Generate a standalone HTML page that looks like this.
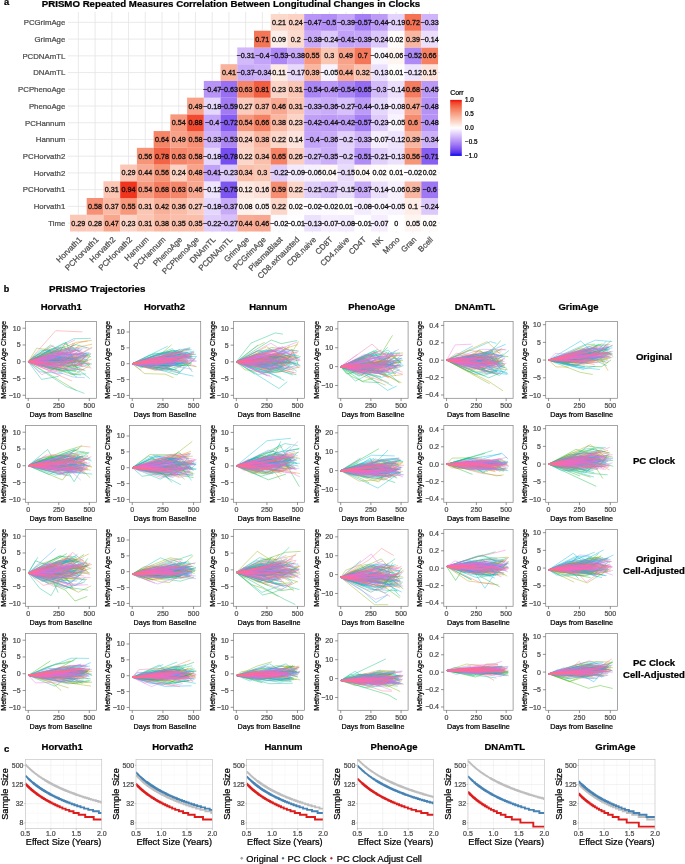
<!DOCTYPE html>
<html><head><meta charset="utf-8"><style>
html,body{margin:0;padding:0;background:#fff;}
svg text{font-family:"Liberation Sans",sans-serif;}
</style></head><body>
<svg width="685" height="864" viewBox="0 0 685 864" style="display:block;filter:blur(0.35px)">
<rect width="685" height="864" fill="#fff"/>
<g stroke="#e4e4e4" stroke-width="0.8">
<line x1="78.36" y1="12.00" x2="78.36" y2="232.45"/>
<line x1="95.09" y1="12.00" x2="95.09" y2="232.45"/>
<line x1="111.82" y1="12.00" x2="111.82" y2="232.45"/>
<line x1="128.55" y1="12.00" x2="128.55" y2="232.45"/>
<line x1="145.27" y1="12.00" x2="145.27" y2="232.45"/>
<line x1="162.00" y1="12.00" x2="162.00" y2="232.45"/>
<line x1="178.73" y1="12.00" x2="178.73" y2="232.45"/>
<line x1="195.45" y1="12.00" x2="195.45" y2="232.45"/>
<line x1="212.18" y1="12.00" x2="212.18" y2="232.45"/>
<line x1="228.91" y1="12.00" x2="228.91" y2="232.45"/>
<line x1="245.64" y1="12.00" x2="245.64" y2="232.45"/>
<line x1="262.36" y1="12.00" x2="262.36" y2="232.45"/>
<line x1="279.09" y1="12.00" x2="279.09" y2="232.45"/>
<line x1="295.82" y1="12.00" x2="295.82" y2="232.45"/>
<line x1="312.55" y1="12.00" x2="312.55" y2="232.45"/>
<line x1="329.27" y1="12.00" x2="329.27" y2="232.45"/>
<line x1="346.00" y1="12.00" x2="346.00" y2="232.45"/>
<line x1="362.73" y1="12.00" x2="362.73" y2="232.45"/>
<line x1="379.45" y1="12.00" x2="379.45" y2="232.45"/>
<line x1="396.18" y1="12.00" x2="396.18" y2="232.45"/>
<line x1="412.91" y1="12.00" x2="412.91" y2="232.45"/>
<line x1="429.64" y1="12.00" x2="429.64" y2="232.45"/>
<line x1="68.00" y1="22.36" x2="440.00" y2="22.36"/>
<line x1="68.00" y1="39.09" x2="440.00" y2="39.09"/>
<line x1="68.00" y1="55.82" x2="440.00" y2="55.82"/>
<line x1="68.00" y1="72.55" x2="440.00" y2="72.55"/>
<line x1="68.00" y1="89.27" x2="440.00" y2="89.27"/>
<line x1="68.00" y1="106.00" x2="440.00" y2="106.00"/>
<line x1="68.00" y1="122.73" x2="440.00" y2="122.73"/>
<line x1="68.00" y1="139.45" x2="440.00" y2="139.45"/>
<line x1="68.00" y1="156.18" x2="440.00" y2="156.18"/>
<line x1="68.00" y1="172.91" x2="440.00" y2="172.91"/>
<line x1="68.00" y1="189.64" x2="440.00" y2="189.64"/>
<line x1="68.00" y1="206.36" x2="440.00" y2="206.36"/>
<line x1="68.00" y1="223.09" x2="440.00" y2="223.09"/>
</g>
<g>
<rect x="70.00" y="214.73" width="16.78" height="16.78" fill="#fbc8b8"/>
<rect x="86.73" y="214.73" width="16.78" height="16.78" fill="#fbcaba"/>
<rect x="103.45" y="214.73" width="16.78" height="16.78" fill="#f8a68d"/>
<rect x="120.18" y="214.73" width="16.78" height="16.78" fill="#fcd4c7"/>
<rect x="136.91" y="214.73" width="16.78" height="16.78" fill="#fbc6b4"/>
<rect x="153.64" y="214.73" width="16.78" height="16.78" fill="#fab8a2"/>
<rect x="170.36" y="214.73" width="16.78" height="16.78" fill="#fabeaa"/>
<rect x="187.09" y="214.73" width="16.78" height="16.78" fill="#fabeaa"/>
<rect x="203.82" y="214.73" width="16.78" height="16.78" fill="#dfccfb"/>
<rect x="220.55" y="214.73" width="16.78" height="16.78" fill="#d8c1fa"/>
<rect x="237.27" y="214.73" width="16.78" height="16.78" fill="#f9ac95"/>
<rect x="254.00" y="214.73" width="16.78" height="16.78" fill="#f8a890"/>
<rect x="270.73" y="214.73" width="16.78" height="16.78" fill="#fcfaff"/>
<rect x="287.45" y="214.73" width="16.78" height="16.78" fill="#fefdff"/>
<rect x="304.18" y="214.73" width="16.78" height="16.78" fill="#ece1fd"/>
<rect x="320.91" y="214.73" width="16.78" height="16.78" fill="#f6eefe"/>
<rect x="337.64" y="214.73" width="16.78" height="16.78" fill="#f4ecfe"/>
<rect x="354.36" y="214.73" width="16.78" height="16.78" fill="#fefdff"/>
<rect x="371.09" y="214.73" width="16.78" height="16.78" fill="#f6eefe"/>
<rect x="387.82" y="214.73" width="16.78" height="16.78" fill="#ffffff"/>
<rect x="404.55" y="214.73" width="16.78" height="16.78" fill="#fef5f3"/>
<rect x="421.27" y="214.73" width="16.78" height="16.78" fill="#fffbfa"/>
<rect x="86.73" y="198.00" width="16.78" height="16.78" fill="#f79074"/>
<rect x="103.45" y="198.00" width="16.78" height="16.78" fill="#fabaa5"/>
<rect x="120.18" y="198.00" width="16.78" height="16.78" fill="#f7977b"/>
<rect x="136.91" y="198.00" width="16.78" height="16.78" fill="#fbc6b4"/>
<rect x="153.64" y="198.00" width="16.78" height="16.78" fill="#f9b09a"/>
<rect x="170.36" y="198.00" width="16.78" height="16.78" fill="#fabca7"/>
<rect x="187.09" y="198.00" width="16.78" height="16.78" fill="#fbccbd"/>
<rect x="203.82" y="198.00" width="16.78" height="16.78" fill="#e5d6fc"/>
<rect x="220.55" y="198.00" width="16.78" height="16.78" fill="#c8abf8"/>
<rect x="237.27" y="198.00" width="16.78" height="16.78" fill="#fef0eb"/>
<rect x="254.00" y="198.00" width="16.78" height="16.78" fill="#fef5f3"/>
<rect x="270.73" y="198.00" width="16.78" height="16.78" fill="#fcd6c9"/>
<rect x="287.45" y="198.00" width="16.78" height="16.78" fill="#fffbfa"/>
<rect x="304.18" y="198.00" width="16.78" height="16.78" fill="#fcfaff"/>
<rect x="320.91" y="198.00" width="16.78" height="16.78" fill="#fcfaff"/>
<rect x="337.64" y="198.00" width="16.78" height="16.78" fill="#fffdfc"/>
<rect x="354.36" y="198.00" width="16.78" height="16.78" fill="#f4ecfe"/>
<rect x="371.09" y="198.00" width="16.78" height="16.78" fill="#faf6fe"/>
<rect x="387.82" y="198.00" width="16.78" height="16.78" fill="#f8f3fe"/>
<rect x="404.55" y="198.00" width="16.78" height="16.78" fill="#feece6"/>
<rect x="421.27" y="198.00" width="16.78" height="16.78" fill="#ddc8fb"/>
<rect x="103.45" y="181.27" width="16.78" height="16.78" fill="#fbc6b4"/>
<rect x="120.18" y="181.27" width="16.78" height="16.78" fill="#f0341e"/>
<rect x="136.91" y="181.27" width="16.78" height="16.78" fill="#f7997e"/>
<rect x="153.64" y="181.27" width="16.78" height="16.78" fill="#f57c5e"/>
<rect x="170.36" y="181.27" width="16.78" height="16.78" fill="#f68669"/>
<rect x="187.09" y="181.27" width="16.78" height="16.78" fill="#f8a890"/>
<rect x="203.82" y="181.27" width="16.78" height="16.78" fill="#eee4fd"/>
<rect x="220.55" y="181.27" width="16.78" height="16.78" fill="#7d55f1"/>
<rect x="237.27" y="181.27" width="16.78" height="16.78" fill="#fde9e1"/>
<rect x="254.00" y="181.27" width="16.78" height="16.78" fill="#fde1d8"/>
<rect x="270.73" y="181.27" width="16.78" height="16.78" fill="#f78e72"/>
<rect x="287.45" y="181.27" width="16.78" height="16.78" fill="#fcd6c9"/>
<rect x="304.18" y="181.27" width="16.78" height="16.78" fill="#e1cffb"/>
<rect x="320.91" y="181.27" width="16.78" height="16.78" fill="#d8c1fa"/>
<rect x="337.64" y="181.27" width="16.78" height="16.78" fill="#eaddfc"/>
<rect x="354.36" y="181.27" width="16.78" height="16.78" fill="#c8abf8"/>
<rect x="371.09" y="181.27" width="16.78" height="16.78" fill="#ebdffc"/>
<rect x="387.82" y="181.27" width="16.78" height="16.78" fill="#f7f1fe"/>
<rect x="404.55" y="181.27" width="16.78" height="16.78" fill="#f9b6a0"/>
<rect x="421.27" y="181.27" width="16.78" height="16.78" fill="#9f77f4"/>
<rect x="120.18" y="164.55" width="16.78" height="16.78" fill="#fbc8b8"/>
<rect x="136.91" y="164.55" width="16.78" height="16.78" fill="#f9ac95"/>
<rect x="153.64" y="164.55" width="16.78" height="16.78" fill="#f79579"/>
<rect x="170.36" y="164.55" width="16.78" height="16.78" fill="#fcd2c4"/>
<rect x="187.09" y="164.55" width="16.78" height="16.78" fill="#f8a48b"/>
<rect x="203.82" y="164.55" width="16.78" height="16.78" fill="#c2a2f8"/>
<rect x="220.55" y="164.55" width="16.78" height="16.78" fill="#decafb"/>
<rect x="237.27" y="164.55" width="16.78" height="16.78" fill="#fac0ac"/>
<rect x="254.00" y="164.55" width="16.78" height="16.78" fill="#fbc7b5"/>
<rect x="270.73" y="164.55" width="16.78" height="16.78" fill="#dfccfb"/>
<rect x="287.45" y="164.55" width="16.78" height="16.78" fill="#f3ebfd"/>
<rect x="304.18" y="164.55" width="16.78" height="16.78" fill="#f7f1fe"/>
<rect x="320.91" y="164.55" width="16.78" height="16.78" fill="#fef7f5"/>
<rect x="337.64" y="164.55" width="16.78" height="16.78" fill="#eaddfc"/>
<rect x="354.36" y="164.55" width="16.78" height="16.78" fill="#fef7f5"/>
<rect x="371.09" y="164.55" width="16.78" height="16.78" fill="#fffbfa"/>
<rect x="387.82" y="164.55" width="16.78" height="16.78" fill="#fffdfc"/>
<rect x="404.55" y="164.55" width="16.78" height="16.78" fill="#fcfaff"/>
<rect x="421.27" y="164.55" width="16.78" height="16.78" fill="#fffbfa"/>
<rect x="136.91" y="147.82" width="16.78" height="16.78" fill="#f79579"/>
<rect x="153.64" y="147.82" width="16.78" height="16.78" fill="#f36447"/>
<rect x="170.36" y="147.82" width="16.78" height="16.78" fill="#f68669"/>
<rect x="187.09" y="147.82" width="16.78" height="16.78" fill="#f79074"/>
<rect x="203.82" y="147.82" width="16.78" height="16.78" fill="#e5d6fc"/>
<rect x="220.55" y="147.82" width="16.78" height="16.78" fill="#754df0"/>
<rect x="237.27" y="147.82" width="16.78" height="16.78" fill="#fcd6c9"/>
<rect x="254.00" y="147.82" width="16.78" height="16.78" fill="#fac0ac"/>
<rect x="270.73" y="147.82" width="16.78" height="16.78" fill="#f68165"/>
<rect x="287.45" y="147.82" width="16.78" height="16.78" fill="#fbcebf"/>
<rect x="304.18" y="147.82" width="16.78" height="16.78" fill="#d8c1fa"/>
<rect x="320.91" y="147.82" width="16.78" height="16.78" fill="#cbaff9"/>
<rect x="337.64" y="147.82" width="16.78" height="16.78" fill="#e2d1fb"/>
<rect x="354.36" y="147.82" width="16.78" height="16.78" fill="#b08cf6"/>
<rect x="371.09" y="147.82" width="16.78" height="16.78" fill="#e1cffb"/>
<rect x="387.82" y="147.82" width="16.78" height="16.78" fill="#ece1fd"/>
<rect x="404.55" y="147.82" width="16.78" height="16.78" fill="#f79579"/>
<rect x="421.27" y="147.82" width="16.78" height="16.78" fill="#875ef2"/>
<rect x="153.64" y="131.09" width="16.78" height="16.78" fill="#f68467"/>
<rect x="170.36" y="131.09" width="16.78" height="16.78" fill="#f8a389"/>
<rect x="187.09" y="131.09" width="16.78" height="16.78" fill="#f79074"/>
<rect x="203.82" y="131.09" width="16.78" height="16.78" fill="#cfb4f9"/>
<rect x="220.55" y="131.09" width="16.78" height="16.78" fill="#ac87f5"/>
<rect x="237.27" y="131.09" width="16.78" height="16.78" fill="#fcd2c4"/>
<rect x="254.00" y="131.09" width="16.78" height="16.78" fill="#fab8a2"/>
<rect x="270.73" y="131.09" width="16.78" height="16.78" fill="#fcd6c9"/>
<rect x="287.45" y="131.09" width="16.78" height="16.78" fill="#fde5dd"/>
<rect x="304.18" y="131.09" width="16.78" height="16.78" fill="#c3a4f8"/>
<rect x="320.91" y="131.09" width="16.78" height="16.78" fill="#caadf9"/>
<rect x="337.64" y="131.09" width="16.78" height="16.78" fill="#e2d1fb"/>
<rect x="354.36" y="131.09" width="16.78" height="16.78" fill="#cfb4f9"/>
<rect x="371.09" y="131.09" width="16.78" height="16.78" fill="#f6eefe"/>
<rect x="387.82" y="131.09" width="16.78" height="16.78" fill="#eee4fd"/>
<rect x="404.55" y="131.09" width="16.78" height="16.78" fill="#f9b6a0"/>
<rect x="421.27" y="131.09" width="16.78" height="16.78" fill="#cdb2f9"/>
<rect x="170.36" y="114.36" width="16.78" height="16.78" fill="#f7997e"/>
<rect x="187.09" y="114.36" width="16.78" height="16.78" fill="#f2492f"/>
<rect x="203.82" y="114.36" width="16.78" height="16.78" fill="#c3a4f8"/>
<rect x="220.55" y="114.36" width="16.78" height="16.78" fill="#855cf2"/>
<rect x="237.27" y="114.36" width="16.78" height="16.78" fill="#f7997e"/>
<rect x="254.00" y="114.36" width="16.78" height="16.78" fill="#f58062"/>
<rect x="270.73" y="114.36" width="16.78" height="16.78" fill="#fab8a2"/>
<rect x="287.45" y="114.36" width="16.78" height="16.78" fill="#fcd4c7"/>
<rect x="304.18" y="114.36" width="16.78" height="16.78" fill="#c09ff7"/>
<rect x="320.91" y="114.36" width="16.78" height="16.78" fill="#bc9bf7"/>
<rect x="337.64" y="114.36" width="16.78" height="16.78" fill="#c09ff7"/>
<rect x="354.36" y="114.36" width="16.78" height="16.78" fill="#a47ef5"/>
<rect x="371.09" y="114.36" width="16.78" height="16.78" fill="#decafb"/>
<rect x="387.82" y="114.36" width="16.78" height="16.78" fill="#f8f3fe"/>
<rect x="404.55" y="114.36" width="16.78" height="16.78" fill="#f68c6f"/>
<rect x="421.27" y="114.36" width="16.78" height="16.78" fill="#b592f6"/>
<rect x="187.09" y="97.64" width="16.78" height="16.78" fill="#f8a389"/>
<rect x="203.82" y="97.64" width="16.78" height="16.78" fill="#e5d6fc"/>
<rect x="220.55" y="97.64" width="16.78" height="16.78" fill="#a17af4"/>
<rect x="237.27" y="97.64" width="16.78" height="16.78" fill="#fbccbd"/>
<rect x="254.00" y="97.64" width="16.78" height="16.78" fill="#fabaa5"/>
<rect x="270.73" y="97.64" width="16.78" height="16.78" fill="#f8a890"/>
<rect x="287.45" y="97.64" width="16.78" height="16.78" fill="#fbc6b4"/>
<rect x="304.18" y="97.64" width="16.78" height="16.78" fill="#cfb4f9"/>
<rect x="320.91" y="97.64" width="16.78" height="16.78" fill="#caadf9"/>
<rect x="337.64" y="97.64" width="16.78" height="16.78" fill="#d8c1fa"/>
<rect x="354.36" y="97.64" width="16.78" height="16.78" fill="#bc9bf7"/>
<rect x="371.09" y="97.64" width="16.78" height="16.78" fill="#e5d6fc"/>
<rect x="387.82" y="97.64" width="16.78" height="16.78" fill="#f4ecfe"/>
<rect x="404.55" y="97.64" width="16.78" height="16.78" fill="#f8a68d"/>
<rect x="421.27" y="97.64" width="16.78" height="16.78" fill="#b592f6"/>
<rect x="203.82" y="80.91" width="16.78" height="16.78" fill="#b794f6"/>
<rect x="220.55" y="80.91" width="16.78" height="16.78" fill="#9970f3"/>
<rect x="237.27" y="80.91" width="16.78" height="16.78" fill="#f68669"/>
<rect x="254.00" y="80.91" width="16.78" height="16.78" fill="#f35d40"/>
<rect x="270.73" y="80.91" width="16.78" height="16.78" fill="#fcd4c7"/>
<rect x="287.45" y="80.91" width="16.78" height="16.78" fill="#fbc6b4"/>
<rect x="304.18" y="80.91" width="16.78" height="16.78" fill="#aa85f5"/>
<rect x="320.91" y="80.91" width="16.78" height="16.78" fill="#b996f7"/>
<rect x="337.64" y="80.91" width="16.78" height="16.78" fill="#aa85f5"/>
<rect x="354.36" y="80.91" width="16.78" height="16.78" fill="#946cf3"/>
<rect x="371.09" y="80.91" width="16.78" height="16.78" fill="#d3bbfa"/>
<rect x="387.82" y="80.91" width="16.78" height="16.78" fill="#ebdffc"/>
<rect x="404.55" y="80.91" width="16.78" height="16.78" fill="#f57c5e"/>
<rect x="421.27" y="80.91" width="16.78" height="16.78" fill="#bb99f7"/>
<rect x="220.55" y="64.18" width="16.78" height="16.78" fill="#f9b29c"/>
<rect x="237.27" y="64.18" width="16.78" height="16.78" fill="#c8abf8"/>
<rect x="254.00" y="64.18" width="16.78" height="16.78" fill="#cdb2f9"/>
<rect x="270.73" y="64.18" width="16.78" height="16.78" fill="#fdebe3"/>
<rect x="287.45" y="64.18" width="16.78" height="16.78" fill="#e7d8fc"/>
<rect x="304.18" y="64.18" width="16.78" height="16.78" fill="#f9b6a0"/>
<rect x="320.91" y="64.18" width="16.78" height="16.78" fill="#f8f3fe"/>
<rect x="337.64" y="64.18" width="16.78" height="16.78" fill="#f9ac95"/>
<rect x="354.36" y="64.18" width="16.78" height="16.78" fill="#fac4b1"/>
<rect x="371.09" y="64.18" width="16.78" height="16.78" fill="#ece1fd"/>
<rect x="387.82" y="64.18" width="16.78" height="16.78" fill="#fffdfc"/>
<rect x="404.55" y="64.18" width="16.78" height="16.78" fill="#eee4fd"/>
<rect x="421.27" y="64.18" width="16.78" height="16.78" fill="#fde3da"/>
<rect x="237.27" y="47.45" width="16.78" height="16.78" fill="#d2b9f9"/>
<rect x="254.00" y="47.45" width="16.78" height="16.78" fill="#c3a4f8"/>
<rect x="270.73" y="47.45" width="16.78" height="16.78" fill="#ac87f5"/>
<rect x="287.45" y="47.45" width="16.78" height="16.78" fill="#c7a9f8"/>
<rect x="304.18" y="47.45" width="16.78" height="16.78" fill="#f7977b"/>
<rect x="320.91" y="47.45" width="16.78" height="16.78" fill="#fbc7b5"/>
<rect x="337.64" y="47.45" width="16.78" height="16.78" fill="#f8a389"/>
<rect x="354.36" y="47.45" width="16.78" height="16.78" fill="#f57759"/>
<rect x="371.09" y="47.45" width="16.78" height="16.78" fill="#faf6fe"/>
<rect x="387.82" y="47.45" width="16.78" height="16.78" fill="#fef4f0"/>
<rect x="404.55" y="47.45" width="16.78" height="16.78" fill="#ae8af6"/>
<rect x="421.27" y="47.45" width="16.78" height="16.78" fill="#f58062"/>
<rect x="254.00" y="30.73" width="16.78" height="16.78" fill="#f57557"/>
<rect x="270.73" y="30.73" width="16.78" height="16.78" fill="#feeee9"/>
<rect x="287.45" y="30.73" width="16.78" height="16.78" fill="#fcdacd"/>
<rect x="304.18" y="30.73" width="16.78" height="16.78" fill="#c7a9f8"/>
<rect x="320.91" y="30.73" width="16.78" height="16.78" fill="#ddc8fb"/>
<rect x="337.64" y="30.73" width="16.78" height="16.78" fill="#c2a2f8"/>
<rect x="354.36" y="30.73" width="16.78" height="16.78" fill="#c5a6f8"/>
<rect x="371.09" y="30.73" width="16.78" height="16.78" fill="#ddc8fb"/>
<rect x="387.82" y="30.73" width="16.78" height="16.78" fill="#fffbfa"/>
<rect x="404.55" y="30.73" width="16.78" height="16.78" fill="#f9b6a0"/>
<rect x="421.27" y="30.73" width="16.78" height="16.78" fill="#ebdffc"/>
<rect x="270.73" y="14.00" width="16.78" height="16.78" fill="#fcd8cb"/>
<rect x="287.45" y="14.00" width="16.78" height="16.78" fill="#fcd2c4"/>
<rect x="304.18" y="14.00" width="16.78" height="16.78" fill="#b794f6"/>
<rect x="320.91" y="14.00" width="16.78" height="16.78" fill="#b28ef6"/>
<rect x="337.64" y="14.00" width="16.78" height="16.78" fill="#c5a6f8"/>
<rect x="354.36" y="14.00" width="16.78" height="16.78" fill="#a47ef5"/>
<rect x="371.09" y="14.00" width="16.78" height="16.78" fill="#bc9bf7"/>
<rect x="387.82" y="14.00" width="16.78" height="16.78" fill="#e4d3fc"/>
<rect x="404.55" y="14.00" width="16.78" height="16.78" fill="#f57354"/>
<rect x="421.27" y="14.00" width="16.78" height="16.78" fill="#cfb4f9"/>
</g>
<g font-family="Liberation Sans, sans-serif" font-size="7.2" fill="#111" stroke="#111" stroke-width="0.3" text-anchor="middle">
<text x="78.36" y="225.59">0.29</text>
<text x="95.09" y="225.59">0.28</text>
<text x="111.82" y="225.59">0.47</text>
<text x="128.55" y="225.59">0.23</text>
<text x="145.27" y="225.59">0.31</text>
<text x="162.00" y="225.59">0.38</text>
<text x="178.73" y="225.59">0.35</text>
<text x="195.45" y="225.59">0.35</text>
<text x="212.18" y="225.59">−0.22</text>
<text x="228.91" y="225.59">−0.27</text>
<text x="245.64" y="225.59">0.44</text>
<text x="262.36" y="225.59">0.46</text>
<text x="279.09" y="225.59">−0.02</text>
<text x="295.82" y="225.59">−0.01</text>
<text x="312.55" y="225.59">−0.13</text>
<text x="329.27" y="225.59">−0.07</text>
<text x="346.00" y="225.59">−0.08</text>
<text x="362.73" y="225.59">−0.01</text>
<text x="379.45" y="225.59">−0.07</text>
<text x="396.18" y="225.59">0</text>
<text x="412.91" y="225.59">0.05</text>
<text x="429.64" y="225.59">0.02</text>
<text x="95.09" y="208.86">0.58</text>
<text x="111.82" y="208.86">0.37</text>
<text x="128.55" y="208.86">0.55</text>
<text x="145.27" y="208.86">0.31</text>
<text x="162.00" y="208.86">0.42</text>
<text x="178.73" y="208.86">0.36</text>
<text x="195.45" y="208.86">0.27</text>
<text x="212.18" y="208.86">−0.18</text>
<text x="228.91" y="208.86">−0.37</text>
<text x="245.64" y="208.86">0.08</text>
<text x="262.36" y="208.86">0.05</text>
<text x="279.09" y="208.86">0.22</text>
<text x="295.82" y="208.86">0.02</text>
<text x="312.55" y="208.86">−0.02</text>
<text x="329.27" y="208.86">−0.02</text>
<text x="346.00" y="208.86">0.01</text>
<text x="362.73" y="208.86">−0.08</text>
<text x="379.45" y="208.86">−0.04</text>
<text x="396.18" y="208.86">−0.05</text>
<text x="412.91" y="208.86">0.1</text>
<text x="429.64" y="208.86">−0.24</text>
<text x="111.82" y="192.14">0.31</text>
<text x="128.55" y="192.14">0.94</text>
<text x="145.27" y="192.14">0.54</text>
<text x="162.00" y="192.14">0.68</text>
<text x="178.73" y="192.14">0.63</text>
<text x="195.45" y="192.14">0.46</text>
<text x="212.18" y="192.14">−0.12</text>
<text x="228.91" y="192.14">−0.75</text>
<text x="245.64" y="192.14">0.12</text>
<text x="262.36" y="192.14">0.16</text>
<text x="279.09" y="192.14">0.59</text>
<text x="295.82" y="192.14">0.22</text>
<text x="312.55" y="192.14">−0.21</text>
<text x="329.27" y="192.14">−0.27</text>
<text x="346.00" y="192.14">−0.15</text>
<text x="362.73" y="192.14">−0.37</text>
<text x="379.45" y="192.14">−0.14</text>
<text x="396.18" y="192.14">−0.06</text>
<text x="412.91" y="192.14">0.39</text>
<text x="429.64" y="192.14">−0.6</text>
<text x="128.55" y="175.41">0.29</text>
<text x="145.27" y="175.41">0.44</text>
<text x="162.00" y="175.41">0.56</text>
<text x="178.73" y="175.41">0.24</text>
<text x="195.45" y="175.41">0.48</text>
<text x="212.18" y="175.41">−0.41</text>
<text x="228.91" y="175.41">−0.23</text>
<text x="245.64" y="175.41">0.34</text>
<text x="262.36" y="175.41">0.3</text>
<text x="279.09" y="175.41">−0.22</text>
<text x="295.82" y="175.41">−0.09</text>
<text x="312.55" y="175.41">−0.06</text>
<text x="329.27" y="175.41">0.04</text>
<text x="346.00" y="175.41">−0.15</text>
<text x="362.73" y="175.41">0.04</text>
<text x="379.45" y="175.41">0.02</text>
<text x="396.18" y="175.41">0.01</text>
<text x="412.91" y="175.41">−0.02</text>
<text x="429.64" y="175.41">0.02</text>
<text x="145.27" y="158.68">0.56</text>
<text x="162.00" y="158.68">0.78</text>
<text x="178.73" y="158.68">0.63</text>
<text x="195.45" y="158.68">0.58</text>
<text x="212.18" y="158.68">−0.18</text>
<text x="228.91" y="158.68">−0.78</text>
<text x="245.64" y="158.68">0.22</text>
<text x="262.36" y="158.68">0.34</text>
<text x="279.09" y="158.68">0.65</text>
<text x="295.82" y="158.68">0.26</text>
<text x="312.55" y="158.68">−0.27</text>
<text x="329.27" y="158.68">−0.35</text>
<text x="346.00" y="158.68">−0.2</text>
<text x="362.73" y="158.68">−0.51</text>
<text x="379.45" y="158.68">−0.21</text>
<text x="396.18" y="158.68">−0.13</text>
<text x="412.91" y="158.68">0.56</text>
<text x="429.64" y="158.68">−0.71</text>
<text x="162.00" y="141.95">0.64</text>
<text x="178.73" y="141.95">0.49</text>
<text x="195.45" y="141.95">0.58</text>
<text x="212.18" y="141.95">−0.33</text>
<text x="228.91" y="141.95">−0.53</text>
<text x="245.64" y="141.95">0.24</text>
<text x="262.36" y="141.95">0.38</text>
<text x="279.09" y="141.95">0.22</text>
<text x="295.82" y="141.95">0.14</text>
<text x="312.55" y="141.95">−0.4</text>
<text x="329.27" y="141.95">−0.36</text>
<text x="346.00" y="141.95">−0.2</text>
<text x="362.73" y="141.95">−0.33</text>
<text x="379.45" y="141.95">−0.07</text>
<text x="396.18" y="141.95">−0.12</text>
<text x="412.91" y="141.95">0.39</text>
<text x="429.64" y="141.95">−0.34</text>
<text x="178.73" y="125.23">0.54</text>
<text x="195.45" y="125.23">0.88</text>
<text x="212.18" y="125.23">−0.4</text>
<text x="228.91" y="125.23">−0.72</text>
<text x="245.64" y="125.23">0.54</text>
<text x="262.36" y="125.23">0.66</text>
<text x="279.09" y="125.23">0.38</text>
<text x="295.82" y="125.23">0.23</text>
<text x="312.55" y="125.23">−0.42</text>
<text x="329.27" y="125.23">−0.44</text>
<text x="346.00" y="125.23">−0.42</text>
<text x="362.73" y="125.23">−0.57</text>
<text x="379.45" y="125.23">−0.23</text>
<text x="396.18" y="125.23">−0.05</text>
<text x="412.91" y="125.23">0.6</text>
<text x="429.64" y="125.23">−0.48</text>
<text x="195.45" y="108.50">0.49</text>
<text x="212.18" y="108.50">−0.18</text>
<text x="228.91" y="108.50">−0.59</text>
<text x="245.64" y="108.50">0.27</text>
<text x="262.36" y="108.50">0.37</text>
<text x="279.09" y="108.50">0.46</text>
<text x="295.82" y="108.50">0.31</text>
<text x="312.55" y="108.50">−0.33</text>
<text x="329.27" y="108.50">−0.36</text>
<text x="346.00" y="108.50">−0.27</text>
<text x="362.73" y="108.50">−0.44</text>
<text x="379.45" y="108.50">−0.18</text>
<text x="396.18" y="108.50">−0.08</text>
<text x="412.91" y="108.50">0.47</text>
<text x="429.64" y="108.50">−0.48</text>
<text x="212.18" y="91.77">−0.47</text>
<text x="228.91" y="91.77">−0.63</text>
<text x="245.64" y="91.77">0.63</text>
<text x="262.36" y="91.77">0.81</text>
<text x="279.09" y="91.77">0.23</text>
<text x="295.82" y="91.77">0.31</text>
<text x="312.55" y="91.77">−0.54</text>
<text x="329.27" y="91.77">−0.46</text>
<text x="346.00" y="91.77">−0.54</text>
<text x="362.73" y="91.77">−0.65</text>
<text x="379.45" y="91.77">−0.3</text>
<text x="396.18" y="91.77">−0.14</text>
<text x="412.91" y="91.77">0.68</text>
<text x="429.64" y="91.77">−0.45</text>
<text x="228.91" y="75.05">0.41</text>
<text x="245.64" y="75.05">−0.37</text>
<text x="262.36" y="75.05">−0.34</text>
<text x="279.09" y="75.05">0.11</text>
<text x="295.82" y="75.05">−0.17</text>
<text x="312.55" y="75.05">0.39</text>
<text x="329.27" y="75.05">−0.05</text>
<text x="346.00" y="75.05">0.44</text>
<text x="362.73" y="75.05">0.32</text>
<text x="379.45" y="75.05">−0.13</text>
<text x="396.18" y="75.05">0.01</text>
<text x="412.91" y="75.05">−0.12</text>
<text x="429.64" y="75.05">0.15</text>
<text x="245.64" y="58.32">−0.31</text>
<text x="262.36" y="58.32">−0.4</text>
<text x="279.09" y="58.32">−0.53</text>
<text x="295.82" y="58.32">−0.38</text>
<text x="312.55" y="58.32">0.55</text>
<text x="329.27" y="58.32">0.3</text>
<text x="346.00" y="58.32">0.49</text>
<text x="362.73" y="58.32">0.7</text>
<text x="379.45" y="58.32">−0.04</text>
<text x="396.18" y="58.32">0.06</text>
<text x="412.91" y="58.32">−0.52</text>
<text x="429.64" y="58.32">0.66</text>
<text x="262.36" y="41.59">0.71</text>
<text x="279.09" y="41.59">0.09</text>
<text x="295.82" y="41.59">0.2</text>
<text x="312.55" y="41.59">−0.38</text>
<text x="329.27" y="41.59">−0.24</text>
<text x="346.00" y="41.59">−0.41</text>
<text x="362.73" y="41.59">−0.39</text>
<text x="379.45" y="41.59">−0.24</text>
<text x="396.18" y="41.59">0.02</text>
<text x="412.91" y="41.59">0.39</text>
<text x="429.64" y="41.59">−0.14</text>
<text x="279.09" y="24.86">0.21</text>
<text x="295.82" y="24.86">0.24</text>
<text x="312.55" y="24.86">−0.47</text>
<text x="329.27" y="24.86">−0.5</text>
<text x="346.00" y="24.86">−0.39</text>
<text x="362.73" y="24.86">−0.57</text>
<text x="379.45" y="24.86">−0.44</text>
<text x="396.18" y="24.86">−0.19</text>
<text x="412.91" y="24.86">0.72</text>
<text x="429.64" y="24.86">−0.33</text>
</g>
<g font-family="Liberation Sans, sans-serif" font-size="7.8" fill="#4d4d4d" text-anchor="end" stroke="#4d4d4d" stroke-width="0.24">
<text x="65.3" y="25.16">PCGrimAge</text>
<text x="65.3" y="41.89">GrimAge</text>
<text x="65.3" y="58.62">PCDNAmTL</text>
<text x="65.3" y="75.35">DNAmTL</text>
<text x="65.3" y="92.07">PCPhenoAge</text>
<text x="65.3" y="108.80">PhenoAge</text>
<text x="65.3" y="125.53">PCHannum</text>
<text x="65.3" y="142.25">Hannum</text>
<text x="65.3" y="158.98">PCHorvath2</text>
<text x="65.3" y="175.71">Horvath2</text>
<text x="65.3" y="192.44">PCHorvath1</text>
<text x="65.3" y="209.16">Horvath1</text>
<text x="65.3" y="225.89">Time</text>
</g>
<g font-family="Liberation Sans, sans-serif" font-size="8" fill="#4d4d4d" text-anchor="end" stroke="#4d4d4d" stroke-width="0.24">
<text x="82.36" y="240.15" transform="rotate(-45 82.36 240.15)">Horvath1</text>
<text x="99.09" y="240.15" transform="rotate(-45 99.09 240.15)">PCHorvath1</text>
<text x="115.82" y="240.15" transform="rotate(-45 115.82 240.15)">Horvath2</text>
<text x="132.55" y="240.15" transform="rotate(-45 132.55 240.15)">PCHorvath2</text>
<text x="149.27" y="240.15" transform="rotate(-45 149.27 240.15)">Hannum</text>
<text x="166.00" y="240.15" transform="rotate(-45 166.00 240.15)">PCHannum</text>
<text x="182.73" y="240.15" transform="rotate(-45 182.73 240.15)">PhenoAge</text>
<text x="199.45" y="240.15" transform="rotate(-45 199.45 240.15)">PCPhenoAge</text>
<text x="216.18" y="240.15" transform="rotate(-45 216.18 240.15)">DNAmTL</text>
<text x="232.91" y="240.15" transform="rotate(-45 232.91 240.15)">PCDNAmTL</text>
<text x="249.64" y="240.15" transform="rotate(-45 249.64 240.15)">GrimAge</text>
<text x="266.36" y="240.15" transform="rotate(-45 266.36 240.15)">PCGrimAge</text>
<text x="283.09" y="240.15" transform="rotate(-45 283.09 240.15)">PlasmaBlast</text>
<text x="299.82" y="240.15" transform="rotate(-45 299.82 240.15)">CD8.exhausted</text>
<text x="316.55" y="240.15" transform="rotate(-45 316.55 240.15)">CD8.naive</text>
<text x="333.27" y="240.15" transform="rotate(-45 333.27 240.15)">CD8T</text>
<text x="350.00" y="240.15" transform="rotate(-45 350.00 240.15)">CD4.naive</text>
<text x="366.73" y="240.15" transform="rotate(-45 366.73 240.15)">CD4T</text>
<text x="383.45" y="240.15" transform="rotate(-45 383.45 240.15)">NK</text>
<text x="400.18" y="240.15" transform="rotate(-45 400.18 240.15)">Mono</text>
<text x="416.91" y="240.15" transform="rotate(-45 416.91 240.15)">Gran</text>
<text x="433.64" y="240.15" transform="rotate(-45 433.64 240.15)">Bcell</text>
</g>
<defs><linearGradient id="lg" x1="0" y1="0" x2="0" y2="1">
<stop offset="0.000" stop-color="#ed0808"/>
<stop offset="0.050" stop-color="#f1432a"/>
<stop offset="0.100" stop-color="#f36042"/>
<stop offset="0.150" stop-color="#f57759"/>
<stop offset="0.200" stop-color="#f68c6f"/>
<stop offset="0.250" stop-color="#f8a186"/>
<stop offset="0.300" stop-color="#f9b49e"/>
<stop offset="0.350" stop-color="#fbc7b5"/>
<stop offset="0.400" stop-color="#fcdacd"/>
<stop offset="0.450" stop-color="#feece6"/>
<stop offset="0.500" stop-color="#ffffff"/>
<stop offset="0.550" stop-color="#f2e8fd"/>
<stop offset="0.600" stop-color="#e2d1fb"/>
<stop offset="0.650" stop-color="#d3bbfa"/>
<stop offset="0.700" stop-color="#c3a4f8"/>
<stop offset="0.750" stop-color="#b28ef6"/>
<stop offset="0.800" stop-color="#9f77f4"/>
<stop offset="0.850" stop-color="#8960f2"/>
<stop offset="0.900" stop-color="#7048f0"/>
<stop offset="0.950" stop-color="#502fed"/>
<stop offset="1.000" stop-color="#0303e8"/>
</linearGradient></defs>
<rect x="450.2" y="99.9" width="11.6" height="56" fill="url(#lg)"/>
<g font-family="Liberation Sans, sans-serif" font-size="6.3" fill="#000" stroke="#000" stroke-width="0.24">
<text x="450.2" y="95.3" font-size="6.9">Corr</text>
<text x="465" y="102.10">1.0</text>
<text x="465" y="116.10">0.5</text>
<text x="465" y="130.10">0.0</text>
<text x="465" y="144.10">−0.5</text>
<text x="465" y="158.10">−1.0</text>
</g>
<g font-family="Liberation Sans, sans-serif" font-weight="bold" fill="#000" stroke="#000" stroke-width="0.24">
<text x="4" y="5.2" font-size="9.3">a</text>
<text x="41.8" y="7.2" font-size="9.68">PRISMO Repeated Measures Correlation Between Longitudinal Changes in Clocks</text>
<text x="3.8" y="292" font-size="9">b</text>
<text x="49" y="292" font-size="9.8">PRISMO Trajectories</text>
<text x="3.9" y="752" font-size="9.6">c</text>
</g>
<g fill="none" stroke-width="5" stroke-opacity="0.82" transform="scale(0.1)">
<path stroke="#f8766d" d="M282 3617l194 8 87-25M1323 3637l237 68 109-19 135 48M2363 3619l185-23 266-83 75-26M3407 3666l415 146M4466 3602l120-22 220-22 176 5M5486 3601l301-116 183 25 117-17M282 4657l242-111 131 17 165 42M1323 4677l483-65M2363 4659l309-33 222-59M3407 4706l291-17M4466 4642l297 8 231-65 67 42M5486 4641l203-14 135-65 69 47M282 5731l478 170M1323 5742l285-62 199 37 107-1M2363 5725l372 37 73 19 177-23M3407 5774l225 7 208 67 179-10M4466 5665l272-36 150 32 158 10M5486 5698l333-22 152-49M282 6754l223-29 183 42 159-41M1323 6773l272 31M2363 6755l279-8 232 22M3407 6805l337-29 256-17M4466 6705l345 5 137-8 60-2M5486 6738l309-50"/>
<path stroke="#f77867" d="M282 3617l437 193M1323 3637l90 66M2363 3619l194-73 105-9M3407 3666l452-67M4466 3602l195 57 168-108 156 32M5486 3601l279 19 85 7 95 19M282 4657l360 13 79-19 148-27M1323 4677l446-26 125-9M2363 4659l436 50 156-34M3407 4706l363 3 135-39M4466 4642l354 92 194 24M5486 4641l314-16 146-11 121-45M282 5731l279-30 238-24M1323 5742l277-17 239 52M2363 5725l276-24 265-41M3407 5774l283-175 125-115 122 71M4466 5665l183-5 247-18M5486 5698l341-74 83 90 168-18M282 6754l196 10 210 48 130-51M1323 6773l198 16 197-27M2363 6755l479-7M3407 6805l312-29 108-37 89 7M4466 6705l280-3 121-3M5486 6738l190-27 117-97 82 117"/>
<path stroke="#f57961" d="M282 3617l290 4 146 34M1323 3637l302 48 155-71 80-21M2363 3619l354 47 84-66M3407 3666l353-37 265 92M4466 3602l310-33 239-51M5486 3601l380-15 258-136M282 4657l316 0 259 41M1323 4677l273-23 154 38 120-13M2363 4659l266 48 93-92 158-79M3407 4706l358-102 230-22M4466 4642l211-22 242 32 105-18M5486 4641l367 12 136-7 107 54M282 5731l269 49 166-33 127 13M1323 5742l293 12 171 4 152 15M2363 5725l247 34 151-55M3407 5774l279-72M4466 5665l242 42 143-2 156-14M5486 5698l332-50 189 28 95-36M282 6754l152 14M1323 6773l301 29 130-46 109-2M2363 6755l281 12 81 0M3407 6805l445-34 179-6M4466 6705l321-33 194 2M5486 6738l435-57 78 17 80-23"/>
<path stroke="#f47b5b" d="M282 3617l238-17 210 13M1323 3637l50 10 137-41M2363 3619l219 86 231-89 142 19M3407 3666l270 65 98-1 111 42M4466 3602l150 39 219-24 132-7M5486 3601l468-54 155 25M282 4657l194-2 187-5M1323 4677l209-47 117 70 155-49M2363 4659l433-26M3407 4706l442-5M4466 4642l443 46M5486 4641l126-16 257-38M282 5731l375-44 201-1M1323 5742l242-10 146-35 168 17M2363 5725l308-115 141 80M3407 5774l424 58 171-127M4466 5665l433-26 86 55 80-47M5486 5698l235 2 94-9 164-60M282 6754l417-35 178 1M1323 6773l487 5 151-32M2363 6755l436 1M3407 6805l253 15 94 7M4466 6705l179 4M5486 6738l476-26 131 10"/>
<path stroke="#f27c55" d="M282 3617l322-55 169 47 131 39M1323 3637l254-20 249-31M2363 3619l231 20 80-71M3407 3666l388 38 136-74 65-31M4466 3602l438 7 95-25M5486 3601l447-37M282 4657l105-46 209 4 159-50M1323 4677l387-71 179-27M2363 4659l275-51 233 13M3407 4706l303 10 76-5 179 60M4466 4642l264 18 173-42 140 81M5486 4641l450-14 86 12M282 5731l222-54 206-16 132 24M1323 5742l143-57 228-16M2363 5725l359-10 177 99M3407 5774l186-13 99 74 172 36M4466 5665l135 21 240 36 166 2M5486 5698l156-3M282 6754l220 12 85 49 155-69M1323 6773l232-31 204 24 126-88M2363 6755l336-40M3407 6805l417-19 209-31M4466 6705l201 9 91-1M5486 6738l99 7 105-8 93 9"/>
<path stroke="#f07e4e" d="M282 3617l482 61M1323 3637l349-120 133 31M2363 3619l392-58 105-86M3407 3666l313 39 223-22M4466 3602l339-38 118 46M5486 3601l399-114M282 4657l440 2M1323 4677l254-36 233-75 65 8M2363 4659l287-4 258 4M3407 4706l331-1M4466 4642l316 16 262 48M5486 4641l327 5 145-49M282 5731l243-54 103 51 136-29M1323 5742l316-49 221-1M2363 5725l316-63 249-72M3407 5774l399-26 121-2 73 50M4466 5665l452 25M5486 5698l378-61 75 0M282 6754l185-21 123 0 130 45M1323 6773l292 26 238-51M2363 6755l250 16M3407 6805l257-18 138-46 150-27M4466 6705l218-3 114 3 60-21M5486 6738l449-29 153-11"/>
<path stroke="#ef7f47" d="M282 3617l188 18 106-48 77-7M1323 3637l427-58 121-36M2363 3619l242 47 91 33 124-67M3407 3666l312 86 172 78M4466 3602l275-64 255 101M5486 3601l319-24 254-48 65 12M282 4657l257 7 108 96 81-34M1323 4677l407-51M2363 4659l194-10 257 68 117-50M3407 4706l306-34 114 6M4466 4642l126-16 209 6 160-13M5486 4641l377-44 122 63M282 5731l263 5 259-93M1323 5742l201 57 112-30 150-38M2363 5725l327-112 186 91 85 10M3407 5774l298 2 165-12 104-6M4466 5665l174-28 229-24M5486 5698l217 34 248 4 106-61M282 6754l392-60 249 20M1323 6773l423-37M2363 6755l311-18 236-52 65-1M3407 6805l148 53 90-42M4466 6705l367 36 108 63M5486 6738l186 36 187-44 179 27"/>
<path stroke="#ed813f" d="M282 3617l467-28 143 37M1323 3637l258 4 97-21 85 22M2363 3619l315 0 225-9M3407 3666l205 15 180-40 108 50M4466 3602l467 34 97 4M5486 3601l211 43 216-24M282 4657l459-144 74-51 89 8M1323 4677l263-13 204-21 130-35M2363 4659l378 14 225 15M3407 4706l192-67 115 25 144 51M4466 4642l330-22 166 10 106 3M5486 4641l465 7 137 4M282 5731l413-47 145 12M1323 5742l468 10M2363 5725l381-63 213-30M3407 5774l314 8 100-31 137 2M4466 5665l133 43 176-35 120 9M5486 5698l490-13M282 6754l463-99 118 6M1323 6773l357-86 225-87M2363 6755l199-50M3407 6805l327 3M4466 6705l231 18 187 20 90-19M5486 6738l474-38 114-3"/>
<path stroke="#eb8236" d="M282 3617l291-19 146-20 177-1M1323 3637l379-7 160-66M2363 3619l462-50 160-53M3407 3666l248 60M4466 3602l127 27 248-31M5486 3601l274 49 271-34M282 4657l156 5 130-29 101-23M1323 4677l343-3 157-6M2363 4659l379-113 219-4M3407 4706l116-9 238 20 108-5M4466 4642l224 7 167 15 122-28M5486 4641l342-110M282 5731l310 25 78-36M1323 5742l213-36M2363 5725l379 0 232 0M3407 5774l167 16 193-66 137-58M4466 5665l211 28 253 36 126-51M5486 5698l335-79M282 6754l172 43 263-42 113-20M1323 6773l138-50 173 1M2363 6755l314-45 261 3M3407 6805l386-7 155-11M4466 6705l291 6 153 28 117-2M5486 6738l72 20 269-54 146 18"/>
<path stroke="#e9842c" d="M282 3617l415-143 93-48 87-15M1323 3637l393-70 162 10M2363 3619l479 16M3407 3666l192 24M4466 3602l272 48 233-84M5486 3601l351 33 89-8M282 4657l105-25 159-17M1323 4677l395-6M2363 4659l224 24 122-10 96 125M3407 4706l307-29 218 21 77 0M4466 4642l114 45 101-15M5486 4641l232-23 99 43 140-25M282 5731l275-94 255 42 106-36M1323 5742l310-93 173 5M2363 5725l456-121 135 81M3407 5774l200-15 225 74 65-52M4466 5665l376 73M5486 5698l241-17M282 6754l246 25 182-32 132 29M1323 6773l265-24 190-25M2363 6755l378-32M3407 6805l452 2 125-12M4466 6705l354-27M5486 6738l419-40 120-22"/>
<path stroke="#e7851e" d="M282 3617l188-48 123 65M1323 3637l223 4 180 6M2363 3619l421-51M3407 3666l326-30 238-90M4466 3602l112 15 149-75 72 20M5486 3601l326-19 267 43M282 4657l327-107 147 6M1323 4677l426-11 171-63M2363 4659l405-92M3407 4706l157 11 152-14 135-36M4466 4642l253 16 244 18M5486 4641l449-68 76-37M282 5731l276-48M1323 5742l159 58 192-18 139-52M2363 5725l206-35 180-39M3407 5774l340-96M4466 5665l368 10 108-25M5486 5698l376-27 145 74M282 6754l266-52M1323 6773l392-16 124 12 62-25M2363 6755l202-68M3407 6805l306-43 150 14 92 35M4466 6705l290-6M5486 6738l398-17"/>
<path stroke="#e58708" d="M282 3617l199-13 236-38M1323 3637l199-74 204-51 130 36M2363 3619l71 33M3407 3666l156 10 164-64 72 107M4466 3602l226-100 136 23 96 7M5486 3601l402-54 241-8M282 4657l406-44M1323 4677l321 25 267-27M2363 4659l405-74 163-11M3407 4706l441 42 142-54M4466 4642l357 30 152-1M5486 4641l286-112M282 5731l427-47M1323 5742l199-26M2363 5725l244-64 195 43 130-4M3407 5774l271-92 131 10 172-36M4466 5665l389 6 225 5M5486 5698l484 19M282 6754l340 11 231-15M1323 6773l290 6 186-77 67 65M2363 6755l480-33 115-4M3407 6805l322 37 99 0 72-25M4466 6705l300 21M5486 6738l392-32 182-43"/>
<path stroke="#e38800" d="M282 3617l120-34M1323 3637l258-18M2363 3619l206-13 125-102 170 46M3407 3666l243-33 230-70 147-10M4466 3602l111-11M5486 3601l489-70 106 176M282 4657l273-6 166 24M1323 4677l423 20 94 4M2363 4659l287-8M3407 4706l292 12 81 3M4466 4642l387-3M5486 4641l195-18 144 18 61-79M282 5731l183-67 179-76 110 6M1323 5742l331-72 264-9M2363 5725l306-48M3407 5774l228-25 171-21 171 113M4466 5665l128 16 89 11M5486 5698l248 25 177-3 158-40M282 6754l354-48 143-38M1323 6773l280-2 105 10M2363 6755l109 2 136-7 114-15M3407 6805l318-51 174 2M4466 6705l203-8M5486 6738l318-44 269-37"/>
<path stroke="#e18a00" d="M282 3617l407-125 232-50M1323 3637l140 40 203 2 92-32M2363 3619l219-16 95 8 92 51M3407 3666l243-11 97 63M4466 3602l447-5M5486 3601l167 0 108-21M282 4657l277-17 250-56M1323 4677l396-49 139 25 68-35M2363 4659l230 77 84 4M3407 4706l450-79 171 1M4466 4642l335-17 252-16M5486 4641l388-87 207-50M282 5731l488-141M1323 5742l114-73 194-5M2363 5725l368 80M3407 5774l322-50 81-17 74-80M4466 5665l261-24 213-3M5486 5698l350-6 223 0M282 6754l373-6 230-43M1323 6773l384 51 83-61 97 0M2363 6755l362-34 243-25M3407 6805l422-31 123-5M4466 6705l292-4 120 4 164 2M5486 6738l69-7 209 2 145-28"/>
<path stroke="#df8b00" d="M282 3617l53-55 124 67 175 40M1323 3637l54-8 112-21M2363 3619l409-47M3407 3666l323-1 123 69 84-97M4466 3602l271-4 199 32 66-18M5486 3601l341-25 99 25 63-4M282 4657l454 6 139 19M1323 4677l190 44 238-43 184 15M2363 4659l250-17 218-64M3407 4706l373 17 192-29M4466 4642l168 44 244-53 154 10M5486 4641l343-37 268-82M282 5731l435-43 116-50 65 1M1323 5742l250-17 138-17M2363 5725l204-37 142 76M3407 5774l212-14 191 105 166-6M4466 5665l430-30 161-28M5486 5698l398-1 75-48 83 47M282 6754l215-15 93-18M1323 6773l282-7 142 59 138-46M2363 6755l416-59 102-26 68-2M3407 6805l322-64 167 37 126-18M4466 6705l272-28 114 3M5486 6738l413 12"/>
<path stroke="#dd8d00" d="M282 3617l298-109 201 76 71-7M1323 3637l399-75 208 9M2363 3619l407 108 234-58M3407 3666l253-60 250 53M4466 3602l353 96 136-88M5486 3601l334-15 236-73M282 4657l242-5 79-39 95-1M1323 4677l452-13M2363 4659l440-69 145-23M3407 4706l368-88M4466 4642l342-17 233 19M5486 4641l359 59M282 5731l360 91M1323 5742l204-19 179 33 66-23M2363 5725l253 26 186-32 123-18M3407 5774l253-23 183 27 175-52M4466 5665l310 59 204 20M5486 5698l311-10 91-12M282 6754l258 30 125-7 171 14M1323 6773l289-20 103-56M2363 6755l159-29 175 66 168-74M3407 6805l274 31 108-34 138 7M4466 6705l181 19 245-24 74 19M5486 6738l435 28"/>
<path stroke="#da8e00" d="M282 3617l485-195 152-18M1323 3637l82-28 228-47 72-50M2363 3619l347-69 121 12M3407 3666l342-28 174-80 81 65M4466 3602l218 34 214-9 91-22M5486 3601l306-20M282 4657l352 12 116 7 96-54M1323 4677l286-42 75-32 67-18M2363 4659l161 77 174-64M3407 4706l222-36 80 18 117 5M4466 4642l305 38 107 23 70 3M5486 4641l395-25 145-22M282 5731l308 13 224-89M1323 5742l360 17 96-1 183-58M2363 5725l432-89 81-8M3407 5774l241-55 160 19M4466 5665l426 60M5486 5698l368 57 244-46M282 6754l472-48M1323 6773l351-77 248 2M2363 6755l319 32 94-31M3407 6805l390 1 159-24M4466 6705l377-16 207-1M5486 6738l306-60 104-27 72 14"/>
<path stroke="#d89000" d="M282 3617l447-38 181-39M1323 3637l419-30M2363 3619l338-30 179-4M3407 3666l330 32M4466 3602l256 23 128-50 85 5M5486 3601l361-19 220-21M282 4657l411-57 223 66M1323 4677l397 0 218-67M2363 4659l267 36 210 10 159 31M3407 4706l315 16 83-12 69-14M4466 4642l464 6 149 2M5486 4641l291-17 76-15M282 5731l394 75M1323 5742l341 62M2363 5725l375-85 236 34M3407 5774l345-44 222-27M4466 5665l224 12 251 39M5486 5698l241-76 215 26 132 9M282 6754l319 12 191 6M1323 6773l196-26 215-57M2363 6755l342 3 212-25 64-71M3407 6805l317-18 247-19M4466 6705l194 13 256 23M5486 6738l245 22 106-7 158 7"/>
<path stroke="#d59100" d="M282 3617l393-40 130-40 112-64M1323 3637l354-90 223-62M2363 3619l304-152 243 149M3407 3666l458-33 94 128M4466 3602l374 39 154-12M5486 3601l206-14 128-6 138-67M282 4657l199 49 124-39 170-25M1323 4677l435-134 145 116M2363 4659l437 6M3407 4706l331-32 117-56 131 29M4466 4642l291 28 199 48M5486 4641l419-195 165 138M282 5731l416-73M1323 5742l400-15 177-97M2363 5725l78 51 123-59 113-16M3407 5774l454-20 140 13M4466 5665l357-14 144-8 123-71M5486 5698l218 25 134-57M282 6754l389-42M1323 6773l449-39M2363 6755l436-90 111-7M3407 6805l392-23 99 7M4466 6705l384 7 156-20M5486 6738l225-12 92 27"/>
<path stroke="#d39300" d="M282 3617l352-31 77-57 83-79M1323 3637l97 26 113-23 143-24M2363 3619l244-103 229 59 152-21M3407 3666l225-94 81 51M4466 3602l249-2 75 6 122-7M5486 3601l462 7M282 4657l356-46 229-22M1323 4677l400-6 94-47M2363 4659l289-62 134 31 112-53M3407 4706l227 48 134-20 138 29M4466 4642l296-1 82-6M5486 4641l233-14 89-53 126 8M282 5731l280-18 119 24 144-78M1323 5742l286 4 226-82M2363 5725l299-1M3407 5774l206-26 175-79 142 3M4466 5665l199-2M5486 5698l381-39 221 22M282 6754l246-11 109 36 64-50M1323 6773l412-36 111 27 98-42M2363 6755l260 16 78-38 121 3M3407 6805l187-28M4466 6705l436-7M5486 6738l451-53 80 1 95 12"/>
<path stroke="#d09400" d="M282 3617l327 16 183-10 123-29M1323 3637l346-75 234-26M2363 3619l348-25 134-107 132-41M3407 3666l398-15M4466 3602l133 43 194-25 141-8M5486 3601l386-77 115 13 113 5M282 4657l436 2M1323 4677l405 37 156-38M2363 4659l269 19 183 56M3407 4706l330-61M4466 4642l190 18 177-2M5486 4641l364 34 253-17M282 5731l229-60 243-71 141 138M1323 5742l121-53 123 26M2363 5725l477-2M3407 5774l53 33 115-81 66 6M4466 5665l328 81 252 2M5486 5698l493-62M282 6754l275-2 237-21M1323 6773l430-26M2363 6755l58 4 220-15 84-30M3407 6805l347-17 233 48M4466 6705l358-14 101 18 134-11M5486 6738l218 14 232-27 175-46"/>
<path stroke="#cd9500" d="M282 3617l310 74 258-62M1323 3637l469-78 114-17M2363 3619l250 19 261 72 66 18M3407 3666l368-27 140 7 90-23M4466 3602l272 54 83-33M5486 3601l192 27 157-92M282 4657l211 12M1323 4677l182 26 115 13 176 61M2363 4659l297-3 89-62 81 73M3407 4706l476-27M4466 4642l260-8 127 30 104-23M5486 4641l188 0 76 11 154-53M282 5731l343-20 113-20 91 0M1323 5742l368-28 144-4M2363 5725l423-68 208 54M3407 5774l277-73 115 52M4466 5665l237 5 213-22 63 26M5486 5698l140 30 151-38M282 6754l288-3 269-19M1323 6773l380-37 216 1M2363 6755l130 30 191-33M3407 6805l287-21M4466 6705l402 13 84 25M5486 6738l189-6 122-28"/>
<path stroke="#cb9700" d="M282 3617l206-27 87-35 157-41M1323 3637l250-28 268-9M2363 3619l464 28M3407 3666l213-18 179-33 168 57M4466 3602l401 31 164-30M5486 3601l444-2M282 4657l380 38 123-58 63-39M1323 4677l480-68M2363 4659l207-50M3407 4706l216-15 191-98 155 99M4466 4642l315 21M5486 4641l284-42 178 22 79 35M282 5731l343 46 243-76M1323 5742l342-55 169-16M2363 5725l361 106 157 31 85-43M3407 5774l250-4 78 24 72-88M4466 5665l232 26 109-68 101 24M5486 5698l261-27M282 6754l309-35 92-10 168-25M1323 6773l279-52 241-3 108 42M2363 6755l322-31 109-20 84-45M3407 6805l357-25 145 1 87-27M4466 6705l402-16 210 26M5486 6738l281-95 167-3"/>
<path stroke="#c89800" d="M282 3617l415-49M1323 3637l263-24M2363 3619l481-45 132 8M3407 3666l235-63M4466 3602l406-186 146 140M5486 3601l400-63 204-12M282 4657l290-56 155-17 114 7M1323 4677l296-73 157-42 134-50M2363 4659l293-42 231-4M3407 4706l293 51 169-5 136 2M4466 4642l198-8M5486 4641l239-47 102-17 121 7M282 5731l221 48 89-38 140 102M1323 5742l354-68 84 55M2363 5725l267 31 244-30 130-66M3407 5774l370 55 162-68M4466 5665l214 145 232 28 73 11M5486 5698l118-60M282 6754l346-7 183 17M1323 6773l184-19 257-53 100 36M2363 6755l331-14 200 45M3407 6805l340 36 94-21 129 15M4466 6705l248 19 255 8 98-19M5486 6738l98-4 235-88 167 7"/>
<path stroke="#c59900" d="M282 3617l242-14 159-7 102-1M1323 3637l229 62 79-45 84 48M2363 3619l436 58 109-57M3407 3666l301 8 150-44 107 44M4466 3602l210-12 123 37 149-23M5486 3601l281-22 261-89M282 4657l372-66 228-34M1323 4677l319-15 112-30 129-19M2363 4659l461-194M3407 4706l413 20 141-57M4466 4642l272-9 103 30 113-34M5486 4641l445-51 146-16M282 5731l461-120 145-72M1323 5742l438-32 120 1M2363 5725l222 99 189-74 178 28M3407 5774l371 9 247-16M4466 5665l235 36 157 16M5486 5698l241 9 257-54 98 6M282 6754l456 24 132-58M1323 6773l487 0 99-51M2363 6755l330-29 136-18M3407 6805l208-11 152 7 140 13M4466 6705l273 12 199-36 110 32M5486 6738l314-20 186-17"/>
<path stroke="#c29b00" d="M282 3617l154-45 98 59 93-121M1323 3637l407-39 146-34M2363 3619l477-56M3407 3666l455-64M4466 3602l330 3M5486 3601l293-51 223-40M282 4657l424 8 200 37M1323 4677l348 10 220-13M2363 4659l242-46 90-6M3407 4706l292-68M4466 4642l50 37 134-3M5486 4641l253-63 266-68M282 5731l358 19 96-16M1323 5742l262 10 215-43M2363 5725l452-143 145-29M3407 5774l257 47 173-65 167 53M4466 5665l228 36 82 7M5486 5698l395 17 147 36M282 6754l424-101M1323 6773l282-55 190 18M2363 6755l327-13 245-4M3407 6805l118-16M4466 6705l290 19 152-16M5486 6738l335 24 110-29"/>
<path stroke="#bf9c00" d="M282 3617l261-111 230 59M1323 3637l454-97 172 56M2363 3619l294-25 174-35 73-6M3407 3666l255 11 226-34M4466 3602l302 59 82 25 95-57M5486 3601l354-13 86-13 172 8M282 4657l262-25 178-64 84 9M1323 4677l341 74 267-12M2363 4659l349 20 206-117 83 25M3407 4706l185 105 219-13 113-36M4466 4642l197 3 117-15 109 28M5486 4641l476-24M282 5731l244-54 222 14 114-35M1323 5742l245-1 244-46 63 8M2363 5725l234-94 148 52 157-42M3407 5774l279-10 241 60M4466 5665l189 36 137 0 128-32M5486 5698l189-57 134-18 173-53M282 6754l484-13 79 30M1323 6773l365-11 269 12M2363 6755l428 24 149 10M3407 6805l191 21 82-19 179 31M4466 6705l419 21 197 4M5486 6738l454-2 85 20"/>
<path stroke="#bc9d00" d="M282 3617l399-1M1323 3637l378-46 216-21M2363 3619l350-57 188 46M3407 3666l209-18 138 29M4466 3602l258 100 85-90M5486 3601l73 68 129 2M282 4657l199-2 210-101M1323 4677l455-77 164 39M2363 4659l290-64 227 75M3407 4706l331-38 221 11 72-62M4466 4642l356-6 168 60M5486 4641l175-3 168 7 99 11M282 5731l342-7 146-114 100 19M1323 5742l383-67 204-33M2363 5725l363 31 150-83M3407 5774l74 41 158-61M4466 5665l269 22 249 12M5486 5698l277-42 138-17 169 17M282 6754l286-17 109-24M1323 6773l106 25 135-18 150-42M2363 6755l167-18 267 26 80-28M3407 6805l288 61 89-44 119 17M4466 6705l365-14 172 4M5486 6738l203-49 76 27 86 10"/>
<path stroke="#b89e00" d="M282 3617l323-15M1323 3637l261 7 236-43 81 23M2363 3619l200-67 229-13M3407 3666l337 37 126 62 157-19M4466 3602l473-32M5486 3601l436-42M282 4657l319 86 239-90 79 18M1323 4677l224-4M2363 4659l200 58 155-37 86-72M3407 4706l450-15M4466 4642l75 0M5486 4641l184-79 193 1 132-14M282 5731l148-36M1323 5742l396-10 157 24M2363 5725l395-16M3407 5774l448 45 181-118M4466 5665l411 12M5486 5698l199 52 84-47 99 9M282 6754l335-35 89-33M1323 6773l261-4 122 2 132-33M2363 6755l212-10 206 2 130-18M3407 6805l468 6 144-9M4466 6705l401 19 216 16M5486 6738l452-65 190 3"/>
<path stroke="#b5a000" d="M282 3617l148 38 256-52 161 9M1323 3637l479-54M2363 3619l213-63 195 65 71-25M3407 3666l256 49 89-61 142 9M4466 3602l340 8 217-128M5486 3601l408-23M282 4657l413 39M1323 4677l460-108 144-7M2363 4659l413 21M3407 4706l430-78 174 13M4466 4642l452 43M5486 4641l226 5 128-14 88-38M282 5731l247-16 131 43 121 31M1323 5742l235-1 158-20M2363 5725l487-52M3407 5774l112-58 152-53 164 38M4466 5665l320-31 227 62 68-85M5486 5698l184-51 115 9 71-20M282 6754l242-30 251-9M1323 6773l324-41 172-10 138 46M2363 6755l238-13 243-42 77-35M3407 6805l338-45 179 14M4466 6705l432-5 89-1 68 3M5486 6738l435-21 143-26"/>
<path stroke="#b2a100" d="M282 3617l453 131 152-86M1323 3637l238 13 201-32 103-32M2363 3619l427-79 189 43M3407 3666l322 34 103 30 169 101M4466 3602l431 27 135-20M5486 3601l182-5 193-1 65-44M282 4657l231-7 162-2 124 53M1323 4677l76-33 103 27 115-4M2363 4659l482-67M3407 4706l462 58 160-51M4466 4642l422 47 118-15M5486 4641l223 12 181-67 82-34M282 5731l442 58 92-44M1323 5742l467 3M2363 5725l87 0 243-66 105 12M3407 5774l463 66 133 40M4466 5665l244-15 121 38 162-46M5486 5698l384-30 237-1M282 6754l260-11 209-18M1323 6773l281-74 245 25M2363 6755l133-8 205 34 161-83M3407 6805l68-37 125 4 98 13M4466 6705l388-4 89-2 111-2M5486 6738l303-24 156-38"/>
<path stroke="#aea200" d="M282 3617l473-43M1323 3637l260-64 184-6 171-44M2363 3619l262 54 103-87M3407 3666l421-16 143-101M4466 3602l413-36 148 60M5486 3601l330 26 266-35M282 4657l464-46M1323 4677l463-59M2363 4659l451 50 108-62M3407 4706l238 35 128-52 67 11M4466 4642l137 25 130-18 79-31M5486 4641l301 1 89-38 66 18M282 5731l472 59M1323 5742l173 68M2363 5725l231-61 130-44 69-78M3407 5774l350 16 172-115M4466 5665l410 10 153-60M5486 5698l452-52M282 6754l203 28 81-92 143 12M1323 6773l315-27M2363 6755l287-41M3407 6805l313-55 202-3M4466 6705l465 2 80-28M5486 6738l397-122 220 4"/>
<path stroke="#aaa300" d="M282 3617l232-129 121 104M1323 3637l273 8M2363 3619l353 81 182-62M3407 3666l449 186M4466 3602l180 33 139-127 171 62M5486 3601l405-32 217 11M282 4657l254 27 247-66M1323 4677l264-23 92-77 164 74M2363 4659l195 53M3407 4706l289-3 220-28M4466 4642l357 12 71-42 97 14M5486 4641l172-27 165 33 108-2M282 5731l362 0 236-12M1323 5742l400-22M2363 5725l77-51 241-5 68 48M3407 5774l225 64 189 36 102-10M4466 5665l314-44 213 66M5486 5698l365-72 161 13M282 6754l351-21 239 12M1323 6773l275-20 252-18 113-31M2363 6755l268-1 192-27M3407 6805l355 2 170-17M4466 6705l415 6 141-4M5486 6738l302-22"/>
<path stroke="#a7a400" d="M282 3617l220-13 91-10M1323 3637l108-9M2363 3619l308 32 152-135 76-58M3407 3666l441-119 182-18M4466 3602l156 25 225 59M5486 3601l277 57 144-78M282 4657l283 1 97 23 111 11M1323 4677l455-66M2363 4659l263-12 111-76M3407 4706l270-19 231 35M4466 4642l86 23 137-17M5486 4641l345 23 145-2 80-16M282 5731l264-74 180 78 78-76M1323 5742l90-22 218-4M2363 5725l462 24 131-70M3407 5774l146-70 167 23 134-38M4466 5665l451 0M5486 5698l256 124M282 6754l476-11 127 46M1323 6773l239-23 136-33M2363 6755l312-42 204 10 86-36M3407 6805l282-60 205-22M4466 6705l401 1 181 7M5486 6738l453-51 80-6"/>
<path stroke="#a3a500" d="M282 3617l321 61M1323 3637l380-17 262 47M2363 3619l281-35 199 58M3407 3666l262-12 261-100M4466 3602l402-34M5486 3601l194-9 203-61M282 4657l403 28 196 4M1323 4677l281 48 151-58 112 0M2363 4659l104 30 218 0 155 31M3407 4706l201-50 153 104 69 23M4466 4642l420 2M5486 4641l408-13 208-91M282 5731l297-21 112-158M1323 5742l418-17 90-35M2363 5725l318 129M3407 5774l249-21 186-30M4466 5665l375 92 170-23M5486 5698l258-34 190 8 141 7M282 6754l202-4 117-78 85 3M1323 6773l401-13M2363 6755l474-8M3407 6805l220-46 220-44M4466 6705l212-23 248 29M5486 6738l318-65 186 2"/>
<path stroke="#9fa700" d="M282 3617l192-90 247 20M1323 3637l129-14 157-30M2363 3619l351-54 128 86 145-236M3407 3666l258-83 115 95 63-6M4466 3602l119-49 84 1 145 76M5486 3601l229-44 96-33 164-66M282 4657l168-28 204-62M1323 4677l396-82 172-60M2363 4659l276-91 117 61 104-83M3407 4706l341-54 217 38M4466 4642l244 19 112 32 130-8M5486 4641l202-58 90 31 151 34M282 5731l130-93 190-64 153 79M1323 5742l417-67 202-12M2363 5725l207 12 169 64 64-8M3407 5774l402-26M4466 5665l356 14 210-75M5486 5698l432 13M282 6754l378 71 250 36M1323 6773l146 40 267-36M2363 6755l308-30 124 8 134-26M3407 6805l254 20M4466 6705l77 1 165 3M5486 6738l319-54 75-12 103-19"/>
<path stroke="#9ba800" d="M282 3617l438 17M1323 3637l321 46 235-79M2363 3619l85 79 259 36M3407 3666l446 81 163 81M4466 3602l383 30 165-40M5486 3601l79 4 234-14 168-12M282 4657l244-79 156 26 132-34M1323 4677l298-50 146-36M2363 4659l291 62 254-48M3407 4706l455 33 118-54M4466 4642l171-8M5486 4641l351-5 118-61M282 5731l460-6M1323 5742l269-55M2363 5725l418 52 159 135M3407 5774l430 22M4466 5665l359 65 182-41M5486 5698l360-10 95 5 122-23M282 6754l309 38 131 28 151-1M1323 6773l474-14 78-10M2363 6755l300-39 109-13M3407 6805l427-43M4466 6705l218-10M5486 6738l428 17"/>
<path stroke="#96a900" d="M282 3617l337 35 206-61 61-56M1323 3637l123 99 206 6 85 36M2363 3619l472 20M3407 3666l461-142 106 81M4466 3602l285 144 201-19M5486 3601l206 28 253-81M282 4657l290 49 221-50M1323 4677l295-63 228 178M2363 4659l254 9 140 6 135-6M3407 4706l405-13M4466 4642l234-66M5486 4641l135 8 234 47 160-92M282 5731l352 73 150-78 94-74M1323 5742l461-31M2363 5725l260-29 145 65M3407 5774l339 273 136 0M4466 5665l444 72M5486 5698l270-77 220-24M282 6754l191 19 89-17M1323 6773l435-33 112-26M2363 6755l191 2M3407 6805l260 3 94 8 168 2M4466 6705l191-9 180 27M5486 6738l130 35 166-47 149 39"/>
<path stroke="#92aa00" d="M282 3617l85-135 113 14 108 102M1323 3637l237-37M2363 3619l145-2 95-20 143-22M3407 3666l403 41M4466 3602l420 211 145 96M5486 3601l335-7 181-23M282 4657l352-27 261-50M1323 4677l338 18 105-51 130 22M2363 4659l381-121 80 15 164-30M3407 4706l169 22 196-71 67 37M4466 4642l321-28 143 20M5486 4641l483-127M282 5731l297 95 205 96 127-64M1323 5742l432-69 152-4M2363 5725l209-212 246 157 99-61M3407 5774l49-71 148-56 64 58M4466 5665l384 41 90-58 84-35M5486 5698l387 131 243-154M282 6754l232 65 98 87M1323 6773l238-9 135-59M2363 6755l241-16 113-55M3407 6805l375-101 182 19M4466 6705l361 30 101-38 107-3M5486 6738l477-16"/>
<path stroke="#8dab00" d="M282 3617l230 33 76 50 94 3M1323 3637l484-95M2363 3619l363-35 108 75M3407 3666l370 19 253-83M4466 3602l252 35 222 40 137 22M5486 3601l341-99 182 39 78-78M282 4657l184 25 210-29 175-21M1323 4677l313 13 142 10 165 40M2363 4659l246-53 207-29M3407 4706l200-36 197 42 154-17M4466 4642l248 3 113-3 117 9M5486 4641l355 26 248-90M282 5731l486-143M1323 5742l146-63 102 66M2363 5725l356-147 90 49M3407 5774l382-119 105 42M4466 5665l326-34 177 11M5486 5698l437-51M282 6754l461-45 156-10M1323 6773l412 42 97-107 101 67M2363 6755l203-2 265-35 145 49M3407 6805l395-33 194-20M4466 6705l201-65 211 31 146-3M5486 6738l238 47 86-23 175-41"/>
<path stroke="#89ac00" d="M282 3617l391-54M1323 3637l256-39 104-28 137 23M2363 3619l108-18 246 76M3407 3666l174 54 184-74M4466 3602l258 35 107-5M5486 3601l282 1 154-95M282 4657l241-64 75 26 64 54M1323 4677l398-108 202-155M2363 4659l259 12 161-166M3407 4706l200-117M4466 4642l281 54M5486 4641l208-42 139 25 88 14M282 5731l373 5 76-83M1323 5742l289 77 83 5 159-109M2363 5725l148 121 110 33 163 86M3407 5774l269-47 83 28 77-29M4466 5665l452 26M5486 5698l267-24 95 5 114 6M282 6754l232 13 134 25 158-39M1323 6773l303 23M2363 6755l468 9 172 36M3407 6805l311 17 89-8 110-14M4466 6705l276 55 85-97 69 3M5486 6738l359-31 198-63 86-20"/>
<path stroke="#84ad00" d="M282 3617l222-151M1323 3637l250-65 143-125M2363 3619l210-159 74-37M3407 3666l352 61 118-34 140-28M4466 3602l311-4 143-33M5486 3601l222 45 227-55 139-5M282 4657l225-87 146 57M1323 4677l213-24 142 10M2363 4659l320 18 181-110M3407 4706l249-26 75 13M4466 4642l320 74 181 43 68-11M5486 4641l234-112 220-39M282 5731l257 23 235-99 91 10M1323 5742l191-30 185 6 67-29M2363 5725l262 39 233-63 146 43M3407 5774l161-64 249 144 92-74M4466 5665l297-50 90 57 138-16M5486 5698l346 18 146-41 78 26M282 6754l406 126M1323 6773l435 10 135-54M2363 6755l51-38 171-21 71-31M3407 6805l419-96 128-1M4466 6705l203 14 149 26 79-37M5486 6738l94-31 226-46 115-23"/>
<path stroke="#7eae00" d="M282 3617l346-49 119-136M1323 3637l68 1 172-10 131 40M2363 3619l288-11 261 30M3407 3666l418 11M4466 3602l431 236M5486 3601l467 0M282 4657l217-85 160 74 62-68M1323 4677l436 56M2363 4659l427-48 151 18M3407 4706l379 113 98-117M4466 4642l401 38 107 21M5486 4641l119-32 171 93M282 5731l345 54 245 10M1323 5742l487 23M2363 5725l137 23 122 80 107-7M3407 5774l242-129 197 33M4466 5665l276 50 233-36M5486 5698l278-31 143-92 172 12M282 6754l443-23M1323 6773l277 27 177 18 116-6M2363 6755l309 2 258-100M3407 6805l236-68 254 64M4466 6705l455 10M5486 6738l478-12 143-18"/>
<path stroke="#79af00" d="M282 3617l241-40M1323 3637l300 12M2363 3619l468-153M3407 3666l443-78M4466 3602l327-37 119-69 73 126M5486 3601l315 122 127 22M282 4657l417 4 117 8M1323 4677l173-131 204 0 111-9M2363 4659l249 70 132-2M3407 4706l471-5M4466 4642l452 9 150 49M5486 4641l365-79 131 54 76-21M282 5731l321-119 184 0M1323 5742l232-23 235-77 148 52M2363 5725l406-2 75 22 114-34M3407 5774l241 53M4466 5665l229 8 73 50M5486 5698l447-84 81-60M282 6754l331 20 92-87 149 43M1323 6773l236-5 120 28M2363 6755l210-95 145-42M3407 6805l357 0 238 110M4466 6705l277 7 206 26 137-21M5486 6738l103 0 85 3 138-19"/>
<path stroke="#73b000" d="M282 3617l477 94M1323 3637l324 35 142 40M2363 3619l353-145 256 35M3407 3666l348-116 108 41M4466 3602l205-19 182 114M5486 3601l196-56 114 19M282 4657l378 69 172-16 70 68M1323 4677l249-8M2363 4659l326-79 136 4M3407 4706l294-11 186-9M4466 4642l382-42M5486 4641l330 80 146-50M282 5731l147 84 132-88 90 28M1323 5742l469-9M2363 5725l467-3 161-60M3407 5774l407-185 173 203M4466 5665l277 67 175-59 155 89M5486 5698l304-55 171 103M282 6754l218-12 236 93 172-35M1323 6773l143-2 150-49 109-2M2363 6755l405-99 220 19M3407 6805l247-45 154-24 138 3M4466 6705l325-7 74-58 112 1M5486 6738l224-26"/>
<path stroke="#6db100" d="M282 3617l63 8 129 8 123 52M1323 3637l251-6 100-65M2363 3619l154 8 127-92 150 19M3407 3666l466 40M4466 3602l188-11 139-91 136 95M5486 3601l209-11 147-44M282 4657l343 143 113-149 74-28M1323 4677l185 15 145-13 80-7M2363 4659l317 10 181-54M3407 4706l97-4 210-67 73 47M4466 4642l55-61 190-3 109 3M5486 4641l83 34 217-7M282 5731l100-27 247-24M1323 5742l399 18 140-59 84 35M2363 5725l65-17 105 9 107 82M3407 5774l226 88 116-134 157 14M4466 5665l396-77 215-16M5486 5698l288 22 255-115M282 6754l457-84M1323 6773l228-79 160-26 91 0M2363 6755l454 22M3407 6805l271-10 257-56M4466 6705l182 0 80 4M5486 6738l464-67 84 69"/>
<path stroke="#66b100" d="M282 3617l482 288M1323 3637l196-47 181-56 103-23M2363 3619l304-6 258-54M3407 3666l106 67 113-63M4466 3602l251 45 154 60 85-34M5486 3601l221-40 126 59M282 4657l206-36 174 69 110-59M1323 4677l177-82 243-20M2363 4659l260-79 103 134 148-88M3407 4706l359 0 219 17M4466 4642l350 3 126 33M5486 4641l270 36 85-73 160-9M282 5731l276 97 90-73 86 137M1323 5742l142-69 237-95 124 21M2363 5725l275-133 131 4M3407 5774l452 57M4466 5665l447 32 152-60M5486 5698l371-63 100 42M282 6754l399 84 239-17M1323 6773l276-13M2363 6755l230 42 254-37M3407 6805l355 17 114 48 137-55M4466 6705l108 19M5486 6738l233-24 166 7 139-9"/>
<path stroke="#5fb200" d="M282 3617l382 40 141 4 93-97M1323 3637l343-75 169-50M2363 3619l358 103 102-14 68-46M3407 3666l238 29 208-53 157-21M4466 3602l212 111 201 0 99-4M5486 3601l228-82 155-72 81-6M282 4657l98-27M1323 4677l197 35M2363 4659l344-26 160 66M3407 4706l258 33M4466 4642l203 10 102 6 73 11M5486 4641l318-32 107-51M282 5731l411 23 221-74M1323 5742l386-149 124 50 99-88M2363 5725l354-22 239 41M3407 5774l298-4 181-23 129 90M4466 5665l85 14 242-40M5486 5698l319 36 215 11 63-70M282 6754l187-85 236-59M1323 6773l196 16 230-22M2363 6755l322 31 253-4M3407 6805l317-21 206 9M4466 6705l111 27 121-18 82-20M5486 6738l338-50 81-49"/>
<path stroke="#57b300" d="M282 3617l350-20 268-43M1323 3637l220-81M2363 3619l114-28 240 20M3407 3666l204-69 219 55 134-88M4466 3602l349 20 232 36M5486 3601l317-61 220-104M282 4657l329-134 209-65M1323 4677l185-39 159 52 145-125M2363 4659l481-103M3407 4706l420-6M4466 4642l409-42 125 16M5486 4641l207-45 211-9 124 198M282 5731l269 42 257-182M1323 5742l174 36 192-69M2363 5725l232-110 262-92 148-9M3407 5774l239-62 173 23M4466 5665l367 46 211 19M5486 5698l245-30 89 15 130-37M282 6754l339-13 197-16 82-33M1323 6773l458-15M2363 6755l315-24 259-19M3407 6805l249 4 102-33M4466 6705l389 20 165 19M5486 6738l215 74 195-79"/>
<path stroke="#4fb400" d="M282 3617l231 77 154-69M1323 3637l198-47 100 75 128-96M2363 3619l209 29 97-69 81-33M3407 3666l241-89 120-64M4466 3602l389 35M5486 3601l395-50 108-30 119-112M282 4657l483-110 102-13M1323 4677l275-13 86-2M2363 4659l197 76 200-143M3407 4706l157-44 183 85 140-30M4466 4642l137-13 179-13 121 2M5486 4641l269-100 261-42M282 5731l429 8 186-10M1323 5742l348-59 131 102 87-17M2363 5725l256 29 208 18 154 48M3407 5774l314-5M4466 5665l72-2 168-13M5486 5698l323-78 94-6 101-1M282 6754l154 32 179-22 90-31M1323 6773l399-50 209-44M2363 6755l228-9 247-27 158-46M3407 6805l400-48 104-12M4466 6705l234 2M5486 6738l207 79 148-47 125-27"/>
<path stroke="#45b500" d="M282 3617l382-17 116-87 91 30M1323 3637l246 51 154-162M2363 3619l442-55 178 104M3407 3666l387-96 131-217M4466 3602l317 81 90 27 109 33M5486 3601l360-109 86 83M282 4657l220-34 117 81 110 4M1323 4677l274 46 130-118M2363 4659l310 18 221-20M3407 4706l208 81 77 42M4466 4642l444 37M5486 4641l421 131M282 5731l171 17 108-17 107-8M1323 5742l216-37 240 2 172-14M2363 5725l436-90M3407 5774l356 78 79 14 155 113M4466 5665l313-22 99 15M5486 5698l452-73M282 6754l242 0 199-64 161 28M1323 6773l420 9 154-33M2363 6755l394 56 210-17M3407 6805l210 34M4466 6705l407 31 105-1M5486 6738l156 5 252-46"/>
<path stroke="#39b600" d="M282 3617l425-11 73 85M1323 3637l437-61 84 63 73-11M2363 3619l269 37M3407 3666l106 97 111 49 111-30M4466 3602l441-59 176 23M5486 3601l209 4 252-63 164-23M282 4657l468-60M1323 4677l404 53 164-59M2363 4659l237-108 104 36 87 56M3407 4706l464-10M4466 4642l232 29 78-71M5486 4641l248 13 180-32M282 5731l277-81M1323 5742l206 55M2363 5725l380 114 172-11M3407 5774l420 14 102-162M4466 5665l71 11 177 12M5486 5698l356-103 166-27M282 6754l233-27 253-146M1323 6773l345 8 89 3 179-49M2363 6755l478-32 146-1M3407 6805l313-11M4466 6705l182 2 235-4M5486 6738l398 145 118-28 125 30"/>
<path stroke="#2ab600" d="M282 3617l356 11 200-11 66 53M1323 3637l292 24 138-36M2363 3619l270-76 126 33M3407 3666l341-25 79 11 74-84M4466 3602l445 119 136-77M5486 3601l56 4 163-32 129-5M282 4657l426 8M1323 4677l408-25 161-21M2363 4659l300-40 83-83 145 73M3407 4706l206 37 133-77 169-3M4466 4642l356-32 187 1M5486 4641l204 15M282 5731l372 171 96 108 123-46M1323 5742l116 2 179 40 160-116M2363 5725l249-59 149 52 171 14M3407 5774l207 70 261-88 159 134M4466 5665l403-31 95-11M5486 5698l93 8 155 37 104 18M282 6754l221-144M1323 6773l321 20M2363 6755l212-44M3407 6805l298-7 142 7M4466 6705l378-29M5486 6738l204-1 140-21"/>
<path stroke="#11b700" d="M282 3617l300 78 176 19M1323 3637l487 23M2363 3619l384 25M3407 3666l473-57 79 63M4466 3602l262-18 89 36M5486 3601l332 60 200 6 93-68M282 4657l378 2M1323 4677l321 39 78-61 136 63M2363 4659l334 76 213-139M3407 4706l177-79M4466 4642l269 4M5486 4641l274-147 186 53 180 23M282 5731l274-28 177 26M1323 5742l284-24 125-56 146 35M2363 5725l333 30 154-60M3407 5774l116-34 179 29 83 20M4466 5665l188 61M5486 5698l419 78M282 6754l261 1 119 28 118 9M1323 6773l475-70M2363 6755l185-30 195 32 159 38M3407 6805l456-20M4466 6705l142-18 148 24 135-17M5486 6738l362-54 179 5 100-79"/>
<path stroke="#00b819" d="M282 3617l359 9 119-10M1323 3637l366 13 222 3M2363 3619l236-57 208-1M3407 3666l185 0 261-54 159-9M4466 3602l462-11 87-18M5486 3601l224-25 156-38M282 4657l279 65 109-98 91 33M1323 4677l261 50 114 25M2363 4659l96-5 199-95 148 122M3407 4706l351-21 127-69 117-12M4466 4642l365-13 145 25 99-21M5486 4641l232 1 262-19 152-21M282 5731l300-21 259-165M1323 5742l88-53 110 32 108-39M2363 5725l446 181 129-17M3407 5774l409 51 142 11M4466 5665l90 139 80-124 144 52M5486 5698l453 10M282 6754l449-47 188 35M1323 6773l356-25 166-10M2363 6755l363-15 78-9 163-20M3407 6805l325-38 85-30 88 7M4466 6705l378 44M5486 6738l61-4 97-6"/>
<path stroke="#00b927" d="M282 3617l261-17 117-179 102 251M1323 3637l211-1M2363 3619l295 18 264-143 62 156M3407 3666l61 75 232-70 75-38M4466 3602l464-89M5486 3601l141 10 169-32M282 4657l183-65 260-90 161 27M1323 4677l355 72 76-6 182 33M2363 4659l299-22M3407 4706l345 86 253-69M4466 4642l326 52 155 0 92 17M5486 4641l202-95 268-16 97-15M282 5731l336-76 187 32 71-102M1323 5742l270-34 246-32 111 37M2363 5725l362-27 188 71M3407 5774l328-12 83 20 76 67M4466 5665l265 17 83-12M5486 5698l171-30 115-96M282 6754l425 25M1323 6773l357 66 209-32M2363 6755l311-37 171 2 100-62M3407 6805l332-35 125-9 133 47M4466 6705l287 65 136-41M5486 6738l283-31 96-5 72-9"/>
<path stroke="#00b932" d="M282 3617l334 44 116-2 122 47M1323 3637l364 53 231-61M2363 3619l450 72M3407 3666l360 18M4466 3602l394-46M5486 3601l223-61 95 19M282 4657l296-61 95-57M1323 4677l207-55 152-34 64 34M2363 4659l58-4M3407 4706l382-219M4466 4642l259 102M5486 4641l234-66 161-115 155 25M282 5731l305-165 172 2M1323 5742l444 37M2363 5725l316 96 162-59M3407 5774l376-5 128 49 110-140M4466 5665l359-114 142 66M5486 5698l268 20 167 18M282 6754l339-74 132 1 74 9M1323 6773l475-67M2363 6755l261 73M3407 6805l240-26 211-18 89-38M4466 6705l51 13 135 0M5486 6738l465-15"/>
<path stroke="#00ba3b" d="M282 3617l223-166 85 57M1323 3637l342-58 254-22M2363 3619l185 123M3407 3666l370-171M4466 3602l407-75M5486 3601l193 26 147-70 171-33M282 4657l158-86 216-15M1323 4677l317 25 92 46M2363 4659l257-32 228-9 146 249M3407 4706l346 33 138-48 122-16M4466 4642l427-11M5486 4641l475 222M282 5731l72-123 194 67M1323 5742l295 8M2363 5725l315-10M3407 5774l146-45M4466 5665l303 81 228 122M5486 5698l193 6 195-70 112-100M282 6754l269-8 161-49M1323 6773l388-68 230-83M2363 6755l211-19 248-47 111-30M3407 6805l318-73 101-12M4466 6705l219 0 174 12 103-20M5486 6738l388-50 184 7"/>
<path stroke="#00bb43" d="M282 3617l218-109 203 232 106 10M1323 3637l323-35 116-14M2363 3619l355 73 246 55M3407 3666l403 101M4466 3602l354 43M5486 3601l296-36 263 37M282 4657l394 41 151-23M1323 4677l317-4 258 81M2363 4659l321 139 178-58M3407 4706l332-48 98 0 171-56M4466 4642l386-108M5486 4641l436-151 170 40M282 5731l352-45 78 5 179-39M1323 5742l469 24 142-82M2363 5725l475-46M3407 5774l294-114 180 58 119 32M4466 5665l213 17 87 2M5486 5698l386-67M282 6754l446 33 97 46M1323 6773l473 16M2363 6755l349 22 201-79 74 31M3407 6805l454-62M4466 6705l332 10 166-27M5486 6738l278-71 244 27 116-70"/>
<path stroke="#00bb4a" d="M282 3617l249 2 234-22M1323 3637l402 63 105-46M2363 3619l400 32 145-86M3407 3666l195 93 133-77M4466 3602l183 65 89 38 125-99M5486 3601l349-65 128 15 95-100M282 4657l247-61 142-44 122-69M1323 4677l99-17 125-22 173 187M2363 4659l366-148 189 90M3407 4706l222-34 250 18M4466 4642l296-13 143 15 102 17M5486 4641l316 119M282 5731l255-123 132-72M1323 5742l438-68M2363 5725l259-60 133 83 103-25M3407 5774l302 148 150-77 64-4M4466 5665l195-5 114-43M5486 5698l179-11 221-107 137 34M282 6754l395-11M1323 6773l453-42M2363 6755l293-11 220-5 123-15M3407 6805l473 142 89 52M4466 6705l297 41 200-20 117 5M5486 6738l205 21 206-49 147-21"/>
<path stroke="#00bc51" d="M282 3617l104-49 224 7M1323 3637l412-102M2363 3619l349-219 101 36 159-31M3407 3666l222-84 149 60 137-44M4466 3602l333 59 133-31 137 54M5486 3601l280 21 195-116M282 4657l416-67 91-5M1323 4677l400-80 96 132M2363 4659l203-85 251 50 94 55M3407 4706l433 15 132 61M4466 4642l273 25 87 57 113-60M5486 4641l255 1 179 32M282 5731l224 19 75 176M1323 5742l311-62 259 40M2363 5725l230-22 110-15 173-102M3407 5774l71 25 150 12 168-9M4466 5665l307-97 182-50M5486 5698l233-56 259-58 121 40M282 6754l292 23 153-47 132-37M1323 6773l313-59 240 25M2363 6755l251 19 222-34M3407 6805l434-19 168-36M4466 6705l273 9M5486 6738l277-19 228-45"/>
<path stroke="#00bc57" d="M282 3617l359 90 125-107 61 30M1323 3637l172-85 218-43 72-5M2363 3619l57-23 121-45 91-27M3407 3666l268-114 186 49M4466 3602l195-41 251 17 117 142M5486 3601l266-18 235-139 145 122M282 4657l406-37 85 31 75-5M1323 4677l255 67 230-60M2363 4659l242-50M3407 4706l310-56M4466 4642l226 19 134 25 156-47M5486 4641l305 43 125-20 140-2M282 5731l214-46 156-66 150 58M1323 5742l395-117M2363 5725l256 57M3407 5774l268-12 167 0M4466 5665l433 32 119-17 72-65M5486 5698l348 27 144-22M282 6754l462-53M1323 6773l295-58 213 13 69 43M2363 6755l418 14 189-26M3407 6805l157 0 133 5M4466 6705l419 19 97 7M5486 6738l317-50"/>
<path stroke="#00bd5d" d="M282 3617l359-187 157 87M1323 3637l329 76 119 36 74-81M2363 3619l276-62 192 49M3407 3666l221 152 168 8M4466 3602l422 176 114-49M5486 3601l371-85 227-41M282 4657l486 42M1323 4677l419-75 189 79M2363 4659l371-69 88-19 146 66M3407 4706l245 63 190 21 109 36M4466 4642l277-8 246 9M5486 4641l281 46 176 41M282 5731l420-136 113 101M1323 5742l473-10 126-21M2363 5725l264 225 108-26 102-40M3407 5774l334 22 183 21M4466 5665l193 43 170-112 93 112M5486 5698l362-10 230 31M282 6754l293 22 224-17M1323 6773l321-70 240 57M2363 6755l192-30 205 46M3407 6805l302 20 104-26 142 46M4466 6705l452 11 97-36M5486 6738l112-22 198 19 170-61"/>
<path stroke="#00bd63" d="M282 3617l244 78 88-53M1323 3637l310-8 218 3M2363 3619l356 67 103-23M3407 3666l240-43 76-69M4466 3602l355 17 187-215M5486 3601l336-3 119-81 144-20M282 4657l486-61M1323 4677l216-84 151 41M2363 4659l408-55M3407 4706l341-32M4466 4642l424 7 158 13M5486 4641l278-44 223-26M282 5731l333-1 222-38M1323 5742l431-98M2363 5725l172-19 141 74 105 30M3407 5774l418-20 138 10M4466 5665l249-44M5486 5698l366 26 81 2 151-105M282 6754l421-50 124 1M1323 6773l408-81 233 24M2363 6755l365-36M3407 6805l49-1 148-64 92 31M4466 6705l178 15 107-11M5486 6738l434-28 168-39"/>
<path stroke="#00be69" d="M282 3617l363-152 90 203 122-101M1323 3637l401-135 125 52 112-11M2363 3619l447-1 195-53M3407 3666l218-57 170 122 74-65M4466 3602l341-25M5486 3601l443-148 149-5M282 4657l226 37 161-59M1323 4677l259-6 201-150 116 88M2363 4659l379-28 130-119 122-29M3407 4706l452-61M4466 4642l241 9M5486 4641l419 92 171 15M282 5731l382 139 217 32M1323 5742l235-32 195-76 86 66M2363 5725l457 36 151-77M3407 5774l347-10 240 3M4466 5665l252 134M5486 5698l176-68 201 13M282 6754l240-44 245 35 106-30M1323 6773l332 13 210-26 64 53M2363 6755l360 35 92 9 102 15M3407 6805l279-31 92 28M4466 6705l272 12 115 0M5486 6738l355-37 233 9"/>
<path stroke="#00be6e" d="M282 3617l206 27 130-26M1323 3637l310-48 152 52M2363 3619l305 30 250-29 86 35M3407 3666l467 58 87 11M4466 3602l440 54 142 19M5486 3601l245-68 224 6 140 27M282 4657l265 30 163-36 112-3M1323 4677l411 20M2363 4659l344 12 101-17M3407 4706l332-51 153-1 96-5M4466 4642l432 43 93-14 84-52M5486 4641l221-31 173-42M282 5731l376 154 193-68M1323 5742l434-45M2363 5725l481 268 109 52M3407 5774l283 59 211-103M4466 5665l350 43M5486 5698l313 7 147 34 114-101M282 6754l361-20 198-14 81 36M1323 6773l311 76 226-84M2363 6755l228 3 248-45M3407 6805l452-216M4466 6705l282 18 261 1M5486 6738l244-34 186-17 114 18"/>
<path stroke="#00bf73" d="M282 3617l243-66 268 48M1323 3637l367-44 124 30M2363 3619l257 52 88 25 182-75M3407 3666l285-19 118-37 82-39M4466 3602l370 27 191 7M5486 3601l238 24M282 4657l354 13 168 18M1323 4677l307-38 79-14 67 96M2363 4659l317-82 148-26 76 38M3407 4706l383 13 212-27M4466 4642l426-6 175-15M5486 4641l241-33 261-1M282 5731l430-156 165 94M1323 5742l290-7 108-5 134-47M2363 5725l111 42 159-14M3407 5774l411 40M4466 5665l433-16M5486 5698l221-11 211-81 143 63M282 6754l274-115 83-3 104-31M1323 6773l110-28 227-40 170-18M2363 6755l304-34 162-24 88-25M3407 6805l149-59 240 0 137-15M4466 6705l386 3M5486 6738l351-47 231-18"/>
<path stroke="#00bf78" d="M282 3617l478-170 131 35M1323 3637l479-115M2363 3619l355 46 166-81M3407 3666l388 15 100-14M4466 3602l238-7 170 6 60-64M5486 3601l488-125M282 4657l360 0 99 160 107-173M1323 4677l166-117 103 58M2363 4659l172 3 253-101 83 2M3407 4706l97 39 128-56 111 40M4466 4642l344 33 87-10M5486 4641l454-52 193 76M282 5731l347-56M1323 5742l454-16 118-27M2363 5725l226 23 148-3M3407 5774l253 81 164 27 85-126M4466 5665l415 51M5486 5698l125 63 269-12 87-47M282 6754l443-33 115-21M1323 6773l424-58 115-9M2363 6755l307 48 263-31M3407 6805l102-65 121 90M4466 6705l355 23 260-13M5486 6738l464-27 107-21 69 19"/>
<path stroke="#00bf7d" d="M282 3617l482-12M1323 3637l430-29M2363 3619l381 14 84 58 146-40M3407 3666l277 48 189 28M4466 3602l381 35 86 22M5486 3601l357-89 236 28M282 4657l309-20 253 21M1323 4677l428 2 129 19M2363 4659l438-70M3407 4706l210 24 232 32 80-129M4466 4642l217-54 149 60M5486 4641l213 75 260-139M282 5731l360 17 138 14 93-134M1323 5742l317 10 189-25M2363 5725l75 25 92-69M3407 5774l313-17 232-170M4466 5665l244 48 191-24M5486 5698l222-71 101 39 74 62M282 6754l351-15 132-20 114-5M1323 6773l318-8 136-12 81 14M2363 6755l410 9 183-15M3407 6805l245 70 236-20 90 6M4466 6705l416 17 104-5M5486 6738l259-52 238-24 103 3"/>
<path stroke="#00c082" d="M282 3617l293 4 138-45 83-30M1323 3637l280-2 197-7M2363 3619l147-188 244-102 75 13M3407 3666l410-29M4466 3602l299-33 243-70M5486 3601l343 16M282 4657l194-162 103 170 64 25M1323 4677l266-26 83-65 98 21M2363 4659l426-109M3407 4706l289 67M4466 4642l459-136M5486 4641l192-57 245-27M282 5731l475 8M1323 5742l481 70 135-41M2363 5725l433 24 148-8M3407 5774l260 1 79-103 168 53M4466 5665l338 12 96 15 60-29M5486 5698l198-85 203-3M282 6754l307-72 102 85 68-27M1323 6773l265 34M2363 6755l239-69 268-1 109 63M3407 6805l419 13M4466 6705l424-12 197 65M5486 6738l176 49 262-38 158-12"/>
<path stroke="#00c087" d="M282 3617l200-32 209 30 178-87M1323 3637l431-23M2363 3619l463 13M3407 3666l454 84M4466 3602l451-30 106 93M5486 3601l109-4M282 4657l269-34 169-47 167 87M1323 4677l241-118 202-3M2363 4659l460-147 169-21M3407 4706l442-101 116-15 66 26M4466 4642l433-43M5486 4641l481 54 103-137M282 5731l196 98M1323 5742l369 19 88-40 117 30M2363 5725l225-52 144-43 161-158M3407 5774l203-168M4466 5665l242-16 205-47 137 15M5486 5698l480-36M282 6754l225-2 97-15M1323 6773l472-27M2363 6755l269 36 231-61M3407 6805l300 11 192-38M4466 6705l214 10 117 5 64 12M5486 6738l489 49"/>
<path stroke="#00c08b" d="M282 3617l220-58 249-19 161 26M1323 3637l335 25 199-33 67 90M2363 3619l279 108 173-51 89 14M3407 3666l259-35 265-15 92-69M4466 3602l329-23 185 13 110-88M5486 3601l492-91 110 21M282 4657l275-28 160-89 127-19M1323 4677l391-26 203-11M2363 4659l433 38M3407 4706l379 71 79-9M4466 4642l228 10 178 21M5486 4641l349-11M282 5731l468-16M1323 5742l395-19 110-60 91 36M2363 5725l454-113M3407 5774l304 119 264 15M4466 5665l308 57 145-40M5486 5698l396-40 166-40M282 6754l267 108 109-75 181 24M1323 6773l316 36 208-29M2363 6755l212-11 261 17 130-43M3407 6805l387-4 188-32M4466 6705l310-10 86 23 170-15M5486 6738l490-105"/>
<path stroke="#00c090" d="M282 3617l133 177 172-31M1323 3637l249-22 91 42 184-36M2363 3619l453-45 175 36M3407 3666l200-92 86-31 121-43M4466 3602l302 18 131 53 129-79M5486 3601l266-25 181-16 62 15M282 4657l228 21 167-24 93-66M1323 4677l415 2 226 9M2363 4659l401-98 91 37 115 3M3407 4706l269-16 104-57 149 70M4466 4642l283 39 104-25M5486 4641l357 52 215-69M282 5731l113 151 116 74 83-151M1323 5742l361-14M2363 5725l114-17 131 25 109-165M3407 5774l352 4 198 38M4466 5665l100 30 141-32M5486 5698l337-48M282 6754l137-30 237 66 92 38M1323 6773l269-123 131 118 71 4M2363 6755l192-8M3407 6805l437-7M4466 6705l423 24M5486 6738l394-57 174-20"/>
<path stroke="#00c094" d="M282 3617l207 60 264 64 108-2M1323 3637l227-106 141 18 131-35M2363 3619l318 100 162 86M3407 3666l245 22 226-215M4466 3602l383 83 99-49M5486 3601l222-29 266-123M282 4657l285-2 240 2M1323 4677l98 86 189-30 80 59M2363 4659l329-38 113 27 126-71M3407 4706l254-53 97 77 137-78M4466 4642l308 6 253-53M5486 4641l199-43 84 30M282 5731l194 19 86 0 113 83M1323 5742l348 33 254-48M2363 5725l381 96 251 76M3407 5774l204 10M4466 5665l248 132M5486 5698l417-41M282 6754l332 10 150-1M1323 6773l347 24 248-59M2363 6755l214 17 93-16 128 13M3407 6805l450-24 122 16M4466 6705l234 9M5486 6738l229-20 128 7 83-49"/>
<path stroke="#00c099" d="M282 3617l339-2 151 43 108-56M1323 3637l379 19 156 0M2363 3619l308-23 209 22 65-24M3407 3666l415 53 188-81M4466 3602l194 17 75 13 131 0M5486 3601l223 22 270-88M282 4657l435-17 128 98M1323 4677l329-48 191 75M2363 4659l361-112M3407 4706l352-8 226-58M4466 4642l198-6 190 96M5486 4641l282-54 173-13 89 35M282 5731l320-176 186 81M1323 5742l473-153 126-42M2363 5725l233-149 238 70M3407 5774l235 22M4466 5665l293-31 105 51 78 30M5486 5698l357 1 115-119M282 6754l401 30 221 2M1323 6773l312-42 110 43M2363 6755l336 82 229-5M3407 6805l321-17 236-40M4466 6705l459 35 140 18M5486 6738l281-47 152 18"/>
<path stroke="#00c19d" d="M282 3617l381 248 181 69M1323 3637l404-16 142-77M2363 3619l204-38 145 131 121-24M3407 3666l147 144 250-124M4466 3602l355 96 172 55 71-57M5486 3601l344-47 140-73M282 4657l418-130 216 84M1323 4677l439 13 165 34M2363 4659l239-37 196-175 69 117M3407 4706l182 56M4466 4642l210-62 80 8M5486 4641l118 18M282 5731l317-106 92 28 181 11M1323 5742l193 13 153-5 145-70M2363 5725l472 136M3407 5774l257 23 199 31 112 84M4466 5665l312-106 194 25M5486 5698l204-61 194 86 136-45M282 6754l170 31 96-39 102-8M1323 6773l157-62 264-17 178-36M2363 6755l489-2M3407 6805l317-53M4466 6705l435-38M5486 6738l204-64 116-15 180 35"/>
<path stroke="#00c1a1" d="M282 3617l273 16 223 59 119 94M1323 3637l244-87 177-26 172-27M2363 3619l213-110 254 5 170 68M3407 3666l376 5 153-60M4466 3602l462 3 75 21M5486 3601l252 56 204-73 113 35M282 4657l208 88 95-45 116-19M1323 4677l487-67M2363 4659l487-223 127 20M3407 4706l304-63 248-9M4466 4642l292-33 79 22M5486 4641l305-35 128 6M282 5731l361-47 191-56M1323 5742l345-16 109 45 107-47M2363 5725l161-58 98-30M3407 5774l152-33 261 2M4466 5665l180 60 194-14 145 1M5486 5698l430 14 105-6M282 6754l250-14M1323 6773l333-31 137-81M2363 6755l371-49M3407 6805l78-33 249 55 119 2M4466 6705l273 49M5486 6738l435-10 115 1"/>
<path stroke="#00c1a5" d="M282 3617l135-104 173-41M1323 3637l421-39 174-72M2363 3619l257 97 149-42M3407 3666l419-33 102 75 66-82M4466 3602l49-14 239-12M5486 3601l267 17 271-59M282 4657l315-38 231 66M1323 4677l279 114 125-62M2363 4659l421 16 99-107 67 12M3407 4706l208-23 190-82 98 5M4466 4642l425-19M5486 4641l229 51 219 12M282 5731l277-106 189-16M1323 5742l164 42 196-25 128-40M2363 5725l425-37M3407 5774l445 155 79-43 70 79M4466 5665l286 36 100-59 103 90M5486 5698l398 36M282 6754l184-8 247-2 102-50M1323 6773l206-9 218 15M2363 6755l464 3M3407 6805l246-62 82 62 68 37M4466 6705l460 18M5486 6738l255-37 81 2 162 13"/>
<path stroke="#00c1aa" d="M282 3617l456-230 170-3M1323 3637l224-18M2363 3619l218-170M3407 3666l348 102 171 92M4466 3602l255-46 168 9M5486 3601l351-89 118 30M282 4657l211-57 110-2M1323 4677l194-90 86-24M2363 4659l253-4 241-10 90 26M3407 4706l216-73 116 40M4466 4642l462-25 76 29M5486 4641l435-1 124-2M282 5731l308-38 199-43M1323 5742l362-69 197-41 68 6M2363 5725l367-66 248 109M3407 5774l337 7 188-44M4466 5665l299 111 219-30M5486 5698l91 38 185-76M282 6754l340-27 211-3M1323 6773l214-61 235-92M2363 6755l251-18 217 61M3407 6805l446-20M4466 6705l382-22M5486 6738l339 28 83-7 93-31"/>
<path stroke="#00c1ae" d="M282 3617l386 77 101 79M1323 3637l140 14 210-11 133-106M2363 3619l289 33 81-68M3407 3666l287-116M4466 3602l365 62 90 39M5486 3601l70 26 85-48M282 4657l274 94 237-64M1323 4677l279-89 266 73M2363 4659l265-122 111-24M3407 4706l239 68 195-24 74 31M4466 4642l227 55 165-53M5486 4641l320-77 203 24M282 5731l246-63 232 42M1323 5742l282-164 253 108M2363 5725l257 199 187-70M3407 5774l402-45M4466 5665l290-64 140 23 116 17M5486 5698l386 28 105 45M282 6754l318-22 78 43 100 58M1323 6773l244 2M2363 6755l185-2 197-41 123 23M3407 6805l478-20M4466 6705l79-30 88 6 105 37M5486 6738l222-7 111 5"/>
<path stroke="#00c0b2" d="M282 3617l74-64 248-78 157 29M1323 3637l232-21 123-37M2363 3619l349-3 267 16M3407 3666l476-165 147 155M4466 3602l429-7 145 41M5486 3601l372 22 210-85M282 4657l401 63 240 21M1323 4677l280 44 229-108 82 68M2363 4659l286 78 256-120M3407 4706l351-116 257 87M4466 4642l240 24 92-28 99 52M5486 4641l211-60 239-27 66 24M282 5731l398 7M1323 5742l198-66 230-12 110-39M2363 5725l419-29 150 136M3407 5774l405 57 223-53M4466 5665l246-23 89-20 102 55M5486 5698l475-61M282 6754l362-6 190-46M1323 6773l310-128M2363 6755l431 4 89-15 98 28M3407 6805l434-25M4466 6705l296 48 203 27M5486 6738l270-38 179-6 119-4"/>
<path stroke="#00c0b5" d="M282 3617l365 96 151-22M1323 3637l399-150 84 83 121-28M2363 3619l426 266 84-68M3407 3666l417-26M4466 3602l370 154 135-47M5486 3601l376-112 232-13M282 4657l437-102M1323 4677l350-53 153-1 137 23M2363 4659l246 103 190-50M3407 4706l172-45 123-79 71 157M4466 4642l463-25M5486 4641l376-153 195-12M282 5731l333-27 207 22M1323 5742l280-32 82-16 134-69M2363 5725l198-118 188 21M3407 5774l230 40 81-14M4466 5665l431 95 185-95M5486 5698l207-31 118-38M282 6754l270-30 259-84M1323 6773l465-114 99 63M2363 6755l215 3 156 6M3407 6805l283 4M4466 6705l376-28 148 23M5486 6738l371-50 174 6 83-34"/>
<path stroke="#00c0b9" d="M282 3617l373-13 122 29 143 7M1323 3637l91 32 137-31M2363 3619l232 53 159-25 87 29M3407 3666l148 22 251-34M4466 3602l153 59 209 31M5486 3601l358 96M282 4657l91-60 208 89 166-198M1323 4677l424-87 169 215M2363 4659l340-22 105-225M3407 4706l244-19 171-7M4466 4642l331 37 248 18M5486 4641l220-29 262 53 83-63M282 5731l339 73 151 6M1323 5742l431-28 139-53M2363 5725l293-22 123-33M3407 5774l311 99 169-28 122 17M4466 5665l428-75 193 48M5486 5698l461-176M282 6754l198 21 82 16M1323 6773l413 67 116-37M2363 6755l139 56 139-105 136 39M3407 6805l230 12 110-28M4466 6705l360 20 118-27M5486 6738l352-111 187 11"/>
<path stroke="#00c0bd" d="M282 3617l348-25M1323 3637l355 53 159-196 67-1M2363 3619l313 141M3407 3666l311-4M4466 3602l354 32 148 84M5486 3601l242 27 78-53 167-17M282 4657l204-1 80-15 176-51M1323 4677l346 97 140 74M2363 4659l93-34 195 46M3407 4706l385 59 74-9 107-35M4466 4642l467 19M5486 4641l280-37 223-53M282 5731l397 31M1323 5742l116-44 160 30 158-45M2363 5725l260 64M3407 5774l299 12 81-65M4466 5665l380-33M5486 5698l374 19 138-103M282 6754l458-28M1323 6773l210 27 248-33 163 26M2363 6755l261 55 191-12 85-22M3407 6805l367-33 90-42 83-10M4466 6705l359-26 258-14M5486 6738l425-89 107 13"/>
<path stroke="#00bfc1" d="M282 3617l290 37M1323 3637l308 19 115-26M2363 3619l411-35 194 128M3407 3666l332-25 82 11 137-148M4466 3602l209-27 191-40M5486 3601l481-77M282 4657l429-8 76-101M1323 4677l241 22 228-81M2363 4659l357-68 74 6 95 53M3407 4706l142 45 235-74 174 17M4466 4642l198-56 114 4M5486 4641l457-149M282 5731l200 18 112 15M1323 5742l213 27 160 13M2363 5725l330-100M3407 5774l450 14M4466 5665l408-28 188-52M5486 5698l312-50M282 6754l295 45 171 15 148-1M1323 6773l465-10M2363 6755l464-19M3407 6805l347-2 237 40M4466 6705l467-16M5486 6738l186-32 96 15 125 14"/>
<path stroke="#00bfc4" d="M282 3617l211-94 226 26M1323 3637l305-108 251-5M2363 3619l339 46 155-88M3407 3666l203 16 97-8M4466 3602l281 42 121 65M5486 3601l363-46 222 104M282 4657l342-99 179 21 90-55M1323 4677l284-49 92 48 105 33M2363 4659l370 65M3407 4706l482-27M4466 4642l337 26 155-43M5486 4641l453 129M282 5731l289-46 107-78 97-64M1323 5742l389-7M2363 5725l271 73 249-66M3407 5774l205 122 148 131 122-83M4466 5665l245-40 206 11 156 13M5486 5698l227 4 76 26M282 6754l359-25M1323 6773l435-105 102-21M2363 6755l220 44 76-18 177 32M3407 6805l144-92 97 69 159-82M4466 6705l268 0 91 1 145-14M5486 6738l391-96 87 33 100-41"/>
<path stroke="#00bfc8" d="M282 3617l265-24 250 132M1323 3637l242-49 104-59 80 27M2363 3619l329 39 236 93M3407 3666l376-147M4466 3602l248 5 80 42 109 6M5486 3601l358-104M282 4657l387-47 130-30M1323 4677l253-20 225 61M2363 4659l272-5 120-103M3407 4706l421-2M4466 4642l345 18 181 27 86-8M5486 4641l323-84 181 48M282 5731l139 80 256-53 180 46M1323 5742l417-99 150-26M2363 5725l257-76 167 142M3407 5774l279-59 263 139M4466 5665l324 52 88-16M5486 5698l357-18 81-55 143-38M282 6754l212-20 156 3 133-25M1323 6773l486-43 128-18M2363 6755l290 6 150 42 116-24M3407 6805l175-59 149 22 101-3M4466 6705l296-2 147 23 177-1M5486 6738l373 21 162-20"/>
<path stroke="#00becb" d="M282 3617l123-115 192 14 140-39M1323 3637l284-66 158-8 75 3M2363 3619l220 127 200-47M3407 3666l321-116 198-19 74-1M4466 3602l344 29 160 81M5486 3601l277-17 115-106 146 14M282 4657l430 106M1323 4677l198 36 155-60 183-30M2363 4659l250-94 227-55 69-48M3407 4706l334-122M4466 4642l201-24 175 25 70 17M5486 4641l133 67 124-7M282 5731l338-30 239 6M1323 5742l347-24 237-77M2363 5725l236 95 99-120M3407 5774l391 24 106-6M4466 5665l284 35 91 46 68 8M5486 5698l295-131M282 6754l269-27 200-63 68-10M1323 6773l219-10 242-23M2363 6755l232-19 265-98 123 98M3407 6805l335 59M4466 6705l296 24 83-23M5486 6738l308-20 268-42"/>
<path stroke="#00becf" d="M282 3617l163-50 164-93M1323 3637l428-26 92 53M2363 3619l208-109 194 1M3407 3666l407 110 184-79M4466 3602l342-1 136-130M5486 3601l396 32M282 4657l266-85 214-84M1323 4677l487 47 131-104M2363 4659l409-79 165 55M3407 4706l372 175 223-156M4466 4642l261-30 120 37 142-49M5486 4641l485-42M282 5731l256-19 174 114 105-92M1323 5742l181-42 78-6 79 28M2363 5725l244 85 87-86 140 35M3407 5774l266-54 76-30 153 42M4466 5665l220 35 259 9M5486 5698l310 34 270 23M282 6754l353 65 96-34M1323 6773l206-68 168 72 125-35M2363 6755l311-33 78-31 71 50M3407 6805l240 22 143 13 159-13M4466 6705l426 14M5486 6738l148-59 190 25"/>
<path stroke="#00bdd2" d="M282 3617l338-126M1323 3637l354-175M2363 3619l336 68 221-44M3407 3666l238 73 231 165 91-43M4466 3602l434 94 172 29M5486 3601l480-82M282 4657l209-55M1323 4677l409 40 200 40M2363 4659l472-11 140-66M3407 4706l465 9 137 22M4466 4642l376 3 209-22M5486 4641l380-39 223-53M282 5731l208 107M1323 5742l74 38 104-36M2363 5725l200 12 254 80M3407 5774l275-26 222 39M4466 5665l242 78 224 6 63-31M5486 5698l208-1 93 89M282 6754l428-172 181 2M1323 6773l371-33 189 64M2363 6755l215 12 90-16M3407 6805l200 38 213-64 127 1M4466 6705l473 19M5486 6738l408-9"/>
<path stroke="#00bcd6" d="M282 3617l301-93 76 41M1323 3637l94 41 108-38 98-37M2363 3619l456 38M3407 3666l333-158 86 132 63-123M4466 3602l465 73 81 29M5486 3601l322-191 87 83M282 4657l107-70 144 33 175-2M1323 4677l410-6 231-42M2363 4659l452-99 130 134M3407 4706l327-57 147-150M4466 4642l351 17 90 2M5486 4641l202-25M282 5731l97-160M1323 5742l308-12 126 8 149 26M2363 5725l238 12 177-72M3407 5774l331-115 108 15M4466 5665l369-73 202 8M5486 5698l257 16 236-18 98 8M282 6754l468-39M1323 6773l371 16 264 45M2363 6755l333-117 138 86M3407 6805l384 11 189-65M4466 6705l242-40M5486 6738l313-37 122-1"/>
<path stroke="#00bcd9" d="M282 3617l407 82 209-55M1323 3637l201 49 100 12 142-2M2363 3619l336 115 113 42M3407 3666l287-125 115 26 129-27M4466 3602l287-119 150-67 61 18M5486 3601l352-59 167 39 109-53M282 4657l205-79M1323 4677l434-13 203 33M2363 4659l308-252 238-24M3407 4706l312 41 75-41 98-40M4466 4642l226-23 76-1M5486 4641l426-5M282 5731l228-41 268-124M1323 5742l445 42 133-26M2363 5725l276 1 238-35M3407 5774l365 134M4466 5665l271 36 106-24 132 17M5486 5698l343-20 259-100M282 6754l272-13 219-32M1323 6773l317-24 203-70M2363 6755l358-43 114 14 114-39M3407 6805l297-25 177-11 116 27M4466 6705l257-3 245 16M5486 6738l426-79"/>
<path stroke="#00bbdc" d="M282 3617l316-91 195-43M1323 3637l211-42 171 4M2363 3619l206 8 253-28M3407 3666l351 53 111-2 121 108M4466 3602l263-143M5486 3601l191-24 168-60M282 4657l319 86 229-45M1323 4677l399 71 142-82 73 39M2363 4659l238 27 112-75 127 80M3407 4706l308-154 232 7M4466 4642l120 30 230 39M5486 4641l365 88 78-67 93 11M282 5731l316-128 133 6M1323 5742l328-5M2363 5725l389-61M3407 5774l293-134 219 90 78-28M4466 5665l279 60 104 158 121-181M5486 5698l329-121 109 59M282 6754l311-38 172 9M1323 6773l187 65 245-13 151-25M2363 6755l214-37 160 32 74-4M3407 6805l306-3 187-68 86 25M4466 6705l360-11 199-27M5486 6738l291-3 220-10"/>
<path stroke="#00badf" d="M282 3617l189-66 209 39M1323 3637l220-25M2363 3619l466 38M3407 3666l188 98M4466 3602l197 9 225-8M5486 3601l297 71 216 23M282 4657l338-89M1323 4677l289 21 80-3M2363 4659l285 7 251-19M3407 4706l307 36 110-56M4466 4642l379 44M5486 4641l133-62 175 33 168-8M282 5731l139-70 141 35 101-92M1323 5742l335-32 78-4 72 17M2363 5725l224 10 153-60M3407 5774l337-36 212-94M4466 5665l349-32 90 24M5486 5698l337 28 197 50M282 6754l261-12 190 0 97 16M1323 6773l162-33 94 12M2363 6755l250-24M3407 6805l213 37 231-24 147 13M4466 6705l414-35 143-9M5486 6738l332-49"/>
<path stroke="#00b9e2" d="M282 3617l375-93M1323 3637l427 85 186 39M2363 3619l328-36 112-51 163 23M3407 3666l211 5 197 47 71-17M4466 3602l433 123 173 18M5486 3601l469-199 167 14M282 4657l278-57 124-34 145 0M1323 4677l333-27 247-105M2363 4659l344-28 204 2 87 0M3407 4706l301-22 247-47M4466 4642l326-69 223-35M5486 4641l282 28 98 45 135-105M282 5731l68 52 124-31 161 51M1323 5742l320-22 258 41M2363 5725l375-14 147-29 62 25M3407 5774l239 80 208-91M4466 5665l276 11 227 45M5486 5698l363-79 124-30M282 6754l223 7 232-43 113 21M1323 6773l211-7M2363 6755l270 24 126-45 158 41M3407 6805l335-15 249-6M4466 6705l117-21 131 22 159 6M5486 6738l361-49 104-26 137-22"/>
<path stroke="#00b8e5" d="M282 3617l444-105M1323 3637l347-73 187-27M2363 3619l277-35 220-26 104-17M3407 3666l354 1 242-51M4466 3602l101 7 201 4 99-59M5486 3601l389-66 249-57M282 4657l432-4 75-69M1323 4677l220-9M2363 4659l329-4 204-60 76 39M3407 4706l238-20 255-58M4466 4642l358-3 143 0M5486 4641l328 11 127-46 125 21M282 5731l189-45 216-14 97 23M1323 5742l370-57 135 2M2363 5725l328-65 74-22M3407 5774l386-137 145 21M4466 5665l412 43 185-64M5486 5698l269-132 165 3M282 6754l206-69 149 20 107-18M1323 6773l388-14 193-21M2363 6755l409 5 144-21M3407 6805l268 45 242-34 106 21M4466 6705l253 7 204 3M5486 6738l222 54"/>
<path stroke="#00b7e8" d="M282 3617l242-23 129-24 106 33M1323 3637l132-14 233 30 175-123M2363 3619l277 36 112 3 73 27M3407 3666l345 16 87-29M4466 3602l461 33M5486 3601l296-92 182 27 136-40M282 4657l372-34M1323 4677l317-33 93-22 85 9M2363 4659l388-79 166-3 65-57M3407 4706l432 59M4466 4642l273 12 219-14M5486 4641l127-27 150-15 79-28M282 5731l382 48 118-36M1323 5742l458 15M2363 5725l244-6 241-100 90 16M3407 5774l471 22 150 27M4466 5665l270-34M5486 5698l454-22M282 6754l424-86 191-6M1323 6773l399-2M2363 6755l196-20 172-49 127 2M3407 6805l419-15 161-9M4466 6705l471-18M5486 6738l357-47 191-5"/>
<path stroke="#00b6ea" d="M282 3617l409 14 178-36M1323 3637l451-90 112-19M2363 3619l184-53 182 24 137-76M3407 3666l345-24 135 3 94 15M4466 3602l262 24 135 27M5486 3601l220-49 138-58 100 22M282 4657l247 8 127 3M1323 4677l383-4 182 31 72-61M2363 4659l364-103M3407 4706l339-86 112-2 166-2M4466 4642l239 4 91 15 165-11M5486 4641l252-4 134-78 122 14M282 5731l237 68 194-106M1323 5742l274-14 164 1 161 9M2363 5725l427-22M3407 5774l413 62 163 10M4466 5665l266 63 82 27 125-89M5486 5698l246-165 81 67 68 7M282 6754l462-33M1323 6773l442-40 175-22M2363 6755l66-9 225 14 117-25M3407 6805l250 23 87 18 141-3M4466 6705l448 28 129 22M5486 6738l187-26 91 2 130-1"/>
<path stroke="#00b5ed" d="M282 3617l115 101 229 17M1323 3637l479-7M2363 3619l359 111 93-21 88-56M3407 3666l84-32 132 18 119-115M4466 3602l308 18 81 33M5486 3601l454-58 121-130M282 4657l315-67 242 2 67-1M1323 4677l396-14 117-22M2363 4659l242-95M3407 4706l443-116 141-9M4466 4642l270-17 95 46M5486 4641l212 8M282 5731l280-31M1323 5742l391-34 246-27M2363 5725l210-78 261 18M3407 5774l303-80 106 4M4466 5665l180-60 172 28 127 11M5486 5698l232-10M282 6754l421-6M1323 6773l337 2 117 18M2363 6755l285-58 187-36M3407 6805l457-12M4466 6705l230 13 165-10M5486 6738l370-89 106-29 71 3"/>
<path stroke="#00b4ef" d="M282 3617l275 13 198-95 157 4M1323 3637l361-114 220-46M2363 3619l283 27 76-62M3407 3666l307-27 132-11 147 73M4466 3602l326 50M5486 3601l144 42 226 42 96-24M282 4657l205-16 99-26 72-22M1323 4677l280-25M2363 4659l213-30 243 11 100 46M3407 4706l373 38 229-63M4466 4642l361 52 101-11 155 25M5486 4641l241 6 100-27 162-53M282 5731l313-126 127 34M1323 5742l236-20 191 16 133 8M2363 5725l331-42 176-39M3407 5774l225 31 229 34M4466 5665l230 43 221-64 86 15M5486 5698l413-26 102-57M282 6754l229-17 236-50M1323 6773l206-29 139-20 105 10M2363 6755l228 29 208-65M3407 6805l301 18 184 12M4466 6705l210-13 111 11 123 9M5486 6738l389-57"/>
<path stroke="#00b3f2" d="M282 3617l370-83 171-40M1323 3637l464 3 132-71M2363 3619l327 52 186-88M3407 3666l472-13 127 0M4466 3602l402 54M5486 3601l213-6 101-23 175 11M282 4657l481-72M1323 4677l96 31 168 16 175 8M2363 4659l92-20M3407 4706l293 39 165-15 93-24M4466 4642l274-5 99 12M5486 4641l408 26M282 5731l477 122 96-82M1323 5742l412 37 138-47 74-21M2363 5725l275 82M3407 5774l203-1 207 113 100-55M4466 5665l330 7 222-22 65 23M5486 5698l350-6 88-29M282 6754l428-45 198-83M1323 6773l260-19M2363 6755l437-4 148-15M3407 6805l390 30M4466 6705l71 0 100-21 134 17M5486 6738l155 20 78-7 68-42"/>
<path stroke="#00b1f4" d="M282 3617l446-51M1323 3637l268-76 170-2 109 36M2363 3619l285-26 244 26M3407 3666l318-48 143 41 166 0M4466 3602l266 131 257-26 93 33M5486 3601l68-28 230-15M282 4657l341-22 224-31M1323 4677l222-30M2363 4659l415-59 136 4M3407 4706l247 35M4466 4642l301-18 262 6M5486 4641l314-26 199-12 79 9M282 5731l244 45 130 1 99-63M1323 5742l479-51 91-22M2363 5725l458-56M3407 5774l433 15 137 19M4466 5665l369-17 189-11M5486 5698l454-87 117-25 77-36M282 6754l280-11 111 20 162-50M1323 6773l322-1 166-27M2363 6755l392-35 87-21 97 20M3407 6805l261-14M4466 6705l315-7 98-8 65-1M5486 6738l368 5"/>
<path stroke="#00b0f6" d="M282 3617l207-31 246 4 147-39M1323 3637l137-30 237 33 62-12M2363 3619l239 38 215-59M3407 3666l228-71 202 91 178-107M4466 3602l468 16 76 49M5486 3601l451-53 100 26M282 4657l227-19 157-11 162-73M1323 4677l477 72M2363 4659l320 6 214-24 87 20M3407 4706l353-57 171 42M4466 4642l352-9 179 32M5486 4641l172-44 80-33 102 17M282 5731l130-20M1323 5742l476-30 161-37M2363 5725l197 40 139 44 167 69M3407 5774l421-106 173 45M4466 5665l408 81 73 36M5486 5698l111-27M282 6754l125 3 75-34 127-7M1323 6773l248-56 197 31 179-60M2363 6755l452-25 112-2M3407 6805l477-36M4466 6705l85 10 121-6M5486 6738l358-35"/>
<path stroke="#00aef9" d="M282 3617l244-52 93-68M1323 3637l249 3 195-23 147-19M2363 3619l489 5M3407 3666l454-2 83-47M4466 3602l99 39 132-25 136-9M5486 3601l219-21 271 9M282 4657l326 22M1323 4677l347-91 135-1 90 107M2363 4659l224-41M3407 4706l350 42 250-25M4466 4642l306-35 246-75 64 58M5486 4641l378-2 268-58M282 5731l419 107M1323 5742l299-53M2363 5725l343-6 213-23M3407 5774l308 43 141-57 63 35M4466 5665l332 48 76 14 85 28M5486 5698l340-86 210-113M282 6754l442-62 102-14M1323 6773l482-72M2363 6755l283-87 151 27M3407 6805l222-12 245 0 134 43M4466 6705l357-14 179 3M5486 6738l338-60"/>
<path stroke="#00adfb" d="M282 3617l220-121M1323 3637l390-3 118-68M2363 3619l265-12 223-14 111 51M3407 3666l277-6M4466 3602l393 40 174-105M5486 3601l283-4 230-29M282 4657l403 53 128 21M1323 4677l209-26 249-85M2363 4659l229-18 206 30M3407 4706l454 30 124-41M4466 4642l364-19 250-5M5486 4641l245 42 110-83 179-42M282 5731l460-74M1323 5742l334-80 204-43M2363 5725l359-86M3407 5774l299-41 119 28M4466 5665l205-40 188 87 160-51M5486 5698l80 52 173-4M282 6754l468-18 89 16M1323 6773l478-2M2363 6755l288 31M3407 6805l414-67M4466 6705l181 4M5486 6738l303 0 104 29"/>
<path stroke="#00abfc" d="M282 3617l299-53 101 76M1323 3637l391-82 73 8 178 3M2363 3619l286-20 246 32M3407 3666l168-10M4466 3602l303-39 134-37 151 46M5486 3601l440-114 80 22 121-53M282 4657l389 2 112-35 92 35M1323 4677l223-112 150 21 97 7M2363 4659l225 36 97-43M3407 4706l237-30 226-42 100-21M4466 4642l445 26M5486 4641l308-55 116-53M282 5731l437 150M1323 5742l358-20M2363 5725l426-86 194 2M3407 5774l119-8 209 37 153-72M4466 5665l239 45 261-57 88 29M5486 5698l154-15 123-50M282 6754l404 10 142-16 67 18M1323 6773l98 31 235-68 64 9M2363 6755l421 39 153 2M3407 6805l74-7 135 25 172 30M4466 6705l217 20 160-13M5486 6738l87-40 183 28 71-21"/>
<path stroke="#00aafe" d="M282 3617l316 27 224 10M1323 3637l354 28 205-42M2363 3619l239-12M3407 3666l315-23 232-26M4466 3602l351 15M5486 3601l195-17 180 0M282 4657l220-21 189-48 88 66M1323 4677l239-63M2363 4659l244 44M3407 4706l309 5 215-17M4466 4642l247 26 183-24 87 4M5486 4641l211-66 162 57 122-81M282 5731l61-9 139-7M1323 5742l340 7 197-40M2363 5725l240 22 169 103M3407 5774l418 49 191 98M4466 5665l349 60 112-19 117-17M5486 5698l262-4M282 6754l154 27 248 48 79-49M1323 6773l375-23 163-27M2363 6755l386 9 218-43M3407 6805l182-26M4466 6705l420 10M5486 6738l158 1 213 0 178 24"/>
<path stroke="#00a8ff" d="M282 3617l454-74 122 19M1323 3637l308 24 171 59 164-152M2363 3619l293-60 99 4 98 8M3407 3666l214-46 223-43 180 13M4466 3602l475-28M5486 3601l446-74M282 4657l285 43 204 9M1323 4677l304-66 177 49 68-72M2363 4659l394 0 74-88M3407 4706l372-53 127 90 79-61M4466 4642l276-27 211 25M5486 4641l251-29M282 5731l443-148M1323 5742l418-42 184-35M2363 5725l489-78 136 52M3407 5774l335-128 158 11M4466 5665l389 18 208 24M5486 5698l281-21 263-103M282 6754l342-37 201-4M1323 6773l444-101M2363 6755l132 18 158-36M3407 6805l405-46 206 13M4466 6705l281 29 124-23 134 33M5486 6738l303 0 149 80 94-104"/>
<path stroke="#00a6ff" d="M282 3617l273-64 81 62 176-37M1323 3637l372-78 248-48M2363 3619l147 38 171-56 76 36M3407 3666l295-21M4466 3602l197-29 249-68 144-62M5486 3601l297-3 162-40 108 19M282 4657l398-105M1323 4677l380-18 207 16M2363 4659l341-25 208-37M3407 4706l342-45 96-25 78 51M4466 4642l279 25 198-41 118 17M5486 4641l423 12 88-24M282 5731l454-64M1323 5742l350-47 165-1M2363 5725l355-62 210-1M3407 5774l125-16 85 3 167-35M4466 5665l150 3 108-33 93 17M5486 5698l392-79 156 29M282 6754l259-30 236-3 80 17M1323 6773l230 0 113-19 157 19M2363 6755l330 1M3407 6805l287 1 181-36M4466 6705l198-3 182-22 160-10M5486 6738l176-3 234 10"/>
<path stroke="#00a4ff" d="M282 3617l335-9M1323 3637l324-9 265-65M2363 3619l337-123 221 83M3407 3666l208 81 84-61 77-13M4466 3602l233 51 85-21 136 28M5486 3601l187 38 177 29M282 4657l219 20 181 16 158-47M1323 4677l215-123 146 24 106 14M2363 4659l285-74 76 77 78-64M3407 4706l307-94 146 73M4466 4642l257-24 180-7 111 41M5486 4641l306-51 176-65M282 5731l244-48 195 30 76 41M1323 5742l403-41 133-24M2363 5725l80-37 254 104 92-1M3407 5774l126 6 135 70 83-39M4466 5665l445-10 121 11M5486 5698l128-2 108-52M282 6754l315 4 114 14 151-74M1323 6773l324 91 269-6M2363 6755l483 1M3407 6805l409-6 131 26M4466 6705l300 16 147-2 135 26M5486 6738l337 0 145-14"/>
<path stroke="#28a3ff" d="M282 3617l410-78 127 107M1323 3637l213-46 142-46 125-53M2363 3619l212-35 156-45 130 89M3407 3666l254-15 127 15M4466 3602l298-10 257 77M5486 3601l269-59 181-46 136-2M282 4657l265-36 96-20 151 29M1323 4677l328 2 77 9 138-9M2363 4659l196-80 194 43M3407 4706l340-66 164 58M4466 4642l445 34M5486 4641l322-23 256-28M282 5731l275-245M1323 5742l303-6 202-14M2363 5725l415-28 130-1 85-6M3407 5774l285 85 107-44M4466 5665l289 18 197-60M5486 5698l216-56 170 52 180 63M282 6754l299-1 245-27M1323 6773l49-50 231 8 169 6M2363 6755l306 22 98-35M3407 6805l324-49M4466 6705l316-16 203 9M5486 6738l357-47 147-14 130 29"/>
<path stroke="#3fa1ff" d="M282 3617l482-31 116 8M1323 3637l485-85 135-27M2363 3619l375-131M3407 3666l349-13 156 0M4466 3602l438 33M5486 3601l232-38 145-21M282 4657l218-27 158-29 82 60M1323 4677l388-62M2363 4659l240-29 165-1 140-49M3407 4706l442 55M4466 4642l235 0 215 13 129-13M5486 4641l491-136M282 5731l438-69M1323 5742l186-41M2363 5725l235 20 198-34 168 11M3407 5774l184 45 227-45 180 35M4466 5665l333-6M5486 5698l297-45 141 18 82-12M282 6754l448-77 110 8M1323 6773l334-4 246-58M2363 6755l310-59 179 31M3407 6805l421 12M4466 6705l301-25 103 8 63 3M5486 6738l272-14 210-28 159-47"/>
<path stroke="#509fff" d="M282 3617l360-3 198-60M1323 3637l400-66M2363 3619l70-33 89-8 78 6M3407 3666l441-10 89 20M4466 3602l222-46 211-22 133 32M5486 3601l425-25 121-14 89-23M282 4657l196 34 185 2 130-6M1323 4677l234 53 172 45 150-130M2363 4659l229-13 106-53M3407 4706l481 61M4466 4642l413 73M5486 4641l261-70 213 0 129 8M282 5731l425-48 86-28M1323 5742l292-21 175 34 104-32M2363 5725l200-25 257-105M3407 5774l312-32 185 65 108 43M4466 5665l222 40 238-34 110 76M5486 5698l332-46M282 6754l136-6 182-4 162-13M1323 6773l345-42 134 29 141 30M2363 6755l421-31M3407 6805l339-70 214 1M4466 6705l295 7 194-11M5486 6738l326 19 92-47 70 24"/>
<path stroke="#5d9dff" d="M282 3617l252-60 157-48 95-12M1323 3637l323 34 221-40M2363 3619l379-111 243-1M3407 3666l214-40 205 96M4466 3602l346-17 174-28M5486 3601l204-15 137-19 124-2M282 4657l471 39M1323 4677l263 44 170-59M2363 4659l450-125 96-36M3407 4706l409-104 172-8M4466 4642l469-26 136 28M5486 4641l477-18 125 39M282 5731l229-82 166-38 145 13M1323 5742l309 35M2363 5725l247-88 237 85M3407 5774l322-5 241 9M4466 5665l291-13 197 34M5486 5698l338-19 260 12M282 6754l153 26 229 43M1323 6773l329-10M2363 6755l399 19M3407 6805l426 24 111-20 86-19M4466 6705l167 22 82 14M5486 6738l255 21 76-6 167-13"/>
<path stroke="#699bff" d="M282 3617l354-75 250-2M1323 3637l372-66 259 16M2363 3619l218 24M3407 3666l97 24 144-16 165 9M4466 3602l276 20 207 7 77-26M5486 3601l202-39 137-31 108 25M282 4657l103 2 119-60M1323 4677l192 38 75-10 167 3M2363 4659l355-88 261-14M3407 4706l242 2 190 1 149 8M4466 4642l428 14M5486 4641l183 20 111-14 176-17M282 5731l383-58M1323 5742l416-61 85-4M2363 5725l231-108 115 58 134-77M3407 5774l249-59 262-30M4466 5665l165-2 247 23 103 49M5486 5698l410-93 149 46M282 6754l87-22 101 28 101-40M1323 6773l426-18M2363 6755l430 68 117-15M3407 6805l248-31 84-2 151-4M4466 6705l368 24 121-35M5486 6738l379 10 179 15"/>
<path stroke="#7398ff" d="M282 3617l447 153 119 7M1323 3637l381-52M2363 3619l226 17 173 42M3407 3666l273-124 255 97M4466 3602l203 49 142 34M5486 3601l491-30M282 4657l299-40 183 6 114-60M1323 4677l415 17 213-52M2363 4659l365 32 87 16M3407 4706l320-71M4466 4642l403-33 142 8M5486 4641l368 10 204-71M282 5731l117-92 104 0M1323 5742l235 31 241-32 94-3M2363 5725l177-83 237-12M3407 5774l316 85M4466 5665l270 11 187-62M5486 5698l269-93 235-8 116-3M282 6754l426-64 105-4 105 9M1323 6773l387-55 248 22M2363 6755l422-29 162-6M3407 6805l352-20 159-6 83 14M4466 6705l49-5 98-6 136-21M5486 6738l356-28 264 8"/>
<path stroke="#7c96ff" d="M282 3617l441-65M1323 3637l409 8 232-38M2363 3619l483-105M3407 3666l260 24M4466 3602l219 6 78-2M5486 3601l332-75 81-1 137 7M282 4657l287-14 177 18 162-11M1323 4677l434 52 150-5M2363 4659l291 56 139-84 88 10M3407 4706l197-126M4466 4642l322-30 194-13M5486 4641l230-25 240-9M282 5731l297-62 256-30M1323 5742l293-16 264-15M2363 5725l441 23 121 32M3407 5774l236 4 149-74M4466 5665l216-38 94-3 167 30M5486 5698l224-56 80-92 105 7M282 6754l190-77 182 26M1323 6773l219-20 93 27 73-18M2363 6755l332-57 161 8 99-22M3407 6805l310-17M4466 6705l267-9 156-6M5486 6738l459-40 76 82"/>
<path stroke="#8594ff" d="M282 3617l345-21 125-48 68-20M1323 3637l104 6 241-22 132-5M2363 3619l198-46 194-33 118-53M3407 3666l286 5 233-75M4466 3602l334 55 247-44M5486 3601l130-46 240-58 126 2M282 4657l219-8 85-23 136-19M1323 4677l248-65 235 29 159-44M2363 4659l215-11 238-25M3407 4706l377-43 211 25M4466 4642l308 27M5486 4641l235-7M282 5731l323-10 233-138M1323 5742l290-11 102 27M2363 5725l355 75 148-81 135 5M3407 5774l257-50 204-4 99-40M4466 5665l306 7 253 5M5486 5698l193-81 169-17 172 5M282 6754l206 1 109-39 116 27M1323 6773l463-47 162 13M2363 6755l471-26M3407 6805l325-58 186-32 108-3M4466 6705l248-18 235-13M5486 6738l263-8"/>
<path stroke="#8d92ff" d="M282 3617l162-8 238-74M1323 3637l429-27M2363 3619l360 79M3407 3666l215 56 227 2M4466 3602l216-18 222-42 109 12M5486 3601l122 4M282 4657l184 24M1323 4677l420-69 217 39M2363 4659l166-25 78-2M3407 4706l442 14 186 29M4466 4642l206 24 93-6 177-8M5486 4641l192 2 136 30 90 43M282 5731l235-56 96-19M1323 5742l418-33M2363 5725l413-67M3407 5774l355 102 152-35 121-129M4466 5665l376 26 211-9M5486 5698l469 14M282 6754l317 37 173 0 112-37M1323 6773l79-6 98-23 136 23M2363 6755l286 19 179-80M3407 6805l221-34 258 20M4466 6705l283 4M5486 6738l434-83 144 72"/>
<path stroke="#9590ff" d="M282 3617l131 43 265 27M1323 3637l234-91 192-13 89 10M2363 3619l288-57 263-57M3407 3666l410 44M4466 3602l467 68M5486 3601l263 52 242-75 100 36M282 4657l394-55 201 103M1323 4677l267-92 168 5 92-16M2363 4659l321-158 206 65M3407 4706l277 66 125-16 116 12M4466 4642l449 53 143-12M5486 4641l301-39 193-89M282 5731l427-58 92-6 71-50M1323 5742l422-48 171-33M2363 5725l353 30 204-43M3407 5774l320-1 196-16M4466 5665l398 22 105 12M5486 5698l402-86 220 0M282 6754l379-1 232-10M1323 6773l222-35 268 18M2363 6755l298 30 243 11M3407 6805l414-12 139 26M4466 6705l333 14 188 7M5486 6738l332-2 77-20 166 22"/>
<path stroke="#9c8dff" d="M282 3617l341 18 224-71M1323 3637l162 27 101-11 68 23M2363 3619l469-2 167 41M3407 3666l233-53 145-50 127 64M4466 3602l275-18 100 5 130 35M5486 3601l407-112M282 4657l107-66 79-24M1323 4677l377-38 134-74M2363 4659l307 18 232 12 91-6M3407 4706l333 4 158-44M4466 4642l198 26 177 19 114-1M5486 4641l357 21M282 5731l328-106 158 32 71-32M1323 5742l452-5 183 23M2363 5725l191 24 255 46 115-57M3407 5774l275-21 231 28 95-29M4466 5665l413-49 111 1M5486 5698l331-8 145-61 114 3M282 6754l269 2M1323 6773l174-45M2363 6755l254-30 138-45M3407 6805l310-49 221 10 88-15M4466 6705l419 8 139-2M5486 6738l388 47 209-32"/>
<path stroke="#a38bff" d="M282 3617l276-62 201-53 101 56M1323 3637l244-32M2363 3619l288 57 104-14 88 22M3407 3666l292-12 200-8M4466 3602l423-26 102-10M5486 3601l362 7 186-76M282 4657l69 9 142-56M1323 4677l226-14 246-68 96-12M2363 4659l206 45M3407 4706l172-15 123-14M4466 4642l257-29M5486 4641l350-35 238-56M282 5731l475-12M1323 5742l209-23 226-50 121-10M2363 5725l341 13M3407 5774l182 7 102-32 138 86M4466 5665l395 41M5486 5698l314 45M282 6754l382 23 220-21M1323 6773l432-48M2363 6755l265-45 186 0M3407 6805l195-22 81 10M4466 6705l188 2 186-2 145-16M5486 6738l346 4 148-23"/>
<path stroke="#a989ff" d="M282 3617l193-26 74-32 142-77M1323 3637l189-9 157-3M2363 3619l186-36 147-92M3407 3666l255-71 184-31 144-72M4466 3602l317 14 76 9 127 18M5486 3601l492 26M282 4657l333 42 119 33 101-13M1323 4677l142-2 127-35M2363 4659l206-47M3407 4706l244 44 102-3M4466 4642l308-27 234-21M5486 4641l354-12 221 21M282 5731l257-6 266-51M1323 5742l176-11 149 27 135-40M2363 5725l374-24 223 6M3407 5774l323-20 138 5M4466 5665l417 26M5486 5698l291-9 203 2 93 5M282 6754l238 19 174-41 119 32M1323 6773l382-27M2363 6755l268-53 237 47 135-37M3407 6805l459-18 172 56M4466 6705l195-4 257-5 132 0M5486 6738l408-130 143 56"/>
<path stroke="#af86ff" d="M282 3617l308-48 223-37 83-8M1323 3637l225-61 262 98M2363 3619l229-68 263 66M3407 3666l462 10M4466 3602l285 57 110 75 123-42M5486 3601l488-40 158-50M282 4657l323-40 76-20 77-6M1323 4677l312-22 256-52M2363 4659l193 8 182 6 100 10M3407 4706l284 29 178-38M4466 4642l196 2 195 12 165-18M5486 4641l384-80M282 5731l366 135 178-140M1323 5742l477-87M2363 5725l409 1M3407 5774l405-55M4466 5665l224-3 90 27M5486 5698l309 23M282 6754l361-89 102-11 122 1M1323 6773l316-69M2363 6755l446-6M3407 6805l343-23 166 24M4466 6705l296 4 149-19M5486 6738l454 50"/>
<path stroke="#b584ff" d="M282 3617l239 41 135-29 68-80M1323 3637l423-48M2363 3619l285 18 103 16M3407 3666l459-86 149 45M4466 3602l388 75 108-13 74 30M5486 3601l302-38M282 4657l312 74 262-37M1323 4677l199 19 152 23M2363 4659l217-26 201-39 89 8M3407 4706l213 51 213-68M4466 4642l146 16 236 36 128 7M5486 4641l380 34 260-46M282 5731l224-87 128 94 105-94M1323 5742l370-55 237-3M2363 5725l314 1 214-64M3407 5774l340-64 214 51M4466 5665l84 35 111-39 173 106M5486 5698l412 1 86-23 147 30M282 6754l330-11 153 8 145-3M1323 6773l481 9 84 7M2363 6755l282 23 265-14M3407 6805l417-48 186 27M4466 6705l98 41 120-37M5486 6738l266-44 269-16"/>
<path stroke="#ba82ff" d="M282 3617l186 55M1323 3637l313 10 126-6M2363 3619l353 52 184 27M3407 3666l166-121M4466 3602l461-54M5486 3601l259-38 103-1M282 4657l280 34 147-20 78-22M1323 4677l331 37 85-15M2363 4659l274-91 110 17 113-6M3407 4706l363-29 181 37M4466 4642l413-2M5486 4641l284-33 155-54 91-43M282 5731l413-50M1323 5742l286-19 243-45M2363 5725l266 21M3407 5774l372 54 238-109M4466 5665l335-15 235-1M5486 5698l276-9M282 6754l463 15M1323 6773l392-17M2363 6755l234 25 211-37 72 13M3407 6805l406-5 177 28M4466 6705l295-14 189 15 81 7M5486 6738l298-19 206-49 66 33"/>
<path stroke="#c07fff" d="M282 3617l211 5 75 27 71 7M1323 3637l76 15 243-79 105 8M2363 3619l356 154M3407 3666l353 71 152-29M4466 3602l352-109 246 6M5486 3601l163-51 178-7M282 4657l362-16 94 81 105-42M1323 4677l357-20 130 15M2363 4659l239-62 249-56 128-127M3407 4706l450 63 100-25M4466 4642l161-2 121-7 133 5M5486 4641l414-66M282 5731l279-26 82-8M1323 5742l254 98 202-68 182 14M2363 5725l359-88 200 117M3407 5774l348 219 110-38M4466 5665l289 32M5486 5698l455-42M282 6754l215-37 261 25M1323 6773l437 3 96-29M2363 6755l299-96 140 44M3407 6805l344 55 181-37M4466 6705l292-14 156 13M5486 6738l77-4 243-20"/>
<path stroke="#c57dff" d="M282 3617l193 35 216 49M1323 3637l349 4 94 23 157 29M2363 3619l332-86 99-61 121 88M3407 3666l199-38M4466 3602l426 56 154 5M5486 3601l373-90 181-27M282 4657l465 1 152-30M1323 4677l325 50 249-45M2363 4659l217-44 262-26M3407 4706l399 0 113 16 112 49M4466 4642l426-1 191-17M5486 4641l329-121 243 63M282 5731l273 37 122 68 74-36M1323 5742l204-41 136 27 66 0M2363 5725l309 59 184-53 69-29M3407 5774l174-26 239 78 88 31M4466 5665l107 27M5486 5698l380-46 229 1M282 6754l376-19M1323 6773l234-17 230-24 100 60M2363 6755l289 13 181-35 156 1M3407 6805l442-21M4466 6705l198-16 254-3 84 8M5486 6738l159-44 255 17"/>
<path stroke="#c97bff" d="M282 3617l454-3M1323 3637l277-8 123-73 177 22M2363 3619l198 89 77 19 111-41M3407 3666l385 66 172-65M4466 3602l179 22 229-105 171 69M5486 3601l342-19 256-117M282 4657l443 12 74-4M1323 4677l326 9 151 86 131-29M2363 4659l259-64 189-30 122 23M3407 4706l189-1 167 25M4466 4642l315 48 197 2M5486 4641l351-34M282 5731l352-20M1323 5742l416-75M2363 5725l367-42 139-70 66-42M3407 5774l338-21 191 4M4466 5665l310-27 120 37 130-26M5486 5698l235 8 224-19 183 64M282 6754l318-41 118 2 130-8M1323 6773l341-12 111-32M2363 6755l252 22M3407 6805l401-11M4466 6705l187-7M5486 6738l400-10 88-3"/>
<path stroke="#ce79ff" d="M282 3617l195 11M1323 3637l186-18 75-25 158 28M2363 3619l302 5 269-34M3407 3666l301-96 75 6M4466 3602l211 61 132-6M5486 3601l335 7 271-41M282 4657l295 19 146 38 101-30M1323 4677l76 35 100-36 113-30M2363 4659l312-79 201-22 73 35M3407 4706l290 41 198-48M4466 4642l200-2 185 7 91 9M5486 4641l363-88 192 12M282 5731l357 35 136-7M1323 5742l320-23 155 14 102-63M2363 5725l245-128 104 16 152-60M3407 5774l163 6 253 77M4466 5665l193 26 102 12 80-24M5486 5698l405-69 221-12M282 6754l187 0 217 2M1323 6773l469 12 80-7M2363 6755l184-14 209 24 79-46M3407 6805l363-87 245 9M4466 6705l334-42 79 19 123-3M5486 6738l317-15 102-4 129-9"/>
<path stroke="#d277ff" d="M282 3617l302-61 227-25M1323 3637l301-46 121 2 134 22M2363 3619l361-37M3407 3666l425-73 125 30M4466 3602l120-28 175 28 160-37M5486 3601l339-60 93-55 156-22M282 4657l408 32 118 113M1323 4677l238 14 182 15 162-40M2363 4659l191 66 154-59 139 2M3407 4706l432-31M4466 4642l461 27M5486 4641l308-8 258 13M282 5731l325-61M1323 5742l389 9 110-20 92-8M2363 5725l309 12 236 3 78-43M3407 5774l183-30 202 21 153-91M4466 5665l307 47 77-39 64-7M5486 5698l328-49 151 20 73 14M282 6754l273-47 121-46 131-12M1323 6773l192 93 261-99M2363 6755l189-33 177-2M3407 6805l242 23 183 33M4466 6705l394 25M5486 6738l410-58 85 63"/>
<path stroke="#d675fd" d="M282 3617l407 38 191-37M1323 3637l196-51 152-12M2363 3619l253-99M3407 3666l197 5 132-11 134 44M4466 3602l219 20 175-46 106 66M5486 3601l233-85 138 15 101-39M282 4657l455-122M1323 4677l281 5 106 9 181-25M2363 4659l154 5 265-28 77 11M3407 4706l182 27 170-1 71 31M4466 4642l205-9M5486 4641l313-42 76 15 94-7M282 5731l172-87 231 2 80-31M1323 5742l257-64 117-23M2363 5725l448-26M3407 5774l87-28 143 71 181 19M4466 5665l346-31 106 7M5486 5698l369 21 256-68M282 6754l197-9 238-43 78 29M1323 6773l369-12M2363 6755l269-13 123 0M3407 6805l239-22 95 29 130-30M4466 6705l310 34 241 28M5486 6738l283-85"/>
<path stroke="#da73fb" d="M282 3617l401-135 188-2M1323 3637l351-54 267-49M2363 3619l294-64 82 137M3407 3666l266-23 220 84M4466 3602l349-53M5486 3601l470-49M282 4657l358-96 87-31M1323 4677l251-45 80-23 104 49M2363 4659l273-71 166-18 138-24M3407 4706l272-43 89 41 120-86M4466 4642l242-9 205 2M5486 4641l379 2 149 25M282 5731l425-1M1323 5742l275-59 142 54M2363 5725l467-28M3407 5774l476 2M4466 5665l199-23 209-6 169 11M5486 5698l206-6 112-9 174 37M282 6754l323-60 106-1 121-6M1323 6773l473-50M2363 6755l185-6 257-22 79 32M3407 6805l448-33 89 6M4466 6705l433-13 94 1M5486 6738l335-31 148-9 158 26"/>
<path stroke="#de71fa" d="M282 3617l339 41M1323 3637l180 22 121 19 88 24M2363 3619l290-61 194-88 127-51M3407 3666l333-83 263-41M4466 3602l399 57 91-13 95-3M5486 3601l410-47 175-16M282 4657l273-22 168-16 101-6M1323 4677l207 11 203-66M2363 4659l222-30M3407 4706l362 18 117-47M4466 4642l376 42 202-41M5486 4641l343-60 90-53M282 5731l186 77 133-149 115 13M1323 5742l428-8M2363 5725l111-63M3407 5774l205 33 118-55 111-41M4466 5665l315 34 173 14 85 18M5486 5698l301-12 222-46M282 6754l353-20 133-51 84 3M1323 6773l324-17 247-15M2363 6755l324 2 98-1 115-62M3407 6805l173-12 145 38 92-15M4466 6705l330 14 218 5M5486 6738l108-11 237-3 71 10"/>
<path stroke="#e16ff7" d="M282 3617l481 11M1323 3637l362-87 111-13 74 9M2363 3619l486-95M3407 3666l317 24M4466 3602l324 75 107-22M5486 3601l325-99 78-42 102 41M282 4657l279 5 166 34 148-30M1323 4677l395-24 95 62M2363 4659l343 37 229 41 65 33M3407 4706l457-12 163-23M4466 4642l320-11 203-41M5486 4641l293-13 166-10M282 5731l440-82M1323 5742l250 0 189-2M2363 5725l283 13 80 27 70 23M3407 5774l222 38 257-102M4466 5665l216-63 111 30 84-3M5486 5698l328-50M282 6754l231 54 184-37 101 23M1323 6773l134-6 175-63 147 13M2363 6755l301-16 248-52 75-7M3407 6805l315-4 212-6M4466 6705l242 0 119-13M5486 6738l184-4 254 5"/>
<path stroke="#e46df5" d="M282 3617l423-116 119 12M1323 3637l429-18 89 18M2363 3619l345-187 200 122 90 43M3407 3666l464-33M4466 3602l314 36M5486 3601l487-27M282 4657l319-39 262 47M1323 4677l441 49 162-104M2363 4659l288-37M3407 4706l393 19 207-14M4466 4642l152-8M5486 4641l298-46 102-9 110 22M282 5731l425-4M1323 5742l383-96 153 22M2363 5725l389-80 109 43 132-35M3407 5774l260 12M4466 5665l241 58 135-14M5486 5698l213-17 81-24 185 57M282 6754l247-18 138 2M1323 6773l269-27 133 0 173-10M2363 6755l482-25M3407 6805l260 10 250 87M4466 6705l301-29 233-8 68 21M5486 6738l164-22 91 13 175-21"/>
<path stroke="#e76bf3" d="M282 3617l217-42 152 14 79-160M1323 3637l467-42 114-27M2363 3619l484-21M3407 3666l221 23 221-26 160-9M4466 3602l401-23 78 7M5486 3601l222-25 257-42 71 1M282 4657l284-35 266 88M1323 4677l191 10 204 68 95-63M2363 4659l354-76 143-48 90-23M3407 4706l299-33 253-51M4466 4642l247 43 253 8M5486 4641l356 48 129-63 83 4M282 5731l324-63 104-12M1323 5742l187-29 107-7 153-42M2363 5725l218-37 268 39M3407 5774l287-58 160-78M4466 5665l210-1 149 33M5486 5698l465 47 162-85M282 6754l404 22M1323 6773l484 27M2363 6755l326 10 234-32M3407 6805l299 11 91 21 102-39M4466 6705l285 13 133 3 173-8M5486 6738l319-69 194-12 75 14"/>
<path stroke="#ea6af0" d="M282 3617l279 64M1323 3637l472-20M2363 3619l482-149M3407 3666l207 63 217-86 147 40M4466 3602l395 30M5486 3601l431-39 207 14M282 4657l158-46 141 28 131-84M1323 4677l489 15M2363 4659l198 34 249-26M3407 4706l252-36M4466 4642l195-32 195-5 86 30M5486 4641l252-12 196-25 148 5M282 5731l67-37M1323 5742l228-11M2363 5725l348 32 115-2M3407 5774l359-66 78 57 150-33M4466 5665l183-36 106 32M5486 5698l449-15 82-11M282 6754l260-7 113-9M1323 6773l342-11 190-40M2363 6755l452-70 103 21 63-10M3407 6805l256 42 88-94 159 5M4466 6705l245 23 105-7 87-7M5486 6738l246-11 143-48 69 14"/>
<path stroke="#ed68ee" d="M282 3617l326 137M1323 3637l368-86 96 21M2363 3619l94-20 99 49M3407 3666l288-76 245-42M4466 3602l83-3 85 80M5486 3601l215 9 184 8M282 4657l184-5 137-12 80 15M1323 4677l281-43 76-40M2363 4659l242-27 254 77 65-19M3407 4706l482 42M4466 4642l388 11 86-8 125-2M5486 4641l214 5M282 5731l440 11 122-35M1323 5742l226 91M2363 5725l204-15M3407 5774l205 33 145 5M4466 5665l84-56 90 29M5486 5698l487-18 156-10M282 6754l348-22 81-17 92-27M1323 6773l211 60 184 21 110-17M2363 6755l218 35 130-45 171 17M3407 6805l263 8 157-8 175 10M4466 6705l358-52 123-17 72-22M5486 6738l217-12 167 11 168-34"/>
<path stroke="#ef67eb" d="M282 3617l199 3 182-16 172 47M1323 3637l465-25M2363 3619l394 54 232-1M3407 3666l202-5 128-55 135-83M4466 3602l85 27 201-39M5486 3601l342-43 235-38M282 4657l295 30 151-9 105-42M1323 4677l220-5 103 8M2363 4659l235-35 77 5M3407 4706l328-48 137 8M4466 4642l141-15 85 2 103-16M5486 4641l408-24 218-21M282 5731l234-58 209-16 84-10M1323 5742l272-12 144-29M2363 5725l283 79 244-64 112 42M3407 5774l383-43M4466 5665l57-22 219 4M5486 5698l462-40 132-50M282 6754l348 9 166-18M1323 6773l49-41 204-4 96-9M2363 6755l346-15 184 25 108-52M3407 6805l214-19 98 29M4466 6705l311-35 182 9 121 0M5486 6738l331-26 267 17"/>
<path stroke="#f166e8" d="M282 3617l301-97 161 53 179-95M1323 3637l389-34 124 17 104-16M2363 3619l488 33M3407 3666l392 18 205-15M4466 3602l298 34 185-18M5486 3601l64-65 232 5M282 4657l275 31 141 4 111-126M1323 4677l281-9 177 71 90 11M2363 4659l259 17 168-58 171-16M3407 4706l434 51 196-10M4466 4642l206-17 76 6 178 52M5486 4641l248 9 245 42M282 5731l233-108M1323 5742l319-60 77 32M2363 5725l460 170 100-74M3407 5774l306-233 73 94M4466 5665l384-44 74 26 157-14M5486 5698l218-6 226-59 88-25M282 6754l186 2 138-39 72 22M1323 6773l295 21 136-8M2363 6755l272-20 213-45M3407 6805l454 31 88-17M4466 6705l64 12 215-39 118 34M5486 6738l144 8 105-16 166 10"/>
<path stroke="#f365e5" d="M282 3617l155 10 200-105M1323 3637l460-60 122-34M2363 3619l234-60 242-85 91 47M3407 3666l272 61 114-12 144-61M4466 3602l210-41 121-34M5486 3601l382-28 216-116M282 4657l472-21 142-59M1323 4677l462 13 141 0M2363 4659l81 48 215-67 82 11M3407 4706l282-1 127 8 106 39M4466 4642l315 12M5486 4641l127-22 241-44 165-11M282 5731l255 133 237-11 104-6M1323 5742l356-20 75-35 111-27M2363 5725l429-74 145 5M3407 5774l387 86 237 0M4466 5665l210 16 168-32 162 49M5486 5698l459-42 166 15M282 6754l113 3M1323 6773l386-10M2363 6755l317-32 212-4M3407 6805l334 7 262 25M4466 6705l310 11 160-31 138 3M5486 6738l189-52"/>
<path stroke="#f564e2" d="M282 3617l380 15 123-63 90-3M1323 3637l433-7M2363 3619l424-79 105-14 81 3M3407 3666l387-94 232-19M4466 3602l185 63 184-49 65-24M5486 3601l203 3 112 23 81-60M282 4657l282-67 188 5M1323 4677l312-76 163 67M2363 4659l432-68M3407 4706l105 49 163-9 106-3M4466 4642l407-20 193 2M5486 4641l344-66M282 5731l356-40 176 99M1323 5742l209-61 213-22 67-52M2363 5725l272 76 169 57 116-18M3407 5774l190-46 190-51M4466 5665l296-27 218 30 97-41M5486 5698l147-41 78-15 158 16M282 6754l73 75 242-8 144-38M1323 6773l223-25 238 55 106-33M2363 6755l474-12 146 8M3407 6805l363-17 261-32M4466 6705l200 16 72-12 76-13M5486 6738l279-30 121-20 126 6"/>
<path stroke="#f763df" d="M282 3617l394-46 100 89 73-102M1323 3637l281-16 154-3M2363 3619l344 83 140-116 158 17M3407 3666l353 67 74-36 73-26M4466 3602l404 10 124 29M5486 3601l139-32 265-18 154-16M282 4657l273 30 219-7 76-17M1323 4677l192-21 258 19 172-65M2363 4659l307-25 127 7 170 59M3407 4706l395 24 174-17M4466 4642l302-22 76 13M5486 4641l314-25 256-15M282 5731l190 19 267-129M1323 5742l478-21M2363 5725l473-107M3407 5774l273 125 99-1 85-15M4466 5665l337-27 131 95 62-51M5486 5698l433-35 77-48M282 6754l337-59 211-6M1323 6773l439-4 195 14M2363 6755l450-15 135-35M3407 6805l451-38M4466 6705l434-33 114 29M5486 6738l133 26"/>
<path stroke="#f962dc" d="M282 3617l224 35 213-96 94-23M1323 3637l369-23 108-48 146 35M2363 3619l394-77 128-13 108 73M3407 3666l159 1 185-24 99 14M4466 3602l85-153 163-7M5486 3601l104-3M282 4657l449 55M1323 4677l454-87 168 21M2363 4659l400 5 105-27M3407 4706l472-64M4466 4642l293-9 229-29M5486 4641l205-34 238 65M282 5731l318 25 254-50M1323 5742l327-15 269-5M2363 5725l414 6M3407 5774l215-20 162 83M4466 5665l353 25 251-47M5486 5698l109-31M282 6754l343-31 261-28M1323 6773l412-61 125-15M2363 6755l431-9M3407 6805l336-13 184-11M4466 6705l356-1 142-4 123 3M5486 6738l390-86 192-5"/>
<path stroke="#fa62d9" d="M282 3617l242-82 84 5M1323 3637l361-106 189-12M2363 3619l203 0 158-72 120 40M3407 3666l108-49 217-41 99 140M4466 3602l461 123 83 1M5486 3601l209-36 163-59M282 4657l341 76M1323 4677l360-52 137 54M2363 4659l440-13M3407 4706l332 0 161 16 64-101M4466 4642l307 12 121 0M5486 4641l200-3 245-16M282 5731l398 110 145-3M1323 5742l488-19M2363 5725l338 14 189-31M3407 5774l309-27 262-1M4466 5665l453 5 132 20M5486 5698l164 18 161-47M282 6754l412-50 151-47M1323 6773l286-15 95 18 149-30M2363 6755l224-14 193 4 97-16M3407 6805l302-17 174 29M4466 6705l299 7 254-24M5486 6738l296 10 82 3 172-39"/>
<path stroke="#fc61d6" d="M282 3617l250-163 93 123 170-92M1323 3637l204-49 264-20M2363 3619l240 101 130 0M3407 3666l238-123 243 85M4466 3602l335 49 191-41M5486 3601l256-40 182-5 158-24M282 4657l283 52 90 39 68-62M1323 4677l319 26M2363 4659l452 27M3407 4706l242 2 186-24 163 45M4466 4642l304-29 196 11 62 20M5486 4641l465-58 160-2M282 5731l264-94 229 45 75-29M1323 5742l353-46 94 33 162-31M2363 5725l273-48 139-47 91-46M3407 5774l265 16 192-32M4466 5665l232-24 235 45 135-19M5486 5698l241 6 189-30M282 6754l270-17 231-10 119-46M1323 6773l260 1 106-54 85 55M2363 6755l260-15 185 24M3407 6805l268 9M4466 6705l238-17 115 0M5486 6738l122-26 230-32 158 0"/>
<path stroke="#fd61d2" d="M282 3617l161 68 110 33 130-121M1323 3637l317-64 257 57M2363 3619l446 79 154 32M3407 3666l456-41 85 7M4466 3602l473 97M5486 3601l188-6 101 37M282 4657l341-27 146-29M1323 4677l410-24 88 62M2363 4659l488-7M3407 4706l285 15 198-38M4466 4642l433 31 92-25 97 15M5486 4641l349-47 137-22 154-26M282 5731l202 38 128-8M1323 5742l469-44 118-15M2363 5725l428-15 114 25 91-42M3407 5774l482 12 93 29M4466 5665l339 49 90-1 119 56M5486 5698l482-30M282 6754l151-23 214 1 130 34M1323 6773l289-35 85-28 156 17M2363 6755l439 12M3407 6805l185-19 150-63M4466 6705l280-25 72 0 100 12M5486 6738l300-24 210-28"/>
<path stroke="#fe61cf" d="M282 3617l131 48 193-17M1323 3637l185 38 251-90 143-33M2363 3619l220-76 216-42M3407 3666l215 63 236-30 170 42M4466 3602l391 53 120-37 73-33M5486 3601l261 3 250-36 80-10M282 4657l278 2 155-25M1323 4677l467-125M2363 4659l396-47 140 27M3407 4706l344-63 260 27M4466 4642l343-28 205 23M5486 4641l305 23 202 6 110-19M282 5731l218-78 85-11 135-97M1323 5742l133 31 134 6 68-60M2363 5725l438 18M3407 5774l470-4 132 42M4466 5665l316-5 115 2 60-17M5486 5698l342-15 254-32M282 6754l475-50 120-38M1323 6773l313 2 143 5 165-17M2363 6755l434-63 94 53M3407 6805l248 19M4466 6705l438-18 139-6M5486 6738l462-45 111 9"/>
<path stroke="#ff61cb" d="M282 3617l316-97 238 32M1323 3637l225 7 99-17M2363 3619l251 115 87 23M3407 3666l184 21 102-44 101 19M4466 3602l222-10 139-7 164 15M5486 3601l224-22M282 4657l234-21 245-60 75 63M1323 4677l385-134 248 55M2363 4659l432-70 145-41M3407 4706l231-36 97-29 96 5M4466 4642l269 50 186 1M5486 4641l285-4 252-84M282 5731l413-40 149-59M1323 5742l399-61M2363 5725l375 61 137-28M3407 5774l267 65 74-41 83-25M4466 5665l402 0 142 14 68 11M5486 5698l403-41M282 6754l389 66 157-10M1323 6773l208-34 137-28 134-47M2363 6755l198-20 171 16 153 15M3407 6805l266-72M4466 6705l201 16 260 30 116-24M5486 6738l331-26 258 2"/>
<path stroke="#ff61c7" d="M282 3617l336 47M1323 3637l280-35 129-7M2363 3619l440-32 156 31M3407 3666l236-54 88-83 171 23M4466 3602l385 112 117-77M5486 3601l76-12 150-56 99-27M282 4657l188 13 160 62 68-72M1323 4677l481 66 94-16M2363 4659l109-42 121-17 67 72M3407 4706l430-39 133-6M4466 4642l300-6 246 21M5486 4641l378-35 174 81M282 5731l281 51 163-24M1323 5742l351-3 248 10M2363 5725l54-30 222 14M3407 5774l176 8M4466 5665l293-97 132-24 166-43M5486 5698l97-32 183 16 149-49M282 6754l166-24 235-29 61-31M1323 6773l125 58 162-46M2363 6755l445 12M3407 6805l356 39 212-12M4466 6705l346-2 233 3M5486 6738l422 12 130-44"/>
<path stroke="#ff61c4" d="M282 3617l314 55 243 28M1323 3637l301 69 204-143 90-28M2363 3619l327 2 120-2 126 91M3407 3666l223 38M4466 3602l449 41M5486 3601l264-15 118 34M282 4657l369-96 195 33M1323 4677l400-77 137 34 74 14M2363 4659l209 51 186-52M3407 4706l417 20 157-61M4466 4642l265-2 250 23M5486 4641l490 36M282 5731l341 29 153 20 128-4M1323 5742l358-76 133 4 143-45M2363 5725l242-38 149-16 64-1M3407 5774l423-166M4466 5665l439-71 164 18M5486 5698l489-70M282 6754l160 26 261-60 108 21M1323 6773l464 9 176-32M2363 6755l281-12 88-31 113 24M3407 6805l458 18M4466 6705l388 8M5486 6738l396-85 112 26 107-50"/>
<path stroke="#ff62c0" d="M282 3617l282 35M1323 3637l226-29 97-25 176-11M2363 3619l404-40M3407 3666l424-1 168-15M4466 3602l445-50M5486 3601l263-27M282 4657l192-44 94 30M1323 4677l283 96 121-24 62 13M2363 4659l303-96 195 7 73 1M3407 4706l435 10 170-24M4466 4642l321 42 86-35 132 69M5486 4641l119 35 104 35M282 5731l369-28M1323 5742l196-90 117 43 122-27M2363 5725l226 42 176-53 132-24M3407 5774l225-52 221-84 62 33M4466 5665l61-20 77 55M5486 5698l282 0 148-6M282 6754l229 18 191-44M1323 6773l306-17M2363 6755l358 17 159-10M3407 6805l376 30 174-30M4466 6705l306-20 221 32 82-42M5486 6738l194-1 154 10"/>
<path stroke="#ff62bc" d="M282 3617l370-89 77 5 132 74M1323 3637l473-124M2363 3619l235 38 119-11M3407 3666l273-60 185 52M4466 3602l434 48M5486 3601l262-48 242 10 106-37M282 4657l400 36 140 8M1323 4677l484 7 119 9M2363 4659l198-43 90 72 78-44M3407 4706l341-61 75 43 126-56M4466 4642l278-52 204 9 123-26M5486 4641l370 6 228 28M282 5731l239 3 208-70M1323 5742l340-121 113-34M2363 5725l395-41 129-22 69-48M3407 5774l342-107 239 23M4466 5665l392-15 220 66M5486 5698l218-3 103-32M282 6754l326-82 234-23M1323 6773l456-49M2363 6755l433-24 78 0M3407 6805l244 42M4466 6705l471-8M5486 6738l329-13"/>
<path stroke="#ff63b8" d="M282 3617l235-40 152-44 79-14M1323 3637l353 2 218-61M2363 3619l256-21 111 6 139 67M3407 3666l238 42 167-30 106-158M4466 3602l261 81 180-27 157-23M5486 3601l191-21 166 63M282 4657l339 45 205-33M1323 4677l285-51 246 15M2363 4659l345-9 176-21M3407 4706l227-37 219-30 153-45M4466 4642l306 0 187 37M5486 4641l401-86 211-82M282 5731l253-65 167-3 115-27M1323 5742l291 37 141-37M2363 5725l239 48 239 49M3407 5774l278 43M4466 5665l342 73 82-35M5486 5698l301 45 75 78 152-109M282 6754l341-40 220 6M1323 6773l362-22 106 40 106-33M2363 6755l165 9 204-40M3407 6805l311-12 180-26M4466 6705l268-27M5486 6738l226-8 214-2 145-58"/>
<path stroke="#ff64b4" d="M282 3617l337 1 225-79M1323 3637l217-27 201 9M2363 3619l463-72M3407 3666l459-36 153-49M4466 3602l446 26M5486 3601l320-67 202 25M282 4657l314 48 171 17M1323 4677l308-98 270-39M2363 4659l246-29 200-27 65-74M3407 4706l347-6 111-4 76 7M4466 4642l245-2 243 7 105 26M5486 4641l277 18 137 19 158 16M282 5731l348 53 158-70 109 31M1323 5742l154 19 196-29 126-6M2363 5725l249-53 147-2 93 31M3407 5774l219-55 211-25 63 45M4466 5665l280 71 220-12M5486 5698l236-3 225 0 163 19M282 6754l397-3 196-42M1323 6773l439-49 138-9M2363 6755l353-9 171-28M3407 6805l262-10M4466 6705l279 27 183 7 146 11M5486 6738l211-16 162 2 138 29"/>
<path stroke="#ff64b0" d="M282 3617l470-218M1323 3637l210-49 259 2 172 23M2363 3619l488-58M3407 3666l182 63 165-10 139 61M4466 3602l311-9 198 18M5486 3601l369-113 82-7 99 15M282 4657l134-28 148 23 181-55M1323 4677l204 29 94-9 111-33M2363 4659l360-4 216 2M3407 4706l407-7 172-7M4466 4642l308-50 222 45 89 18M5486 4641l479-93 89 27M282 5731l305-84 139-123 154 125M1323 5742l451-89M2363 5725l157 35 184 44M3407 5774l302-63 150 53 127-28M4466 5665l400-48 146 28 64-61M5486 5698l279-6 212-43 145 17M282 6754l358-26 230-4M1323 6773l238 11 256-3 103 7M2363 6755l343 11 103-25M3407 6805l362-22 192-10M4466 6705l257-57 259 3M5486 6738l327-7"/>
<path stroke="#ff65ab" d="M282 3617l107 41 78-91M1323 3637l108-52 188-8M2363 3619l406-23M3407 3666l229 53 101-111M4466 3602l295-21 107 35 85 50M5486 3601l297-76 192-30M282 4657l446-39 140 4M1323 4677l191-34 178-28 177-63M2363 4659l366 79M3407 4706l447 49M4466 4642l369-22M5486 4641l340-105 255-5M282 5731l413 28 210-128M1323 5742l392-45M2363 5725l308-45 150-6 123 35M3407 5774l191-8 242-21M4466 5665l319-9 147 22M5486 5698l182-65 124 72M282 6754l332 36 138-11 121-11M1323 6773l478-60M2363 6755l417-36M3407 6805l351-2 116 0M4466 6705l280-13 124 4 116 1M5486 6738l344-7 198-61 80-19"/>
<path stroke="#ff66a7" d="M282 3617l135 130 206-93 137-72M1323 3637l278-52 195 16M2363 3619l184 11 204-29 150 26M3407 3666l195-24M4466 3602l216 43 145 29M5486 3601l451-42 175-45M282 4657l206-35 89-36 109 4M1323 4677l446-32 179-6M2363 4659l458 31 129-14M3407 4706l291-77 188-27M4466 4642l340 6 180 12M5486 4641l208-84 147 18 138-43M282 5731l288 70 175-158 85 59M1323 5742l484-60M2363 5725l426 13 91-5M3407 5774l346-28M4466 5665l302 14 228 29 95-25M5486 5698l264-75M282 6754l353 23 161-82M1323 6773l202-44 110-29 150 16M2363 6755l285 8 86-28M3407 6805l225-8 174 11 133-26M4466 6705l224-9 252 17 77-10M5486 6738l357-40 159-30 123 42"/>
<path stroke="#ff67a3" d="M282 3617l206-38 125-46 127-83M1323 3637l407-81 78-52 81-14M2363 3619l247-79 186 5M3407 3666l122 12 250 29 95-2M4466 3602l250-25 193-15 117-3M5486 3601l457 10M282 4657l351-23 171 78 95-57M1323 4677l383-118 203-25M2363 4659l367 44 230 30M3407 4706l300 9M4466 4642l457-16M5486 4641l274-8 180 7 135 1M282 5731l447 129M1323 5742l290-76 181-58 64 43M2363 5725l273-61 127-46 70 44M3407 5774l450 23M4466 5665l383-4 220 38M5486 5698l335-79 124 68M282 6754l91-10 164 2M1323 6773l428-54 138 10M2363 6755l487-67 142-28M3407 6805l460 39M4466 6705l309-11M5486 6738l333-14 168-58 101-1"/>
<path stroke="#ff689e" d="M282 3617l337-29 185 33M1323 3637l206 9 102-33M2363 3619l278 13 129-100 146 77M3407 3666l403-158 92 75M4466 3602l290 40 98-33 123 74M5486 3601l490 0M282 4657l243 6 247-33M1323 4677l382 90 199-60M2363 4659l349-46 76-26M3407 4706l347-49 223-22M4466 4642l361 20 160-3M5486 4641l265-34 256-24M282 5731l332-108M1323 5742l185-34 196 10 82-54M2363 5725l446 61M3407 5774l208-30 235-86 161 24M4466 5665l387 7 99 18 135-15M5486 5698l227-53M282 6754l289-37 236-35M1323 6773l464 2M2363 6755l77-13 103-29 114 31M3407 6805l225-18 236 1M4466 6705l368 5 126 1M5486 6738l129-47 93 0"/>
<path stroke="#ff6a9a" d="M282 3617l224 10 148-21 167 0M1323 3637l259 10 203-44 177 62M2363 3619l349-94 237 66M3407 3666l313-225 162 144M4466 3602l199-15 172-33M5486 3601l206-42 242-25M282 4657l184-108 157 15 155-39M1323 4677l210 19M2363 4659l127-70M3407 4706l218-9 147-58 181 58M4466 4642l242 54 245-42 94 44M5486 4641l271 33 215-87M282 5731l220 35 226-168M1323 5742l463 10M2363 5725l190-30 155 21M3407 5774l358-26 106-6 145-81M4466 5665l232 67 101-22 94-21M5486 5698l493-67M282 6754l476 5M1323 6773l124-35 196 20 175-32M2363 6755l192-29 198-6 63 2M3407 6805l391-45 74 54 124-46M4466 6705l186-20 200 7M5486 6738l443-16"/>
<path stroke="#ff6b95" d="M282 3617l386-127 86 32 114 25M1323 3637l361-25M2363 3619l290-13 133 72M3407 3666l160 18 142 39 139-67M4466 3602l180 3 148-15 88-27M5486 3601l320-87 87 29 173-8M282 4657l407-66 93-39M1323 4677l175 17M2363 4659l344 44M3407 4706l292-29 198 51M4466 4642l231-35M5486 4641l286 49M282 5731l305 27 100-87M1323 5742l479-84M2363 5725l235 61 255-25 126-11M3407 5774l315 85 178 106M4466 5665l335 35 188 4M5486 5698l439-11 78 37 73 2M282 6754l417-47 142 14M1323 6773l298-25 145-26 69 40M2363 6755l422 2M3407 6805l197-12 218 36 90-45M4466 6705l213 1 113 8 144 13M5486 6738l470-6 148-19"/>
<path stroke="#ff6c91" d="M282 3617l296-79 234 62M1323 3637l305-14 230-82 71 76M2363 3619l208 18 193-124M3407 3666l253-28 243-36M4466 3602l466-99 121-10M5486 3601l466-53M282 4657l335-53 118 4 112 4M1323 4677l276 16 108-8 127 11M2363 4659l414 16 175-80M3407 4706l297 37 186 26M4466 4642l269 21 105-4 169 36M5486 4641l287 5 88-23 102 47M282 5731l437-153M1323 5742l347-25 186 7M2363 5725l474-90 127-100M3407 5774l272-16 164-41M4466 5665l400 27 158 15M5486 5698l388-64 78 29 123-76M282 6754l347-37 76-36 101 8M1323 6773l284-50 204 72 124 16M2363 6755l484-21M3407 6805l293-36 185-24 132-32M4466 6705l467-22M5486 6738l245 7 75-48"/>
<path stroke="#fe6e8c" d="M282 3617l367 68 188 13M1323 3637l280-31 196-30 144-34M2363 3619l275-12M3407 3666l355-31 94-11M4466 3602l259 27 221-1M5486 3601l426-120 190-39M282 4657l395-28 85 2 152-64M1323 4677l307 39 127 9 112-61M2363 4659l173 4 261 61M3407 4706l209-23 133-87 76 51M4466 4642l231 5 174-37M5486 4641l209 38 80-79 75 9M282 5731l386-60 230 2M1323 5742l489-13 108-22M2363 5725l282 10 92-13M3407 5774l251 18 81-42 72 24M4466 5665l66 31 92-34 123 45M5486 5698l487-111 147 30M282 6754l302-43 76 37M1323 6773l65-76 252-15 67 24M2363 6755l425 25M3407 6805l329 1 103-47 114 24M4466 6705l208-20 186-23 121-18M5486 6738l227-7 116 47 146-79"/>
<path stroke="#fd6f87" d="M282 3617l316 25 150 12 157-21M1323 3637l396-23M2363 3619l372-16 177-17M3407 3666l378 5 110 49M4466 3602l335 25 178 11M5486 3601l232 21 223-4 101-56M282 4657l358 14 225 64M1323 4677l194 18 82 7 123-43M2363 4659l235-64 202-21 113 11M3407 4706l434 95 148-85M4466 4642l412 9 156-5M5486 4641l409-56 118 4M282 5731l273-49 234 43M1323 5742l429 6 87-66M2363 5725l98-45M3407 5774l96-53 187-24 116 16M4466 5665l138 28 105-9M5486 5698l264 28 141-72M282 6754l353-50M1323 6773l456-57M2363 6755l402-14 206 23M3407 6805l314 19 192 23 113-6M4466 6705l198 4 239-21 90 12M5486 6738l245-34 233-13 153-102"/>
<path stroke="#fc7082" d="M282 3617l290-119 238 7M1323 3637l412-100 117-8M2363 3619l324 84 151-113 104-70M3407 3666l440 12 75 26M4466 3602l97-69 175 15 177 72M5486 3601l413-85 211 39M282 4657l286-49 176 7M1323 4677l185 33 74 21 126-24M2363 4659l369-56 188-58M3407 4706l190-51 173-31 86 76M4466 4642l85 40 181-7 151-3M5486 4641l311-78 91 2M282 5731l150 123 170-41M1323 5742l440 41 149-26M2363 5725l188-39 169-30M3407 5774l250 32 250-25M4466 5665l269 16 110 39 113-37M5486 5698l488-49M282 6754l205-47 108 20 123-19M1323 6773l291-2 179 16 98-30M2363 6755l319-35M3407 6805l343-3 146-1M4466 6705l447 9 108 7M5486 6738l440 14"/>
<path stroke="#fb727d" d="M282 3617l275-310 268 12M1323 3637l127-29 212 15M2363 3619l441-137M3407 3666l325-135M4466 3602l191 81 119 7 122-52M5486 3601l221 21 106-23 73-5M282 4657l320 7 253 45M1323 4677l251 26 144-3M2363 4659l366-106 135 74M3407 4706l289-2 133-9M4466 4642l253-17 175-14 85 17M5486 4641l240-19 102-24M282 5731l251-93 100 82 62-38M1323 5742l231-28 153 23 161-47M2363 5725l340-71 261-52M3407 5774l346 77 153-53M4466 5665l303 3M5486 5698l253-44 214 0M282 6754l317 13 208 3 96-57M1323 6773l280-42 136 31M2363 6755l222 39 120-25M3407 6805l289 60 127 44 96 3M4466 6705l194 6 203 6 178-5M5486 6738l259-36 160-43"/>
<path stroke="#fa7378" d="M282 3617l357 12 147 22 129 30M1323 3637l361-45 198 27M2363 3619l322-39M3407 3666l475-12M4466 3602l298 11 83 77M5486 3601l367-83 118 2 93-42M282 4657l337-21 147-90 103 51M1323 4677l365 26 212 12M2363 4659l237 27 142-27M3407 4706l410-45 223-8M4466 4642l471 10M5486 4641l337-91 172-9M282 5731l440-100 139 66M1323 5742l186-67M2363 5725l342-34 212 2M3407 5774l271 55 161-35 134-21M4466 5665l276-24 103 77 83-62M5486 5698l268 21 160-46 135-7M282 6754l465-55 126-13M1323 6773l371 16 245-64M2363 6755l289-38M3407 6805l393 52 97-86 125 27M4466 6705l245-7 248 3M5486 6738l327 12 257 2"/>
<path stroke="#f97572" d="M282 3617l333 103 135-137 75 90M1323 3637l441-97 113 95M2363 3619l115 41 242-29 177 4M3407 3666l328-38 174-32 73 57M4466 3602l85 20M5486 3601l186-24 134 8 179-68M282 4657l390-41 152 13M1323 4677l385 0 178-7M2363 4659l254-19 165-42 160-22M3407 4706l266-27 127-28M4466 4642l316 36 201-6 83 18M5486 4641l194 44 271-11 103-94M282 5731l201-91 180-57 176 22M1323 5742l204-22M2363 5725l453 23 171-60M3407 5774l447 44 128 8M4466 5665l332 160 142 17M5486 5698l250 24 229 0 78-89M282 6754l358-48 196-13M1323 6773l479 95M2363 6755l199-42 217 14M3407 6805l288-32 93 19 89-9M4466 6705l325-22 130-12 133 2M5486 6738l328-32 177 16 101-25"/>
</g>
<rect x="25.40" y="321.50" width="71.00" height="76.80" fill="none" stroke="#888" stroke-width="0.75"/>
<g stroke="#666" stroke-width="0.7">
<line x1="22.60" y1="328.21" x2="25.40" y2="328.21"/>
<line x1="22.60" y1="344.98" x2="25.40" y2="344.98"/>
<line x1="22.60" y1="361.74" x2="25.40" y2="361.74"/>
<line x1="22.60" y1="378.51" x2="25.40" y2="378.51"/>
<line x1="22.60" y1="395.28" x2="25.40" y2="395.28"/>
<line x1="28.24" y1="398.30" x2="28.24" y2="401.10"/>
<line x1="58.77" y1="398.30" x2="58.77" y2="401.10"/>
<line x1="89.30" y1="398.30" x2="89.30" y2="401.10"/>
</g>
<g font-family="Liberation Sans, sans-serif" font-size="7" fill="#4d4d4d" stroke="#4d4d4d" stroke-width="0.24">
<text x="20.60" y="330.71" text-anchor="end">10</text>
<text x="20.60" y="347.48" text-anchor="end">5</text>
<text x="20.60" y="364.24" text-anchor="end">0</text>
<text x="20.60" y="381.01" text-anchor="end">−5</text>
<text x="20.60" y="397.78" text-anchor="end">−10</text>
<text x="28.24" y="407.50" text-anchor="middle">0</text>
<text x="58.77" y="407.50" text-anchor="middle">250</text>
<text x="89.30" y="407.50" text-anchor="middle">500</text>
</g>
<text font-family="Liberation Sans, sans-serif" font-size="7.25" fill="#000" x="60.90" y="416.60" text-anchor="middle" stroke="#000" stroke-width="0.24">Days from Baseline</text>
<text font-family="Liberation Sans, sans-serif" font-size="7.15" fill="#000" x="6.50" y="359.90" text-anchor="middle" transform="rotate(-90 6.50 359.90)" stroke="#000" stroke-width="0.24">Methylation Age Change</text>
<text font-family="Liberation Sans, sans-serif" font-size="9.5" font-weight="bold" fill="#000" x="61.30" y="309.60" text-anchor="middle" stroke="#000" stroke-width="0.24">Horvath1</text>
<rect x="129.40" y="321.50" width="71.30" height="76.80" fill="none" stroke="#888" stroke-width="0.75"/>
<g stroke="#666" stroke-width="0.7">
<line x1="126.60" y1="331.97" x2="129.40" y2="331.97"/>
<line x1="126.60" y1="347.84" x2="129.40" y2="347.84"/>
<line x1="126.60" y1="363.71" x2="129.40" y2="363.71"/>
<line x1="126.60" y1="379.58" x2="129.40" y2="379.58"/>
<line x1="126.60" y1="395.44" x2="129.40" y2="395.44"/>
<line x1="132.25" y1="398.30" x2="132.25" y2="401.10"/>
<line x1="162.91" y1="398.30" x2="162.91" y2="401.10"/>
<line x1="193.57" y1="398.30" x2="193.57" y2="401.10"/>
</g>
<g font-family="Liberation Sans, sans-serif" font-size="7" fill="#4d4d4d" stroke="#4d4d4d" stroke-width="0.24">
<text x="124.60" y="334.47" text-anchor="end">10</text>
<text x="124.60" y="350.34" text-anchor="end">5</text>
<text x="124.60" y="366.21" text-anchor="end">0</text>
<text x="124.60" y="382.08" text-anchor="end">−5</text>
<text x="124.60" y="397.94" text-anchor="end">−10</text>
<text x="132.25" y="407.50" text-anchor="middle">0</text>
<text x="162.91" y="407.50" text-anchor="middle">250</text>
<text x="193.57" y="407.50" text-anchor="middle">500</text>
</g>
<text font-family="Liberation Sans, sans-serif" font-size="7.25" fill="#000" x="165.05" y="416.60" text-anchor="middle" stroke="#000" stroke-width="0.24">Days from Baseline</text>
<text font-family="Liberation Sans, sans-serif" font-size="7.15" fill="#000" x="110.50" y="359.90" text-anchor="middle" transform="rotate(-90 110.50 359.90)" stroke="#000" stroke-width="0.24">Methylation Age Change</text>
<text font-family="Liberation Sans, sans-serif" font-size="9.5" font-weight="bold" fill="#000" x="164.50" y="309.60" text-anchor="middle" stroke="#000" stroke-width="0.24">Horvath2</text>
<rect x="233.50" y="321.50" width="71.10" height="76.80" fill="none" stroke="#888" stroke-width="0.75"/>
<g stroke="#666" stroke-width="0.7">
<line x1="230.70" y1="328.42" x2="233.50" y2="328.42"/>
<line x1="230.70" y1="345.14" x2="233.50" y2="345.14"/>
<line x1="230.70" y1="361.86" x2="233.50" y2="361.86"/>
<line x1="230.70" y1="378.57" x2="233.50" y2="378.57"/>
<line x1="230.70" y1="395.29" x2="233.50" y2="395.29"/>
<line x1="236.34" y1="398.30" x2="236.34" y2="401.10"/>
<line x1="266.92" y1="398.30" x2="266.92" y2="401.10"/>
<line x1="297.49" y1="398.30" x2="297.49" y2="401.10"/>
</g>
<g font-family="Liberation Sans, sans-serif" font-size="7" fill="#4d4d4d" stroke="#4d4d4d" stroke-width="0.24">
<text x="228.70" y="330.92" text-anchor="end">10</text>
<text x="228.70" y="347.64" text-anchor="end">5</text>
<text x="228.70" y="364.36" text-anchor="end">0</text>
<text x="228.70" y="381.07" text-anchor="end">−5</text>
<text x="228.70" y="397.79" text-anchor="end">−10</text>
<text x="236.34" y="407.50" text-anchor="middle">0</text>
<text x="266.92" y="407.50" text-anchor="middle">250</text>
<text x="297.49" y="407.50" text-anchor="middle">500</text>
</g>
<text font-family="Liberation Sans, sans-serif" font-size="7.25" fill="#000" x="269.05" y="416.60" text-anchor="middle" stroke="#000" stroke-width="0.24">Days from Baseline</text>
<text font-family="Liberation Sans, sans-serif" font-size="7.15" fill="#000" x="214.60" y="359.90" text-anchor="middle" transform="rotate(-90 214.60 359.90)" stroke="#000" stroke-width="0.24">Methylation Age Change</text>
<text font-family="Liberation Sans, sans-serif" font-size="9.5" font-weight="bold" fill="#000" x="268.20" y="309.60" text-anchor="middle" stroke="#000" stroke-width="0.24">Hannum</text>
<rect x="337.90" y="321.50" width="70.20" height="76.80" fill="none" stroke="#888" stroke-width="0.75"/>
<g stroke="#666" stroke-width="0.7">
<line x1="335.10" y1="328.86" x2="337.90" y2="328.86"/>
<line x1="335.10" y1="347.73" x2="337.90" y2="347.73"/>
<line x1="335.10" y1="366.60" x2="337.90" y2="366.60"/>
<line x1="335.10" y1="385.47" x2="337.90" y2="385.47"/>
<line x1="340.71" y1="398.30" x2="340.71" y2="401.10"/>
<line x1="370.89" y1="398.30" x2="370.89" y2="401.10"/>
<line x1="401.08" y1="398.30" x2="401.08" y2="401.10"/>
</g>
<g font-family="Liberation Sans, sans-serif" font-size="7" fill="#4d4d4d" stroke="#4d4d4d" stroke-width="0.24">
<text x="333.10" y="331.36" text-anchor="end">20</text>
<text x="333.10" y="350.23" text-anchor="end">10</text>
<text x="333.10" y="369.10" text-anchor="end">0</text>
<text x="333.10" y="387.97" text-anchor="end">−10</text>
<text x="340.71" y="407.50" text-anchor="middle">0</text>
<text x="370.89" y="407.50" text-anchor="middle">250</text>
<text x="401.08" y="407.50" text-anchor="middle">500</text>
</g>
<text font-family="Liberation Sans, sans-serif" font-size="7.25" fill="#000" x="373.00" y="416.60" text-anchor="middle" stroke="#000" stroke-width="0.24">Days from Baseline</text>
<text font-family="Liberation Sans, sans-serif" font-size="7.15" fill="#000" x="319.00" y="359.90" text-anchor="middle" transform="rotate(-90 319.00 359.90)" stroke="#000" stroke-width="0.24">Methylation Age Change</text>
<text font-family="Liberation Sans, sans-serif" font-size="9.5" font-weight="bold" fill="#000" x="371.70" y="309.60" text-anchor="middle" stroke="#000" stroke-width="0.24">PhenoAge</text>
<rect x="443.80" y="321.50" width="69.30" height="76.80" fill="none" stroke="#888" stroke-width="0.75"/>
<g stroke="#666" stroke-width="0.7">
<line x1="441.00" y1="325.41" x2="443.80" y2="325.41"/>
<line x1="441.00" y1="342.81" x2="443.80" y2="342.81"/>
<line x1="441.00" y1="360.20" x2="443.80" y2="360.20"/>
<line x1="441.00" y1="377.60" x2="443.80" y2="377.60"/>
<line x1="441.00" y1="394.99" x2="443.80" y2="394.99"/>
<line x1="446.57" y1="398.30" x2="446.57" y2="401.10"/>
<line x1="476.37" y1="398.30" x2="476.37" y2="401.10"/>
<line x1="506.17" y1="398.30" x2="506.17" y2="401.10"/>
</g>
<g font-family="Liberation Sans, sans-serif" font-size="7" fill="#4d4d4d" stroke="#4d4d4d" stroke-width="0.24">
<text x="439.00" y="327.91" text-anchor="end">0.4</text>
<text x="439.00" y="345.31" text-anchor="end">0.2</text>
<text x="439.00" y="362.70" text-anchor="end">0.0</text>
<text x="439.00" y="380.10" text-anchor="end">−0.2</text>
<text x="439.00" y="397.49" text-anchor="end">−0.4</text>
<text x="446.57" y="407.50" text-anchor="middle">0</text>
<text x="476.37" y="407.50" text-anchor="middle">250</text>
<text x="506.17" y="407.50" text-anchor="middle">500</text>
</g>
<text font-family="Liberation Sans, sans-serif" font-size="7.25" fill="#000" x="478.45" y="416.60" text-anchor="middle" stroke="#000" stroke-width="0.24">Days from Baseline</text>
<text font-family="Liberation Sans, sans-serif" font-size="7.15" fill="#000" x="422.20" y="359.90" text-anchor="middle" transform="rotate(-90 422.20 359.90)" stroke="#000" stroke-width="0.24">Methylation Age Change</text>
<text font-family="Liberation Sans, sans-serif" font-size="9.5" font-weight="bold" fill="#000" x="475.10" y="309.60" text-anchor="middle" stroke="#000" stroke-width="0.24">DNAmTL</text>
<rect x="545.70" y="321.50" width="71.80" height="76.80" fill="none" stroke="#888" stroke-width="0.75"/>
<g stroke="#666" stroke-width="0.7">
<line x1="542.90" y1="324.69" x2="545.70" y2="324.69"/>
<line x1="542.90" y1="342.38" x2="545.70" y2="342.38"/>
<line x1="542.90" y1="360.08" x2="545.70" y2="360.08"/>
<line x1="542.90" y1="377.77" x2="545.70" y2="377.77"/>
<line x1="542.90" y1="395.47" x2="545.70" y2="395.47"/>
<line x1="548.57" y1="398.30" x2="548.57" y2="401.10"/>
<line x1="579.45" y1="398.30" x2="579.45" y2="401.10"/>
<line x1="610.32" y1="398.30" x2="610.32" y2="401.10"/>
</g>
<g font-family="Liberation Sans, sans-serif" font-size="7" fill="#4d4d4d" stroke="#4d4d4d" stroke-width="0.24">
<text x="540.90" y="327.19" text-anchor="end">10</text>
<text x="540.90" y="344.88" text-anchor="end">5</text>
<text x="540.90" y="362.58" text-anchor="end">0</text>
<text x="540.90" y="380.27" text-anchor="end">−5</text>
<text x="540.90" y="397.97" text-anchor="end">−10</text>
<text x="548.57" y="407.50" text-anchor="middle">0</text>
<text x="579.45" y="407.50" text-anchor="middle">250</text>
<text x="610.32" y="407.50" text-anchor="middle">500</text>
</g>
<text font-family="Liberation Sans, sans-serif" font-size="7.25" fill="#000" x="581.60" y="416.60" text-anchor="middle" stroke="#000" stroke-width="0.24">Days from Baseline</text>
<text font-family="Liberation Sans, sans-serif" font-size="7.15" fill="#000" x="526.80" y="359.90" text-anchor="middle" transform="rotate(-90 526.80 359.90)" stroke="#000" stroke-width="0.24">Methylation Age Change</text>
<text font-family="Liberation Sans, sans-serif" font-size="9.5" font-weight="bold" fill="#000" x="578.50" y="309.60" text-anchor="middle" stroke="#000" stroke-width="0.24">GrimAge</text>
<rect x="25.40" y="425.50" width="71.00" height="76.80" fill="none" stroke="#888" stroke-width="0.75"/>
<g stroke="#666" stroke-width="0.7">
<line x1="22.60" y1="432.21" x2="25.40" y2="432.21"/>
<line x1="22.60" y1="448.98" x2="25.40" y2="448.98"/>
<line x1="22.60" y1="465.74" x2="25.40" y2="465.74"/>
<line x1="22.60" y1="482.51" x2="25.40" y2="482.51"/>
<line x1="22.60" y1="499.28" x2="25.40" y2="499.28"/>
<line x1="28.24" y1="502.30" x2="28.24" y2="505.10"/>
<line x1="58.77" y1="502.30" x2="58.77" y2="505.10"/>
<line x1="89.30" y1="502.30" x2="89.30" y2="505.10"/>
</g>
<g font-family="Liberation Sans, sans-serif" font-size="7" fill="#4d4d4d" stroke="#4d4d4d" stroke-width="0.24">
<text x="20.60" y="434.71" text-anchor="end">10</text>
<text x="20.60" y="451.48" text-anchor="end">5</text>
<text x="20.60" y="468.24" text-anchor="end">0</text>
<text x="20.60" y="485.01" text-anchor="end">−5</text>
<text x="20.60" y="501.78" text-anchor="end">−10</text>
<text x="28.24" y="511.50" text-anchor="middle">0</text>
<text x="58.77" y="511.50" text-anchor="middle">250</text>
<text x="89.30" y="511.50" text-anchor="middle">500</text>
</g>
<text font-family="Liberation Sans, sans-serif" font-size="7.25" fill="#000" x="60.90" y="520.60" text-anchor="middle" stroke="#000" stroke-width="0.24">Days from Baseline</text>
<text font-family="Liberation Sans, sans-serif" font-size="7.15" fill="#000" x="6.50" y="463.90" text-anchor="middle" transform="rotate(-90 6.50 463.90)" stroke="#000" stroke-width="0.24">Methylation Age Change</text>
<rect x="129.40" y="425.50" width="71.30" height="76.80" fill="none" stroke="#888" stroke-width="0.75"/>
<g stroke="#666" stroke-width="0.7">
<line x1="126.60" y1="435.97" x2="129.40" y2="435.97"/>
<line x1="126.60" y1="451.84" x2="129.40" y2="451.84"/>
<line x1="126.60" y1="467.71" x2="129.40" y2="467.71"/>
<line x1="126.60" y1="483.58" x2="129.40" y2="483.58"/>
<line x1="126.60" y1="499.44" x2="129.40" y2="499.44"/>
<line x1="132.25" y1="502.30" x2="132.25" y2="505.10"/>
<line x1="162.91" y1="502.30" x2="162.91" y2="505.10"/>
<line x1="193.57" y1="502.30" x2="193.57" y2="505.10"/>
</g>
<g font-family="Liberation Sans, sans-serif" font-size="7" fill="#4d4d4d" stroke="#4d4d4d" stroke-width="0.24">
<text x="124.60" y="438.47" text-anchor="end">10</text>
<text x="124.60" y="454.34" text-anchor="end">5</text>
<text x="124.60" y="470.21" text-anchor="end">0</text>
<text x="124.60" y="486.08" text-anchor="end">−5</text>
<text x="124.60" y="501.94" text-anchor="end">−10</text>
<text x="132.25" y="511.50" text-anchor="middle">0</text>
<text x="162.91" y="511.50" text-anchor="middle">250</text>
<text x="193.57" y="511.50" text-anchor="middle">500</text>
</g>
<text font-family="Liberation Sans, sans-serif" font-size="7.25" fill="#000" x="165.05" y="520.60" text-anchor="middle" stroke="#000" stroke-width="0.24">Days from Baseline</text>
<text font-family="Liberation Sans, sans-serif" font-size="7.15" fill="#000" x="110.50" y="463.90" text-anchor="middle" transform="rotate(-90 110.50 463.90)" stroke="#000" stroke-width="0.24">Methylation Age Change</text>
<rect x="233.50" y="425.50" width="71.10" height="76.80" fill="none" stroke="#888" stroke-width="0.75"/>
<g stroke="#666" stroke-width="0.7">
<line x1="230.70" y1="432.42" x2="233.50" y2="432.42"/>
<line x1="230.70" y1="449.14" x2="233.50" y2="449.14"/>
<line x1="230.70" y1="465.86" x2="233.50" y2="465.86"/>
<line x1="230.70" y1="482.57" x2="233.50" y2="482.57"/>
<line x1="230.70" y1="499.29" x2="233.50" y2="499.29"/>
<line x1="236.34" y1="502.30" x2="236.34" y2="505.10"/>
<line x1="266.92" y1="502.30" x2="266.92" y2="505.10"/>
<line x1="297.49" y1="502.30" x2="297.49" y2="505.10"/>
</g>
<g font-family="Liberation Sans, sans-serif" font-size="7" fill="#4d4d4d" stroke="#4d4d4d" stroke-width="0.24">
<text x="228.70" y="434.92" text-anchor="end">10</text>
<text x="228.70" y="451.64" text-anchor="end">5</text>
<text x="228.70" y="468.36" text-anchor="end">0</text>
<text x="228.70" y="485.07" text-anchor="end">−5</text>
<text x="228.70" y="501.79" text-anchor="end">−10</text>
<text x="236.34" y="511.50" text-anchor="middle">0</text>
<text x="266.92" y="511.50" text-anchor="middle">250</text>
<text x="297.49" y="511.50" text-anchor="middle">500</text>
</g>
<text font-family="Liberation Sans, sans-serif" font-size="7.25" fill="#000" x="269.05" y="520.60" text-anchor="middle" stroke="#000" stroke-width="0.24">Days from Baseline</text>
<text font-family="Liberation Sans, sans-serif" font-size="7.15" fill="#000" x="214.60" y="463.90" text-anchor="middle" transform="rotate(-90 214.60 463.90)" stroke="#000" stroke-width="0.24">Methylation Age Change</text>
<rect x="337.90" y="425.50" width="70.20" height="76.80" fill="none" stroke="#888" stroke-width="0.75"/>
<g stroke="#666" stroke-width="0.7">
<line x1="335.10" y1="432.86" x2="337.90" y2="432.86"/>
<line x1="335.10" y1="451.73" x2="337.90" y2="451.73"/>
<line x1="335.10" y1="470.60" x2="337.90" y2="470.60"/>
<line x1="335.10" y1="489.47" x2="337.90" y2="489.47"/>
<line x1="340.71" y1="502.30" x2="340.71" y2="505.10"/>
<line x1="370.89" y1="502.30" x2="370.89" y2="505.10"/>
<line x1="401.08" y1="502.30" x2="401.08" y2="505.10"/>
</g>
<g font-family="Liberation Sans, sans-serif" font-size="7" fill="#4d4d4d" stroke="#4d4d4d" stroke-width="0.24">
<text x="333.10" y="435.36" text-anchor="end">20</text>
<text x="333.10" y="454.23" text-anchor="end">10</text>
<text x="333.10" y="473.10" text-anchor="end">0</text>
<text x="333.10" y="491.97" text-anchor="end">−10</text>
<text x="340.71" y="511.50" text-anchor="middle">0</text>
<text x="370.89" y="511.50" text-anchor="middle">250</text>
<text x="401.08" y="511.50" text-anchor="middle">500</text>
</g>
<text font-family="Liberation Sans, sans-serif" font-size="7.25" fill="#000" x="373.00" y="520.60" text-anchor="middle" stroke="#000" stroke-width="0.24">Days from Baseline</text>
<text font-family="Liberation Sans, sans-serif" font-size="7.15" fill="#000" x="319.00" y="463.90" text-anchor="middle" transform="rotate(-90 319.00 463.90)" stroke="#000" stroke-width="0.24">Methylation Age Change</text>
<rect x="443.80" y="425.50" width="69.30" height="76.80" fill="none" stroke="#888" stroke-width="0.75"/>
<g stroke="#666" stroke-width="0.7">
<line x1="441.00" y1="429.41" x2="443.80" y2="429.41"/>
<line x1="441.00" y1="446.81" x2="443.80" y2="446.81"/>
<line x1="441.00" y1="464.20" x2="443.80" y2="464.20"/>
<line x1="441.00" y1="481.60" x2="443.80" y2="481.60"/>
<line x1="441.00" y1="498.99" x2="443.80" y2="498.99"/>
<line x1="446.57" y1="502.30" x2="446.57" y2="505.10"/>
<line x1="476.37" y1="502.30" x2="476.37" y2="505.10"/>
<line x1="506.17" y1="502.30" x2="506.17" y2="505.10"/>
</g>
<g font-family="Liberation Sans, sans-serif" font-size="7" fill="#4d4d4d" stroke="#4d4d4d" stroke-width="0.24">
<text x="439.00" y="431.91" text-anchor="end">0.4</text>
<text x="439.00" y="449.31" text-anchor="end">0.2</text>
<text x="439.00" y="466.70" text-anchor="end">0.0</text>
<text x="439.00" y="484.10" text-anchor="end">−0.2</text>
<text x="439.00" y="501.49" text-anchor="end">−0.4</text>
<text x="446.57" y="511.50" text-anchor="middle">0</text>
<text x="476.37" y="511.50" text-anchor="middle">250</text>
<text x="506.17" y="511.50" text-anchor="middle">500</text>
</g>
<text font-family="Liberation Sans, sans-serif" font-size="7.25" fill="#000" x="478.45" y="520.60" text-anchor="middle" stroke="#000" stroke-width="0.24">Days from Baseline</text>
<text font-family="Liberation Sans, sans-serif" font-size="7.15" fill="#000" x="422.20" y="463.90" text-anchor="middle" transform="rotate(-90 422.20 463.90)" stroke="#000" stroke-width="0.24">Methylation Age Change</text>
<rect x="545.70" y="425.50" width="71.80" height="76.80" fill="none" stroke="#888" stroke-width="0.75"/>
<g stroke="#666" stroke-width="0.7">
<line x1="542.90" y1="428.69" x2="545.70" y2="428.69"/>
<line x1="542.90" y1="446.38" x2="545.70" y2="446.38"/>
<line x1="542.90" y1="464.08" x2="545.70" y2="464.08"/>
<line x1="542.90" y1="481.77" x2="545.70" y2="481.77"/>
<line x1="542.90" y1="499.47" x2="545.70" y2="499.47"/>
<line x1="548.57" y1="502.30" x2="548.57" y2="505.10"/>
<line x1="579.45" y1="502.30" x2="579.45" y2="505.10"/>
<line x1="610.32" y1="502.30" x2="610.32" y2="505.10"/>
</g>
<g font-family="Liberation Sans, sans-serif" font-size="7" fill="#4d4d4d" stroke="#4d4d4d" stroke-width="0.24">
<text x="540.90" y="431.19" text-anchor="end">10</text>
<text x="540.90" y="448.88" text-anchor="end">5</text>
<text x="540.90" y="466.58" text-anchor="end">0</text>
<text x="540.90" y="484.27" text-anchor="end">−5</text>
<text x="540.90" y="501.97" text-anchor="end">−10</text>
<text x="548.57" y="511.50" text-anchor="middle">0</text>
<text x="579.45" y="511.50" text-anchor="middle">250</text>
<text x="610.32" y="511.50" text-anchor="middle">500</text>
</g>
<text font-family="Liberation Sans, sans-serif" font-size="7.25" fill="#000" x="581.60" y="520.60" text-anchor="middle" stroke="#000" stroke-width="0.24">Days from Baseline</text>
<text font-family="Liberation Sans, sans-serif" font-size="7.15" fill="#000" x="526.80" y="463.90" text-anchor="middle" transform="rotate(-90 526.80 463.90)" stroke="#000" stroke-width="0.24">Methylation Age Change</text>
<rect x="25.40" y="529.50" width="71.00" height="76.80" fill="none" stroke="#888" stroke-width="0.75"/>
<g stroke="#666" stroke-width="0.7">
<line x1="22.60" y1="536.21" x2="25.40" y2="536.21"/>
<line x1="22.60" y1="552.98" x2="25.40" y2="552.98"/>
<line x1="22.60" y1="569.74" x2="25.40" y2="569.74"/>
<line x1="22.60" y1="586.51" x2="25.40" y2="586.51"/>
<line x1="22.60" y1="603.28" x2="25.40" y2="603.28"/>
<line x1="28.24" y1="606.30" x2="28.24" y2="609.10"/>
<line x1="58.77" y1="606.30" x2="58.77" y2="609.10"/>
<line x1="89.30" y1="606.30" x2="89.30" y2="609.10"/>
</g>
<g font-family="Liberation Sans, sans-serif" font-size="7" fill="#4d4d4d" stroke="#4d4d4d" stroke-width="0.24">
<text x="20.60" y="538.71" text-anchor="end">10</text>
<text x="20.60" y="555.48" text-anchor="end">5</text>
<text x="20.60" y="572.24" text-anchor="end">0</text>
<text x="20.60" y="589.01" text-anchor="end">−5</text>
<text x="20.60" y="605.78" text-anchor="end">−10</text>
<text x="28.24" y="615.50" text-anchor="middle">0</text>
<text x="58.77" y="615.50" text-anchor="middle">250</text>
<text x="89.30" y="615.50" text-anchor="middle">500</text>
</g>
<text font-family="Liberation Sans, sans-serif" font-size="7.25" fill="#000" x="60.90" y="624.60" text-anchor="middle" stroke="#000" stroke-width="0.24">Days from Baseline</text>
<text font-family="Liberation Sans, sans-serif" font-size="7.15" fill="#000" x="6.50" y="567.90" text-anchor="middle" transform="rotate(-90 6.50 567.90)" stroke="#000" stroke-width="0.24">Methylation Age Change</text>
<rect x="129.40" y="529.50" width="71.30" height="76.80" fill="none" stroke="#888" stroke-width="0.75"/>
<g stroke="#666" stroke-width="0.7">
<line x1="126.60" y1="539.97" x2="129.40" y2="539.97"/>
<line x1="126.60" y1="555.84" x2="129.40" y2="555.84"/>
<line x1="126.60" y1="571.71" x2="129.40" y2="571.71"/>
<line x1="126.60" y1="587.58" x2="129.40" y2="587.58"/>
<line x1="126.60" y1="603.44" x2="129.40" y2="603.44"/>
<line x1="132.25" y1="606.30" x2="132.25" y2="609.10"/>
<line x1="162.91" y1="606.30" x2="162.91" y2="609.10"/>
<line x1="193.57" y1="606.30" x2="193.57" y2="609.10"/>
</g>
<g font-family="Liberation Sans, sans-serif" font-size="7" fill="#4d4d4d" stroke="#4d4d4d" stroke-width="0.24">
<text x="124.60" y="542.47" text-anchor="end">10</text>
<text x="124.60" y="558.34" text-anchor="end">5</text>
<text x="124.60" y="574.21" text-anchor="end">0</text>
<text x="124.60" y="590.08" text-anchor="end">−5</text>
<text x="124.60" y="605.94" text-anchor="end">−10</text>
<text x="132.25" y="615.50" text-anchor="middle">0</text>
<text x="162.91" y="615.50" text-anchor="middle">250</text>
<text x="193.57" y="615.50" text-anchor="middle">500</text>
</g>
<text font-family="Liberation Sans, sans-serif" font-size="7.25" fill="#000" x="165.05" y="624.60" text-anchor="middle" stroke="#000" stroke-width="0.24">Days from Baseline</text>
<text font-family="Liberation Sans, sans-serif" font-size="7.15" fill="#000" x="110.50" y="567.90" text-anchor="middle" transform="rotate(-90 110.50 567.90)" stroke="#000" stroke-width="0.24">Methylation Age Change</text>
<rect x="233.50" y="529.50" width="71.10" height="76.80" fill="none" stroke="#888" stroke-width="0.75"/>
<g stroke="#666" stroke-width="0.7">
<line x1="230.70" y1="536.42" x2="233.50" y2="536.42"/>
<line x1="230.70" y1="553.14" x2="233.50" y2="553.14"/>
<line x1="230.70" y1="569.86" x2="233.50" y2="569.86"/>
<line x1="230.70" y1="586.57" x2="233.50" y2="586.57"/>
<line x1="230.70" y1="603.29" x2="233.50" y2="603.29"/>
<line x1="236.34" y1="606.30" x2="236.34" y2="609.10"/>
<line x1="266.92" y1="606.30" x2="266.92" y2="609.10"/>
<line x1="297.49" y1="606.30" x2="297.49" y2="609.10"/>
</g>
<g font-family="Liberation Sans, sans-serif" font-size="7" fill="#4d4d4d" stroke="#4d4d4d" stroke-width="0.24">
<text x="228.70" y="538.92" text-anchor="end">10</text>
<text x="228.70" y="555.64" text-anchor="end">5</text>
<text x="228.70" y="572.36" text-anchor="end">0</text>
<text x="228.70" y="589.07" text-anchor="end">−5</text>
<text x="228.70" y="605.79" text-anchor="end">−10</text>
<text x="236.34" y="615.50" text-anchor="middle">0</text>
<text x="266.92" y="615.50" text-anchor="middle">250</text>
<text x="297.49" y="615.50" text-anchor="middle">500</text>
</g>
<text font-family="Liberation Sans, sans-serif" font-size="7.25" fill="#000" x="269.05" y="624.60" text-anchor="middle" stroke="#000" stroke-width="0.24">Days from Baseline</text>
<text font-family="Liberation Sans, sans-serif" font-size="7.15" fill="#000" x="214.60" y="567.90" text-anchor="middle" transform="rotate(-90 214.60 567.90)" stroke="#000" stroke-width="0.24">Methylation Age Change</text>
<rect x="337.90" y="529.50" width="70.20" height="76.80" fill="none" stroke="#888" stroke-width="0.75"/>
<g stroke="#666" stroke-width="0.7">
<line x1="335.10" y1="536.86" x2="337.90" y2="536.86"/>
<line x1="335.10" y1="555.73" x2="337.90" y2="555.73"/>
<line x1="335.10" y1="574.60" x2="337.90" y2="574.60"/>
<line x1="335.10" y1="593.47" x2="337.90" y2="593.47"/>
<line x1="340.71" y1="606.30" x2="340.71" y2="609.10"/>
<line x1="370.89" y1="606.30" x2="370.89" y2="609.10"/>
<line x1="401.08" y1="606.30" x2="401.08" y2="609.10"/>
</g>
<g font-family="Liberation Sans, sans-serif" font-size="7" fill="#4d4d4d" stroke="#4d4d4d" stroke-width="0.24">
<text x="333.10" y="539.36" text-anchor="end">20</text>
<text x="333.10" y="558.23" text-anchor="end">10</text>
<text x="333.10" y="577.10" text-anchor="end">0</text>
<text x="333.10" y="595.97" text-anchor="end">−10</text>
<text x="340.71" y="615.50" text-anchor="middle">0</text>
<text x="370.89" y="615.50" text-anchor="middle">250</text>
<text x="401.08" y="615.50" text-anchor="middle">500</text>
</g>
<text font-family="Liberation Sans, sans-serif" font-size="7.25" fill="#000" x="373.00" y="624.60" text-anchor="middle" stroke="#000" stroke-width="0.24">Days from Baseline</text>
<text font-family="Liberation Sans, sans-serif" font-size="7.15" fill="#000" x="319.00" y="567.90" text-anchor="middle" transform="rotate(-90 319.00 567.90)" stroke="#000" stroke-width="0.24">Methylation Age Change</text>
<rect x="443.80" y="529.50" width="69.30" height="76.80" fill="none" stroke="#888" stroke-width="0.75"/>
<g stroke="#666" stroke-width="0.7">
<line x1="441.00" y1="533.41" x2="443.80" y2="533.41"/>
<line x1="441.00" y1="550.81" x2="443.80" y2="550.81"/>
<line x1="441.00" y1="568.20" x2="443.80" y2="568.20"/>
<line x1="441.00" y1="585.60" x2="443.80" y2="585.60"/>
<line x1="441.00" y1="602.99" x2="443.80" y2="602.99"/>
<line x1="446.57" y1="606.30" x2="446.57" y2="609.10"/>
<line x1="476.37" y1="606.30" x2="476.37" y2="609.10"/>
<line x1="506.17" y1="606.30" x2="506.17" y2="609.10"/>
</g>
<g font-family="Liberation Sans, sans-serif" font-size="7" fill="#4d4d4d" stroke="#4d4d4d" stroke-width="0.24">
<text x="439.00" y="535.91" text-anchor="end">0.4</text>
<text x="439.00" y="553.31" text-anchor="end">0.2</text>
<text x="439.00" y="570.70" text-anchor="end">0.0</text>
<text x="439.00" y="588.10" text-anchor="end">−0.2</text>
<text x="439.00" y="605.49" text-anchor="end">−0.4</text>
<text x="446.57" y="615.50" text-anchor="middle">0</text>
<text x="476.37" y="615.50" text-anchor="middle">250</text>
<text x="506.17" y="615.50" text-anchor="middle">500</text>
</g>
<text font-family="Liberation Sans, sans-serif" font-size="7.25" fill="#000" x="478.45" y="624.60" text-anchor="middle" stroke="#000" stroke-width="0.24">Days from Baseline</text>
<text font-family="Liberation Sans, sans-serif" font-size="7.15" fill="#000" x="422.20" y="567.90" text-anchor="middle" transform="rotate(-90 422.20 567.90)" stroke="#000" stroke-width="0.24">Methylation Age Change</text>
<rect x="545.70" y="529.50" width="71.80" height="76.80" fill="none" stroke="#888" stroke-width="0.75"/>
<g stroke="#666" stroke-width="0.7">
<line x1="542.90" y1="532.69" x2="545.70" y2="532.69"/>
<line x1="542.90" y1="550.38" x2="545.70" y2="550.38"/>
<line x1="542.90" y1="568.08" x2="545.70" y2="568.08"/>
<line x1="542.90" y1="585.77" x2="545.70" y2="585.77"/>
<line x1="542.90" y1="603.47" x2="545.70" y2="603.47"/>
<line x1="548.57" y1="606.30" x2="548.57" y2="609.10"/>
<line x1="579.45" y1="606.30" x2="579.45" y2="609.10"/>
<line x1="610.32" y1="606.30" x2="610.32" y2="609.10"/>
</g>
<g font-family="Liberation Sans, sans-serif" font-size="7" fill="#4d4d4d" stroke="#4d4d4d" stroke-width="0.24">
<text x="540.90" y="535.19" text-anchor="end">10</text>
<text x="540.90" y="552.88" text-anchor="end">5</text>
<text x="540.90" y="570.58" text-anchor="end">0</text>
<text x="540.90" y="588.27" text-anchor="end">−5</text>
<text x="540.90" y="605.97" text-anchor="end">−10</text>
<text x="548.57" y="615.50" text-anchor="middle">0</text>
<text x="579.45" y="615.50" text-anchor="middle">250</text>
<text x="610.32" y="615.50" text-anchor="middle">500</text>
</g>
<text font-family="Liberation Sans, sans-serif" font-size="7.25" fill="#000" x="581.60" y="624.60" text-anchor="middle" stroke="#000" stroke-width="0.24">Days from Baseline</text>
<text font-family="Liberation Sans, sans-serif" font-size="7.15" fill="#000" x="526.80" y="567.90" text-anchor="middle" transform="rotate(-90 526.80 567.90)" stroke="#000" stroke-width="0.24">Methylation Age Change</text>
<rect x="25.40" y="633.50" width="71.00" height="76.80" fill="none" stroke="#888" stroke-width="0.75"/>
<g stroke="#666" stroke-width="0.7">
<line x1="22.60" y1="640.21" x2="25.40" y2="640.21"/>
<line x1="22.60" y1="656.98" x2="25.40" y2="656.98"/>
<line x1="22.60" y1="673.74" x2="25.40" y2="673.74"/>
<line x1="22.60" y1="690.51" x2="25.40" y2="690.51"/>
<line x1="22.60" y1="707.28" x2="25.40" y2="707.28"/>
<line x1="28.24" y1="710.30" x2="28.24" y2="713.10"/>
<line x1="58.77" y1="710.30" x2="58.77" y2="713.10"/>
<line x1="89.30" y1="710.30" x2="89.30" y2="713.10"/>
</g>
<g font-family="Liberation Sans, sans-serif" font-size="7" fill="#4d4d4d" stroke="#4d4d4d" stroke-width="0.24">
<text x="20.60" y="642.71" text-anchor="end">10</text>
<text x="20.60" y="659.48" text-anchor="end">5</text>
<text x="20.60" y="676.24" text-anchor="end">0</text>
<text x="20.60" y="693.01" text-anchor="end">−5</text>
<text x="20.60" y="709.78" text-anchor="end">−10</text>
<text x="28.24" y="719.50" text-anchor="middle">0</text>
<text x="58.77" y="719.50" text-anchor="middle">250</text>
<text x="89.30" y="719.50" text-anchor="middle">500</text>
</g>
<text font-family="Liberation Sans, sans-serif" font-size="7.25" fill="#000" x="60.90" y="728.60" text-anchor="middle" stroke="#000" stroke-width="0.24">Days from Baseline</text>
<text font-family="Liberation Sans, sans-serif" font-size="7.15" fill="#000" x="6.50" y="671.90" text-anchor="middle" transform="rotate(-90 6.50 671.90)" stroke="#000" stroke-width="0.24">Methylation Age Change</text>
<rect x="129.40" y="633.50" width="71.30" height="76.80" fill="none" stroke="#888" stroke-width="0.75"/>
<g stroke="#666" stroke-width="0.7">
<line x1="126.60" y1="643.97" x2="129.40" y2="643.97"/>
<line x1="126.60" y1="659.84" x2="129.40" y2="659.84"/>
<line x1="126.60" y1="675.71" x2="129.40" y2="675.71"/>
<line x1="126.60" y1="691.58" x2="129.40" y2="691.58"/>
<line x1="126.60" y1="707.44" x2="129.40" y2="707.44"/>
<line x1="132.25" y1="710.30" x2="132.25" y2="713.10"/>
<line x1="162.91" y1="710.30" x2="162.91" y2="713.10"/>
<line x1="193.57" y1="710.30" x2="193.57" y2="713.10"/>
</g>
<g font-family="Liberation Sans, sans-serif" font-size="7" fill="#4d4d4d" stroke="#4d4d4d" stroke-width="0.24">
<text x="124.60" y="646.47" text-anchor="end">10</text>
<text x="124.60" y="662.34" text-anchor="end">5</text>
<text x="124.60" y="678.21" text-anchor="end">0</text>
<text x="124.60" y="694.08" text-anchor="end">−5</text>
<text x="124.60" y="709.94" text-anchor="end">−10</text>
<text x="132.25" y="719.50" text-anchor="middle">0</text>
<text x="162.91" y="719.50" text-anchor="middle">250</text>
<text x="193.57" y="719.50" text-anchor="middle">500</text>
</g>
<text font-family="Liberation Sans, sans-serif" font-size="7.25" fill="#000" x="165.05" y="728.60" text-anchor="middle" stroke="#000" stroke-width="0.24">Days from Baseline</text>
<text font-family="Liberation Sans, sans-serif" font-size="7.15" fill="#000" x="110.50" y="671.90" text-anchor="middle" transform="rotate(-90 110.50 671.90)" stroke="#000" stroke-width="0.24">Methylation Age Change</text>
<rect x="233.50" y="633.50" width="71.10" height="76.80" fill="none" stroke="#888" stroke-width="0.75"/>
<g stroke="#666" stroke-width="0.7">
<line x1="230.70" y1="640.42" x2="233.50" y2="640.42"/>
<line x1="230.70" y1="657.14" x2="233.50" y2="657.14"/>
<line x1="230.70" y1="673.86" x2="233.50" y2="673.86"/>
<line x1="230.70" y1="690.57" x2="233.50" y2="690.57"/>
<line x1="230.70" y1="707.29" x2="233.50" y2="707.29"/>
<line x1="236.34" y1="710.30" x2="236.34" y2="713.10"/>
<line x1="266.92" y1="710.30" x2="266.92" y2="713.10"/>
<line x1="297.49" y1="710.30" x2="297.49" y2="713.10"/>
</g>
<g font-family="Liberation Sans, sans-serif" font-size="7" fill="#4d4d4d" stroke="#4d4d4d" stroke-width="0.24">
<text x="228.70" y="642.92" text-anchor="end">10</text>
<text x="228.70" y="659.64" text-anchor="end">5</text>
<text x="228.70" y="676.36" text-anchor="end">0</text>
<text x="228.70" y="693.07" text-anchor="end">−5</text>
<text x="228.70" y="709.79" text-anchor="end">−10</text>
<text x="236.34" y="719.50" text-anchor="middle">0</text>
<text x="266.92" y="719.50" text-anchor="middle">250</text>
<text x="297.49" y="719.50" text-anchor="middle">500</text>
</g>
<text font-family="Liberation Sans, sans-serif" font-size="7.25" fill="#000" x="269.05" y="728.60" text-anchor="middle" stroke="#000" stroke-width="0.24">Days from Baseline</text>
<text font-family="Liberation Sans, sans-serif" font-size="7.15" fill="#000" x="214.60" y="671.90" text-anchor="middle" transform="rotate(-90 214.60 671.90)" stroke="#000" stroke-width="0.24">Methylation Age Change</text>
<rect x="337.90" y="633.50" width="70.20" height="76.80" fill="none" stroke="#888" stroke-width="0.75"/>
<g stroke="#666" stroke-width="0.7">
<line x1="335.10" y1="640.86" x2="337.90" y2="640.86"/>
<line x1="335.10" y1="659.73" x2="337.90" y2="659.73"/>
<line x1="335.10" y1="678.60" x2="337.90" y2="678.60"/>
<line x1="335.10" y1="697.47" x2="337.90" y2="697.47"/>
<line x1="340.71" y1="710.30" x2="340.71" y2="713.10"/>
<line x1="370.89" y1="710.30" x2="370.89" y2="713.10"/>
<line x1="401.08" y1="710.30" x2="401.08" y2="713.10"/>
</g>
<g font-family="Liberation Sans, sans-serif" font-size="7" fill="#4d4d4d" stroke="#4d4d4d" stroke-width="0.24">
<text x="333.10" y="643.36" text-anchor="end">20</text>
<text x="333.10" y="662.23" text-anchor="end">10</text>
<text x="333.10" y="681.10" text-anchor="end">0</text>
<text x="333.10" y="699.97" text-anchor="end">−10</text>
<text x="340.71" y="719.50" text-anchor="middle">0</text>
<text x="370.89" y="719.50" text-anchor="middle">250</text>
<text x="401.08" y="719.50" text-anchor="middle">500</text>
</g>
<text font-family="Liberation Sans, sans-serif" font-size="7.25" fill="#000" x="373.00" y="728.60" text-anchor="middle" stroke="#000" stroke-width="0.24">Days from Baseline</text>
<text font-family="Liberation Sans, sans-serif" font-size="7.15" fill="#000" x="319.00" y="671.90" text-anchor="middle" transform="rotate(-90 319.00 671.90)" stroke="#000" stroke-width="0.24">Methylation Age Change</text>
<rect x="443.80" y="633.50" width="69.30" height="76.80" fill="none" stroke="#888" stroke-width="0.75"/>
<g stroke="#666" stroke-width="0.7">
<line x1="441.00" y1="637.41" x2="443.80" y2="637.41"/>
<line x1="441.00" y1="654.81" x2="443.80" y2="654.81"/>
<line x1="441.00" y1="672.20" x2="443.80" y2="672.20"/>
<line x1="441.00" y1="689.60" x2="443.80" y2="689.60"/>
<line x1="441.00" y1="706.99" x2="443.80" y2="706.99"/>
<line x1="446.57" y1="710.30" x2="446.57" y2="713.10"/>
<line x1="476.37" y1="710.30" x2="476.37" y2="713.10"/>
<line x1="506.17" y1="710.30" x2="506.17" y2="713.10"/>
</g>
<g font-family="Liberation Sans, sans-serif" font-size="7" fill="#4d4d4d" stroke="#4d4d4d" stroke-width="0.24">
<text x="439.00" y="639.91" text-anchor="end">0.4</text>
<text x="439.00" y="657.31" text-anchor="end">0.2</text>
<text x="439.00" y="674.70" text-anchor="end">0.0</text>
<text x="439.00" y="692.10" text-anchor="end">−0.2</text>
<text x="439.00" y="709.49" text-anchor="end">−0.4</text>
<text x="446.57" y="719.50" text-anchor="middle">0</text>
<text x="476.37" y="719.50" text-anchor="middle">250</text>
<text x="506.17" y="719.50" text-anchor="middle">500</text>
</g>
<text font-family="Liberation Sans, sans-serif" font-size="7.25" fill="#000" x="478.45" y="728.60" text-anchor="middle" stroke="#000" stroke-width="0.24">Days from Baseline</text>
<text font-family="Liberation Sans, sans-serif" font-size="7.15" fill="#000" x="422.20" y="671.90" text-anchor="middle" transform="rotate(-90 422.20 671.90)" stroke="#000" stroke-width="0.24">Methylation Age Change</text>
<rect x="545.70" y="633.50" width="71.80" height="76.80" fill="none" stroke="#888" stroke-width="0.75"/>
<g stroke="#666" stroke-width="0.7">
<line x1="542.90" y1="636.69" x2="545.70" y2="636.69"/>
<line x1="542.90" y1="654.38" x2="545.70" y2="654.38"/>
<line x1="542.90" y1="672.08" x2="545.70" y2="672.08"/>
<line x1="542.90" y1="689.77" x2="545.70" y2="689.77"/>
<line x1="542.90" y1="707.47" x2="545.70" y2="707.47"/>
<line x1="548.57" y1="710.30" x2="548.57" y2="713.10"/>
<line x1="579.45" y1="710.30" x2="579.45" y2="713.10"/>
<line x1="610.32" y1="710.30" x2="610.32" y2="713.10"/>
</g>
<g font-family="Liberation Sans, sans-serif" font-size="7" fill="#4d4d4d" stroke="#4d4d4d" stroke-width="0.24">
<text x="540.90" y="639.19" text-anchor="end">10</text>
<text x="540.90" y="656.88" text-anchor="end">5</text>
<text x="540.90" y="674.58" text-anchor="end">0</text>
<text x="540.90" y="692.27" text-anchor="end">−5</text>
<text x="540.90" y="709.97" text-anchor="end">−10</text>
<text x="548.57" y="719.50" text-anchor="middle">0</text>
<text x="579.45" y="719.50" text-anchor="middle">250</text>
<text x="610.32" y="719.50" text-anchor="middle">500</text>
</g>
<text font-family="Liberation Sans, sans-serif" font-size="7.25" fill="#000" x="581.60" y="728.60" text-anchor="middle" stroke="#000" stroke-width="0.24">Days from Baseline</text>
<text font-family="Liberation Sans, sans-serif" font-size="7.15" fill="#000" x="526.80" y="671.90" text-anchor="middle" transform="rotate(-90 526.80 671.90)" stroke="#000" stroke-width="0.24">Methylation Age Change</text>
<text font-family="Liberation Sans, sans-serif" font-size="9.6" font-weight="bold" fill="#000" x="654" y="359.80" text-anchor="middle" stroke="#000" stroke-width="0.24">Original</text>
<text font-family="Liberation Sans, sans-serif" font-size="9.6" font-weight="bold" fill="#000" x="654" y="463.80" text-anchor="middle" stroke="#000" stroke-width="0.24">PC Clock</text>
<text font-family="Liberation Sans, sans-serif" font-size="9.6" font-weight="bold" fill="#000" x="654" y="561.80" text-anchor="middle" stroke="#000" stroke-width="0.24">Original</text>
<text font-family="Liberation Sans, sans-serif" font-size="9.6" font-weight="bold" fill="#000" x="654" y="573.80" text-anchor="middle" stroke="#000" stroke-width="0.24">Cell-Adjusted</text>
<text font-family="Liberation Sans, sans-serif" font-size="9.6" font-weight="bold" fill="#000" x="654" y="665.80" text-anchor="middle" stroke="#000" stroke-width="0.24">PC Clock</text>
<text font-family="Liberation Sans, sans-serif" font-size="9.6" font-weight="bold" fill="#000" x="654" y="677.80" text-anchor="middle" stroke="#000" stroke-width="0.24">Cell-Adjusted</text>
<text font-family="Liberation Sans, sans-serif" font-size="9.5" font-weight="bold" fill="#000" x="62.15" y="749.70" text-anchor="middle" stroke="#000" stroke-width="0.24">Horvath1</text>
<g stroke="#f4f4f4" stroke-width="0.5">
<line x1="38.08" y1="759.3" x2="38.08" y2="828.7"/>
<line x1="63.55" y1="759.3" x2="63.55" y2="828.7"/>
<line x1="89.02" y1="759.3" x2="89.02" y2="828.7"/>
<line x1="25.35" y1="774.90" x2="101.75" y2="774.90"/>
<line x1="25.35" y1="794.10" x2="101.75" y2="794.10"/>
<line x1="25.35" y1="813.32" x2="101.75" y2="813.32"/>
</g><g stroke="#ebebeb" stroke-width="0.6">
<line x1="50.82" y1="759.3" x2="50.82" y2="828.7"/>
<line x1="76.28" y1="759.3" x2="76.28" y2="828.7"/>
<line x1="25.35" y1="765.30" x2="101.75" y2="765.30"/>
<line x1="25.35" y1="784.50" x2="101.75" y2="784.50"/>
<line x1="25.35" y1="803.70" x2="101.75" y2="803.70"/>
<line x1="25.35" y1="822.90" x2="101.75" y2="822.90"/>
</g>
<svg x="25.35" y="759.30" width="76.40" height="69.40" viewBox="25.35 759.30 76.40 69.40" overflow="hidden">
<polyline points="25.4,764.4 26.4,765.4 26.4,765.5 26.9,765.9 26.9,766.0 27.5,766.5 27.5,766.7 28.2,767.3 28.4,767.4 29.4,768.5 29.7,768.6 29.8,768.9 30.1,769.0 30.2,769.2 31.2,770.0 31.2,770.2 31.6,770.3 31.8,770.7 32.4,771.0 32.4,771.1 32.7,771.3 32.7,771.5 33.4,771.8 33.4,772.0 34.4,772.7 34.4,772.8 35.9,774.0 36.2,774.0 37.1,774.9 37.3,774.9 37.8,775.5 38.1,775.5 38.8,776.2 39.1,776.2 39.4,776.5 39.6,776.5 40.1,777.1 40.4,777.1 40.5,777.3 40.8,777.3 41.3,777.9 41.8,778.0 41.9,778.3 42.4,778.4 42.5,778.7 42.8,778.7 43.0,779.0 43.3,779.0 43.3,779.1 43.6,779.1 43.6,779.3 43.8,779.3 43.8,779.4 44.1,779.4 44.5,779.9 44.8,779.9 44.8,780.1 45.1,780.1 45.1,780.2 45.3,780.2 45.3,780.4 45.6,780.4 45.6,780.6 45.9,780.6 45.9,780.7 46.1,780.7 46.1,780.9 46.5,780.9 46.5,781.1 46.7,781.1 46.7,781.3 47.0,781.3 47.0,781.4 47.4,781.4 47.4,781.6 47.6,781.6 47.6,781.8 48.0,781.8 48.0,782.0 48.3,782.0 48.3,782.2 48.7,782.2 48.7,782.3 48.9,782.3 48.9,782.5 49.3,782.5 49.3,782.7 49.7,782.7 49.7,782.9 50.1,782.9 50.1,783.1 50.4,783.1 50.4,783.3 50.7,783.3 50.7,783.5 51.1,783.5 51.1,783.7 51.6,783.7 51.6,784.0 52.0,784.0 52.0,784.2 52.3,784.2 52.3,784.4 52.7,784.4 52.7,784.6 53.2,784.6 53.2,784.8 53.6,784.8 53.6,785.1 54.1,785.1 54.1,785.3 54.5,785.3 54.5,785.5 55.0,785.5 55.0,785.8 55.5,785.8 55.5,786.0 56.0,786.0 56.0,786.3 56.5,786.3 56.5,786.5 57.1,786.5 57.1,786.8 57.7,786.8 57.7,787.0 58.2,787.0 58.2,787.3 58.8,787.3 58.8,787.6 59.3,787.6 59.3,787.9 60.0,787.9 60.0,788.2 60.6,788.2 60.6,788.4 61.3,788.4 61.3,788.7 62.0,788.7 62.0,789.0 62.7,789.0 62.7,789.4 63.4,789.4 63.4,789.7 64.2,789.7 64.2,790.0 65.0,790.0 65.0,790.3 65.7,790.3 65.7,790.7 66.6,790.7 66.6,791.0 67.5,791.0 67.5,791.4 68.4,791.4 68.4,791.8 69.3,791.8 69.3,792.1 70.3,792.1 70.3,792.5 71.3,792.5 71.3,792.9 72.5,792.9 72.5,793.3 73.6,793.3 73.6,793.8 74.8,793.8 74.8,794.2 76.0,794.2 76.0,794.7 77.3,794.7 77.3,795.1 78.7,795.1 78.7,795.6 80.1,795.6 80.1,796.1 81.6,796.1 81.6,796.6 83.3,796.6 83.3,797.2 85.1,797.2 85.1,797.8 86.9,797.8 86.9,798.3 88.9,798.3 88.9,799.0 90.9,799.0 90.9,799.6 93.2,799.6 93.2,800.3 95.8,800.3 95.8,801.0 98.3,801.0 98.3,801.7 101.2,801.7 101.2,802.5 101.8,802.5" fill="none" stroke="#bebebe" stroke-width="1.9"/>
<polyline points="25.4,775.6 27.5,777.7 28.3,778.7 28.5,778.7 28.9,779.3 29.2,779.3 29.4,779.8 29.7,779.8 29.9,780.2 30.2,780.2 30.3,780.6 30.6,780.6 30.7,780.9 31.0,780.9 31.1,781.3 31.3,781.3 31.5,781.6 32.0,781.8 32.1,782.2 32.6,782.3 32.6,782.5 32.9,782.5 33.0,782.9 33.2,782.9 33.2,783.1 33.5,783.1 33.5,783.3 33.8,783.3 33.8,783.5 34.0,783.5 34.0,783.7 34.3,783.7 34.3,784.0 34.5,784.0 34.5,784.2 34.8,784.2 34.8,784.4 35.2,784.4 35.2,784.6 35.4,784.6 35.4,784.8 35.7,784.8 35.7,785.1 36.0,785.1 36.0,785.3 36.3,785.3 36.3,785.5 36.7,785.5 36.7,785.8 36.9,785.8 36.9,786.0 37.3,786.0 37.3,786.3 37.6,786.3 37.6,786.5 38.0,786.5 38.0,786.8 38.3,786.8 38.3,787.0 38.7,787.0 38.7,787.3 39.1,787.3 39.1,787.6 39.5,787.6 39.5,787.9 40.0,787.9 40.0,788.2 40.4,788.2 40.4,788.4 40.8,788.4 40.8,788.7 41.3,788.7 41.3,789.0 41.8,789.0 41.8,789.4 42.2,789.4 42.2,789.7 42.7,789.7 42.7,790.0 43.2,790.0 43.2,790.3 43.8,790.3 43.8,790.7 44.3,790.7 44.3,791.0 45.0,791.0 45.0,791.4 45.5,791.4 45.5,791.8 46.1,791.8 46.1,792.1 46.9,792.1 46.9,792.5 47.5,792.5 47.5,792.9 48.3,792.9 48.3,793.3 48.9,793.3 48.9,793.8 49.8,793.8 49.8,794.2 50.6,794.2 50.6,794.7 51.5,794.7 51.5,795.1 52.3,795.1 52.3,795.6 53.4,795.6 53.4,796.1 54.4,796.1 54.4,796.6 55.4,796.6 55.4,797.2 56.7,797.2 56.7,797.8 57.8,797.8 57.8,798.3 59.1,798.3 59.1,799.0 60.6,799.0 60.6,799.6 62.0,799.6 62.0,800.3 63.7,800.3 63.7,801.0 65.5,801.0 65.5,801.7 67.4,801.7 67.4,802.5 69.5,802.5 69.5,803.4 71.8,803.4 71.8,804.3 74.4,804.3 74.4,805.2 77.2,805.2 77.2,806.2 80.5,806.2 80.5,807.4 84.1,807.4 84.1,808.6 88.3,808.6 88.3,809.9 93.1,809.9 93.1,811.3 98.9,811.3 98.9,813.0 101.8,813.0" fill="none" stroke="#4682b4" stroke-width="1.9"/>
<polyline points="25.4,783.7 25.5,783.7 25.5,784.0 25.7,784.0 25.9,784.4 26.1,784.4 26.2,784.8 26.5,784.8 26.5,785.1 26.8,785.1 26.8,785.3 27.0,785.3 27.0,785.5 27.3,785.5 27.3,785.8 27.5,785.8 27.6,786.3 27.9,786.3 27.9,786.5 28.3,786.5 28.3,786.8 28.5,786.8 28.5,787.0 28.8,787.0 28.8,787.3 29.0,787.3 29.0,787.6 29.3,787.6 29.3,787.9 29.7,787.9 29.7,788.2 29.9,788.2 29.9,788.4 30.3,788.4 30.3,788.7 30.7,788.7 30.7,789.0 31.0,789.0 31.0,789.4 31.3,789.4 31.3,789.7 31.7,789.7 31.7,790.0 32.1,790.0 32.1,790.3 32.5,790.3 32.5,790.7 33.0,790.7 33.0,791.0 33.4,791.0 33.4,791.4 33.8,791.4 33.8,791.8 34.3,791.8 34.3,792.1 34.8,792.1 34.8,792.5 35.3,792.5 35.3,792.9 35.8,792.9 35.8,793.3 36.4,793.3 36.4,793.8 36.9,793.8 36.9,794.2 37.6,794.2 37.6,794.7 38.2,794.7 38.2,795.1 39.0,795.1 39.0,795.6 39.6,795.6 39.6,796.1 40.4,796.1 40.4,796.6 41.3,796.6 41.3,797.2 42.0,797.2 42.0,797.8 42.9,797.8 42.9,798.3 43.9,798.3 43.9,799.0 45.0,799.0 45.0,799.6 46.1,799.6 46.1,800.3 47.4,800.3 47.4,801.0 48.7,801.0 48.7,801.7 50.1,801.7 50.1,802.5 51.6,802.5 51.6,803.4 53.4,803.4 53.4,804.3 55.3,804.3 55.3,805.2 57.4,805.2 57.4,806.2 59.7,806.2 59.7,807.4 62.4,807.4 62.4,808.6 65.6,808.6 65.6,809.9 69.2,809.9 69.2,811.3 73.5,811.3 73.5,813.0 78.7,813.0 78.7,814.8 85.2,814.8 85.2,817.0 93.7,817.0 93.7,819.5 101.8,819.5" fill="none" stroke="#dd1c1c" stroke-width="1.9"/>
</svg>
<rect x="25.35" y="759.3" width="76.40" height="69.40" fill="none" stroke="#bdbdbd" stroke-width="0.6"/>
<g stroke="#9a9a9a" stroke-width="0.5">
<line x1="23.95" y1="765.30" x2="25.35" y2="765.30"/>
<line x1="23.95" y1="784.50" x2="25.35" y2="784.50"/>
<line x1="23.95" y1="803.70" x2="25.35" y2="803.70"/>
<line x1="23.95" y1="822.90" x2="25.35" y2="822.90"/>
<line x1="25.35" y1="828.70" x2="25.35" y2="830.10"/>
<line x1="50.82" y1="828.70" x2="50.82" y2="830.10"/>
<line x1="76.28" y1="828.70" x2="76.28" y2="830.10"/>
<line x1="101.75" y1="828.70" x2="101.75" y2="830.10"/>
</g>
<g font-family="Liberation Sans, sans-serif" font-size="7" fill="#4d4d4d" stroke="#4d4d4d" stroke-width="0.24">
<text x="23.45" y="767.80" text-anchor="end">500</text>
<text x="23.45" y="787.00" text-anchor="end">125</text>
<text x="23.45" y="806.20" text-anchor="end">32</text>
<text x="23.45" y="825.40" text-anchor="end">8</text>
<text x="25.35" y="836.00" text-anchor="middle">0.5</text>
<text x="50.82" y="836.00" text-anchor="middle">1.0</text>
<text x="76.28" y="836.00" text-anchor="middle">1.5</text>
<text x="101.75" y="836.00" text-anchor="middle">2.0</text>
</g>
<text font-family="Liberation Sans, sans-serif" font-size="9.2" fill="#000" x="63.55" y="845.20" text-anchor="middle" stroke="#000" stroke-width="0.24">Effect Size (Years)</text>
<text font-family="Liberation Sans, sans-serif" font-size="9.2" fill="#000" x="8.25" y="794.00" text-anchor="middle" transform="rotate(-90 8.25 794.00)" stroke="#000" stroke-width="0.24">Sample Size</text>
<text font-family="Liberation Sans, sans-serif" font-size="9.5" font-weight="bold" fill="#000" x="172.80" y="749.70" text-anchor="middle" stroke="#000" stroke-width="0.24">Horvath2</text>
<g stroke="#f4f4f4" stroke-width="0.5">
<line x1="148.73" y1="759.3" x2="148.73" y2="828.7"/>
<line x1="174.20" y1="759.3" x2="174.20" y2="828.7"/>
<line x1="199.67" y1="759.3" x2="199.67" y2="828.7"/>
<line x1="136.00" y1="774.90" x2="212.40" y2="774.90"/>
<line x1="136.00" y1="794.10" x2="212.40" y2="794.10"/>
<line x1="136.00" y1="813.32" x2="212.40" y2="813.32"/>
</g><g stroke="#ebebeb" stroke-width="0.6">
<line x1="161.47" y1="759.3" x2="161.47" y2="828.7"/>
<line x1="186.93" y1="759.3" x2="186.93" y2="828.7"/>
<line x1="136.00" y1="765.30" x2="212.40" y2="765.30"/>
<line x1="136.00" y1="784.50" x2="212.40" y2="784.50"/>
<line x1="136.00" y1="803.70" x2="212.40" y2="803.70"/>
<line x1="136.00" y1="822.90" x2="212.40" y2="822.90"/>
</g>
<svg x="136.00" y="759.30" width="76.40" height="69.40" viewBox="136.00 759.30 76.40 69.40" overflow="hidden">
<polyline points="136.0,775.1 138.5,777.9 138.8,777.9 139.6,778.8 139.8,778.8 140.2,779.4 140.5,779.4 140.7,779.9 141.0,779.9 141.1,780.2 141.3,780.2 141.5,780.6 141.7,780.6 141.9,780.9 142.1,780.9 142.2,781.3 142.5,781.3 142.6,781.6 142.9,781.6 142.9,781.8 143.1,781.8 143.1,782.0 143.4,782.0 143.5,782.3 143.8,782.3 143.8,782.5 144.0,782.5 144.0,782.7 144.3,782.7 144.3,782.9 144.5,782.9 144.5,783.1 144.8,783.1 144.8,783.3 145.0,783.3 145.0,783.5 145.3,783.5 145.3,783.7 145.6,783.7 145.6,784.0 145.8,784.0 145.8,784.2 146.1,784.2 146.1,784.4 146.3,784.4 146.3,784.6 146.7,784.6 146.7,784.8 147.0,784.8 147.0,785.1 147.2,785.1 147.2,785.3 147.6,785.3 147.6,785.5 147.8,785.5 147.8,785.8 148.2,785.8 148.2,786.0 148.6,786.0 148.6,786.3 149.0,786.3 149.0,786.5 149.2,786.5 149.2,786.8 149.6,786.8 149.6,787.0 150.0,787.0 150.0,787.3 150.4,787.3 150.4,787.6 150.9,787.6 150.9,787.9 151.3,787.9 151.3,788.2 151.7,788.2 151.7,788.4 152.2,788.4 152.2,788.7 152.6,788.7 152.6,789.0 153.1,789.0 153.1,789.4 153.6,789.4 153.6,789.7 154.1,789.7 154.1,790.0 154.6,790.0 154.6,790.3 155.1,790.3 155.1,790.7 155.7,790.7 155.7,791.0 156.4,791.0 156.4,791.4 156.9,791.4 156.9,791.8 157.6,791.8 157.6,792.1 158.3,792.1 158.3,792.5 158.9,792.5 158.9,792.9 159.7,792.9 159.7,793.3 160.4,793.3 160.4,793.8 161.2,793.8 161.2,794.2 162.1,794.2 162.1,794.7 163.0,794.7 163.0,795.1 163.9,795.1 163.9,795.6 164.9,795.6 164.9,796.1 165.9,796.1 165.9,796.6 167.1,796.6 167.1,797.2 168.2,797.2 168.2,797.8 169.5,797.8 169.5,798.3 170.8,798.3 170.8,799.0 172.3,799.0 172.3,799.6 173.8,799.6 173.8,800.3 175.5,800.3 175.5,801.0 177.3,801.0 177.3,801.7 179.2,801.7 179.2,802.5 181.3,802.5 181.3,803.4 183.6,803.4 183.6,804.3 186.3,804.3 186.3,805.2 189.2,805.2 189.2,806.2 192.4,806.2 192.4,807.4 196.1,807.4 196.1,808.6 200.4,808.6 200.4,809.9 205.4,809.9 205.4,811.3 211.3,811.3 211.3,813.0 212.4,813.0" fill="none" stroke="#bebebe" stroke-width="1.9"/>
<polyline points="136.0,772.5 136.3,772.6 136.5,773.0 137.3,773.6 137.3,773.8 137.8,774.1 137.8,774.4 138.4,774.8 138.4,775.0 139.8,776.2 140.8,777.3 141.1,777.3 141.6,778.0 141.9,778.0 142.2,778.6 142.5,778.6 142.7,779.0 143.0,779.0 143.1,779.3 143.4,779.3 143.6,779.8 144.1,779.9 144.3,780.2 144.5,780.2 144.7,780.6 145.2,780.7 145.3,781.1 145.8,781.3 145.9,781.6 146.4,781.8 146.4,782.0 146.7,782.0 146.7,782.2 147.0,782.2 147.0,782.3 147.2,782.3 147.2,782.5 147.5,782.5 147.5,782.7 147.7,782.7 147.7,782.9 148.0,782.9 148.0,783.1 148.2,783.1 148.2,783.3 148.6,783.3 148.6,783.5 148.9,783.5 148.9,783.7 149.1,783.7 149.1,784.0 149.5,784.0 149.5,784.2 149.8,784.2 149.8,784.4 150.0,784.4 150.0,784.6 150.4,784.6 150.4,784.8 150.8,784.8 150.8,785.1 151.0,785.1 151.0,785.3 151.4,785.3 151.4,785.5 151.8,785.5 151.8,785.8 152.2,785.8 152.2,786.0 152.6,786.0 152.6,786.3 152.9,786.3 152.9,786.5 153.3,786.5 153.3,786.8 153.7,786.8 153.7,787.0 154.1,787.0 154.1,787.3 154.6,787.3 154.6,787.6 155.0,787.6 155.0,787.9 155.5,787.9 155.5,788.2 156.0,788.2 156.0,788.4 156.4,788.4 156.4,788.7 156.9,788.7 156.9,789.0 157.5,789.0 157.5,789.4 158.0,789.4 158.0,789.7 158.5,789.7 158.5,790.0 159.2,790.0 159.2,790.3 159.8,790.3 159.8,790.7 160.4,790.7 160.4,791.0 161.1,791.0 161.1,791.4 161.7,791.4 161.7,791.8 162.5,791.8 162.5,792.1 163.1,792.1 163.1,792.5 164.0,792.5 164.0,792.9 164.8,792.9 164.8,793.3 165.7,793.3 165.7,793.8 166.4,793.8 166.4,794.2 167.5,794.2 167.5,794.7 168.3,794.7 168.3,795.1 169.5,795.1 169.5,795.6 170.5,795.6 170.5,796.1 171.7,796.1 171.7,796.6 172.9,796.6 172.9,797.2 174.2,797.2 174.2,797.8 175.6,797.8 175.6,798.3 177.0,798.3 177.0,799.0 178.7,799.0 178.7,799.6 180.3,799.6 180.3,800.3 182.1,800.3 182.1,801.0 184.1,801.0 184.1,801.7 186.3,801.7 186.3,802.5 188.6,802.5 188.6,803.4 191.3,803.4 191.3,804.3 194.1,804.3 194.1,805.2 197.2,805.2 197.2,806.2 200.9,806.2 200.9,807.4 205.0,807.4 205.0,808.6 209.7,808.6 209.7,809.9 212.4,809.9" fill="none" stroke="#4682b4" stroke-width="1.9"/>
<polyline points="136.0,784.2 136.1,784.2 136.1,784.4 136.4,784.4 136.5,784.8 136.8,784.8 136.8,785.1 137.0,785.1 137.0,785.3 137.3,785.3 137.4,785.8 137.7,785.8 137.7,786.0 137.9,786.0 137.9,786.3 138.2,786.3 138.2,786.5 138.4,786.5 138.4,786.8 138.7,786.8 138.7,787.0 139.1,787.0 139.1,787.3 139.3,787.3 139.3,787.6 139.6,787.6 139.6,787.9 139.8,787.9 139.8,788.2 140.2,788.2 140.2,788.4 140.5,788.4 140.5,788.7 140.8,788.7 140.8,789.0 141.2,789.0 141.2,789.4 141.6,789.4 141.6,789.7 141.9,789.7 141.9,790.0 142.2,790.0 142.2,790.3 142.7,790.3 142.7,790.7 143.1,790.7 143.1,791.0 143.5,791.0 143.5,791.4 144.0,791.4 144.0,791.8 144.4,791.8 144.4,792.1 144.9,792.1 144.9,792.5 145.4,792.5 145.4,792.9 145.9,792.9 145.9,793.3 146.4,793.3 146.4,793.8 147.1,793.8 147.1,794.2 147.7,794.2 147.7,794.7 148.4,794.7 148.4,795.1 149.0,795.1 149.0,795.6 149.8,795.6 149.8,796.1 150.5,796.1 150.5,796.6 151.3,796.6 151.3,797.2 152.0,797.2 152.0,797.8 153.1,797.8 153.1,798.3 154.0,798.3 154.0,799.0 155.0,799.0 155.0,799.6 156.1,799.6 156.1,800.3 157.3,800.3 157.3,801.0 158.5,801.0 158.5,801.7 159.9,801.7 159.9,802.5 161.6,802.5 161.6,803.4 163.2,803.4 163.2,804.3 165.2,804.3 165.2,805.2 167.2,805.2 167.2,806.2 169.5,806.2 169.5,807.4 172.2,807.4 172.2,808.6 175.2,808.6 175.2,809.9 178.9,809.9 178.9,811.3 183.1,811.3 183.1,813.0 188.2,813.0 188.2,814.8 194.7,814.8 194.7,817.0 203.0,817.0 203.0,819.5 212.4,819.5" fill="none" stroke="#dd1c1c" stroke-width="1.9"/>
</svg>
<rect x="136.00" y="759.3" width="76.40" height="69.40" fill="none" stroke="#bdbdbd" stroke-width="0.6"/>
<g stroke="#9a9a9a" stroke-width="0.5">
<line x1="134.60" y1="765.30" x2="136.00" y2="765.30"/>
<line x1="134.60" y1="784.50" x2="136.00" y2="784.50"/>
<line x1="134.60" y1="803.70" x2="136.00" y2="803.70"/>
<line x1="134.60" y1="822.90" x2="136.00" y2="822.90"/>
<line x1="136.00" y1="828.70" x2="136.00" y2="830.10"/>
<line x1="161.47" y1="828.70" x2="161.47" y2="830.10"/>
<line x1="186.93" y1="828.70" x2="186.93" y2="830.10"/>
<line x1="212.40" y1="828.70" x2="212.40" y2="830.10"/>
</g>
<g font-family="Liberation Sans, sans-serif" font-size="7" fill="#4d4d4d" stroke="#4d4d4d" stroke-width="0.24">
<text x="134.10" y="767.80" text-anchor="end">500</text>
<text x="134.10" y="787.00" text-anchor="end">125</text>
<text x="134.10" y="806.20" text-anchor="end">32</text>
<text x="134.10" y="825.40" text-anchor="end">8</text>
<text x="136.00" y="836.00" text-anchor="middle">0.5</text>
<text x="161.47" y="836.00" text-anchor="middle">1.0</text>
<text x="186.93" y="836.00" text-anchor="middle">1.5</text>
<text x="212.40" y="836.00" text-anchor="middle">2.0</text>
</g>
<text font-family="Liberation Sans, sans-serif" font-size="9.2" fill="#000" x="174.20" y="845.20" text-anchor="middle" stroke="#000" stroke-width="0.24">Effect Size (Years)</text>
<text font-family="Liberation Sans, sans-serif" font-size="9.2" fill="#000" x="118.90" y="794.00" text-anchor="middle" transform="rotate(-90 118.90 794.00)" stroke="#000" stroke-width="0.24">Sample Size</text>
<text font-family="Liberation Sans, sans-serif" font-size="9.5" font-weight="bold" fill="#000" x="283.45" y="749.70" text-anchor="middle" stroke="#000" stroke-width="0.24">Hannum</text>
<g stroke="#f4f4f4" stroke-width="0.5">
<line x1="259.38" y1="759.3" x2="259.38" y2="828.7"/>
<line x1="284.85" y1="759.3" x2="284.85" y2="828.7"/>
<line x1="310.32" y1="759.3" x2="310.32" y2="828.7"/>
<line x1="246.65" y1="774.90" x2="323.05" y2="774.90"/>
<line x1="246.65" y1="794.10" x2="323.05" y2="794.10"/>
<line x1="246.65" y1="813.32" x2="323.05" y2="813.32"/>
</g><g stroke="#ebebeb" stroke-width="0.6">
<line x1="272.12" y1="759.3" x2="272.12" y2="828.7"/>
<line x1="297.58" y1="759.3" x2="297.58" y2="828.7"/>
<line x1="246.65" y1="765.30" x2="323.05" y2="765.30"/>
<line x1="246.65" y1="784.50" x2="323.05" y2="784.50"/>
<line x1="246.65" y1="803.70" x2="323.05" y2="803.70"/>
<line x1="246.65" y1="822.90" x2="323.05" y2="822.90"/>
</g>
<svg x="246.65" y="759.30" width="76.40" height="69.40" viewBox="246.65 759.30 76.40 69.40" overflow="hidden">
<polyline points="246.7,771.4 247.4,772.0 247.7,772.5 247.9,772.6 247.9,772.7 248.3,772.9 248.3,773.1 248.7,773.3 248.7,773.5 249.2,773.8 249.2,774.0 250.0,774.6 250.0,774.8 251.2,775.8 252.1,776.8 252.4,776.8 253.0,777.6 253.3,777.6 253.7,778.1 253.9,778.1 254.5,778.8 254.8,778.8 255.1,779.3 255.3,779.3 255.4,779.6 255.9,779.8 256.1,780.1 256.3,780.1 256.5,780.4 257.0,780.6 257.1,780.9 257.3,780.9 257.3,781.1 257.6,781.1 257.6,781.3 257.9,781.3 257.9,781.4 258.1,781.4 258.1,781.6 258.4,781.6 258.4,781.8 258.6,781.8 258.6,782.0 258.9,782.0 258.9,782.2 259.1,782.2 259.1,782.3 259.4,782.3 259.4,782.5 259.6,782.5 259.6,782.7 259.9,782.7 259.9,782.9 260.1,782.9 260.1,783.1 260.4,783.1 260.4,783.3 260.8,783.3 260.8,783.5 261.0,783.5 261.0,783.7 261.3,783.7 261.3,784.0 261.7,784.0 261.7,784.2 261.9,784.2 261.9,784.4 262.3,784.4 262.3,784.6 262.7,784.6 262.7,784.8 262.9,784.8 262.9,785.1 263.3,785.1 263.3,785.3 263.7,785.3 263.7,785.5 264.1,785.5 264.1,785.8 264.5,785.8 264.5,786.0 264.9,786.0 264.9,786.3 265.2,786.3 265.2,786.5 265.6,786.5 265.6,786.8 266.1,786.8 266.1,787.0 266.5,787.0 266.5,787.3 267.0,787.3 267.0,787.6 267.4,787.6 267.4,787.9 267.9,787.9 267.9,788.2 268.4,788.2 268.4,788.4 268.9,788.4 268.9,788.7 269.4,788.7 269.4,789.0 270.0,789.0 270.0,789.4 270.6,789.4 270.6,789.7 271.1,789.7 271.1,790.0 271.7,790.0 271.7,790.3 272.4,790.3 272.4,790.7 273.0,790.7 273.0,791.0 273.8,791.0 273.8,791.4 274.4,791.4 274.4,791.8 275.2,791.8 275.2,792.1 275.9,792.1 275.9,792.5 276.7,792.5 276.7,792.9 277.6,792.9 277.6,793.3 278.5,793.3 278.5,793.8 279.4,793.8 279.4,794.2 280.4,794.2 280.4,794.7 281.4,794.7 281.4,795.1 282.4,795.1 282.4,795.6 283.6,795.6 283.6,796.1 284.7,796.1 284.7,796.6 286.0,796.6 286.0,797.2 287.4,797.2 287.4,797.8 288.8,797.8 288.8,798.3 290.3,798.3 290.3,799.0 292.0,799.0 292.0,799.6 293.8,799.6 293.8,800.3 295.7,800.3 295.7,801.0 297.7,801.0 297.7,801.7 300.0,801.7 300.0,802.5 302.4,802.5 302.4,803.4 305.1,803.4 305.1,804.3 308.2,804.3 308.2,805.2 311.5,805.2 311.5,806.2 315.2,806.2 315.2,807.4 319.5,807.4 319.5,808.6 323.1,808.6" fill="none" stroke="#bebebe" stroke-width="1.9"/>
<polyline points="246.7,776.4 247.9,777.6 248.8,778.7 249.1,778.7 249.6,779.4 249.8,779.4 250.1,779.9 250.3,779.9 250.6,780.4 250.9,780.4 251.0,780.7 251.2,780.7 251.4,781.1 251.6,781.1 251.7,781.4 252.0,781.4 252.1,781.8 252.4,781.8 252.5,782.2 252.8,782.2 252.8,782.3 253.0,782.3 253.0,782.5 253.3,782.5 253.4,782.9 253.7,782.9 253.7,783.1 253.9,783.1 253.9,783.3 254.2,783.3 254.2,783.5 254.4,783.5 254.4,783.7 254.7,783.7 254.7,784.0 254.9,784.0 254.9,784.2 255.2,784.2 255.2,784.4 255.4,784.4 255.4,784.6 255.7,784.6 255.7,784.8 256.1,784.8 256.1,785.1 256.3,785.1 256.3,785.3 256.6,785.3 256.6,785.5 257.0,785.5 257.0,785.8 257.2,785.8 257.2,786.0 257.6,786.0 257.6,786.3 258.0,786.3 258.0,786.5 258.2,786.5 258.2,786.8 258.6,786.8 258.6,787.0 259.0,787.0 259.0,787.3 259.4,787.3 259.4,787.6 259.8,787.6 259.8,787.9 260.1,787.9 260.1,788.2 260.5,788.2 260.5,788.4 261.0,788.4 261.0,788.7 261.4,788.7 261.4,789.0 261.9,789.0 261.9,789.4 262.3,789.4 262.3,789.7 262.8,789.7 262.8,790.0 263.3,790.0 263.3,790.3 263.8,790.3 263.8,790.7 264.5,790.7 264.5,791.0 265.0,791.0 265.0,791.4 265.6,791.4 265.6,791.8 266.3,791.8 266.3,792.1 266.9,792.1 266.9,792.5 267.5,792.5 267.5,792.9 268.2,792.9 268.2,793.3 268.9,793.3 268.9,793.8 269.7,793.8 269.7,794.2 270.6,794.2 270.6,794.7 271.4,794.7 271.4,795.1 272.2,795.1 272.2,795.6 273.3,795.6 273.3,796.1 274.2,796.1 274.2,796.6 275.3,796.6 275.3,797.2 276.4,797.2 276.4,797.8 277.6,797.8 277.6,798.3 278.9,798.3 278.9,799.0 280.3,799.0 280.3,799.6 281.7,799.6 281.7,800.3 283.3,800.3 283.3,801.0 285.0,801.0 285.0,801.7 286.9,801.7 286.9,802.5 288.9,802.5 288.9,803.4 291.2,803.4 291.2,804.3 293.6,804.3 293.6,805.2 296.4,805.2 296.4,806.2 299.6,806.2 299.6,807.4 303.1,807.4 303.1,808.6 307.1,808.6 307.1,809.9 312.0,809.9 312.0,811.3 317.6,811.3 317.6,813.0 323.1,813.0" fill="none" stroke="#4682b4" stroke-width="1.9"/>
<polyline points="246.7,783.7 246.8,783.7 246.8,784.0 247.0,784.0 247.2,784.4 247.4,784.4 247.5,784.8 247.8,784.8 247.8,785.1 248.1,785.1 248.1,785.3 248.3,785.3 248.3,785.5 248.6,785.5 248.6,785.8 248.8,785.8 248.9,786.3 249.2,786.3 249.2,786.5 249.6,786.5 249.6,786.8 249.8,786.8 249.8,787.0 250.1,787.0 250.1,787.3 250.3,787.3 250.3,787.6 250.6,787.6 250.6,787.9 251.0,787.9 251.0,788.2 251.2,788.2 251.2,788.4 251.6,788.4 251.6,788.7 252.0,788.7 252.0,789.0 252.3,789.0 252.3,789.4 252.6,789.4 252.6,789.7 253.0,789.7 253.0,790.0 253.4,790.0 253.4,790.3 253.8,790.3 253.8,790.7 254.3,790.7 254.3,791.0 254.7,791.0 254.7,791.4 255.1,791.4 255.1,791.8 255.6,791.8 255.6,792.1 256.1,792.1 256.1,792.5 256.6,792.5 256.6,792.9 257.1,792.9 257.1,793.3 257.7,793.3 257.7,793.8 258.2,793.8 258.2,794.2 258.9,794.2 258.9,794.7 259.5,794.7 259.5,795.1 260.3,795.1 260.3,795.6 260.9,795.6 260.9,796.1 261.7,796.1 261.7,796.6 262.6,796.6 262.6,797.2 263.3,797.2 263.3,797.8 264.2,797.8 264.2,798.3 265.2,798.3 265.2,799.0 266.3,799.0 266.3,799.6 267.4,799.6 267.4,800.3 268.7,800.3 268.7,801.0 270.0,801.0 270.0,801.7 271.4,801.7 271.4,802.5 272.9,802.5 272.9,803.4 274.7,803.4 274.7,804.3 276.6,804.3 276.6,805.2 278.7,805.2 278.7,806.2 281.0,806.2 281.0,807.4 283.7,807.4 283.7,808.6 286.9,808.6 286.9,809.9 290.5,809.9 290.5,811.3 294.8,811.3 294.8,813.0 300.0,813.0 300.0,814.8 306.5,814.8 306.5,817.0 315.0,817.0 315.0,819.5 323.1,819.5" fill="none" stroke="#dd1c1c" stroke-width="1.9"/>
</svg>
<rect x="246.65" y="759.3" width="76.40" height="69.40" fill="none" stroke="#bdbdbd" stroke-width="0.6"/>
<g stroke="#9a9a9a" stroke-width="0.5">
<line x1="245.25" y1="765.30" x2="246.65" y2="765.30"/>
<line x1="245.25" y1="784.50" x2="246.65" y2="784.50"/>
<line x1="245.25" y1="803.70" x2="246.65" y2="803.70"/>
<line x1="245.25" y1="822.90" x2="246.65" y2="822.90"/>
<line x1="246.65" y1="828.70" x2="246.65" y2="830.10"/>
<line x1="272.12" y1="828.70" x2="272.12" y2="830.10"/>
<line x1="297.58" y1="828.70" x2="297.58" y2="830.10"/>
<line x1="323.05" y1="828.70" x2="323.05" y2="830.10"/>
</g>
<g font-family="Liberation Sans, sans-serif" font-size="7" fill="#4d4d4d" stroke="#4d4d4d" stroke-width="0.24">
<text x="244.75" y="767.80" text-anchor="end">500</text>
<text x="244.75" y="787.00" text-anchor="end">125</text>
<text x="244.75" y="806.20" text-anchor="end">32</text>
<text x="244.75" y="825.40" text-anchor="end">8</text>
<text x="246.65" y="836.00" text-anchor="middle">0.5</text>
<text x="272.12" y="836.00" text-anchor="middle">1.0</text>
<text x="297.58" y="836.00" text-anchor="middle">1.5</text>
<text x="323.05" y="836.00" text-anchor="middle">2.0</text>
</g>
<text font-family="Liberation Sans, sans-serif" font-size="9.2" fill="#000" x="284.85" y="845.20" text-anchor="middle" stroke="#000" stroke-width="0.24">Effect Size (Years)</text>
<text font-family="Liberation Sans, sans-serif" font-size="9.2" fill="#000" x="229.55" y="794.00" text-anchor="middle" transform="rotate(-90 229.55 794.00)" stroke="#000" stroke-width="0.24">Sample Size</text>
<text font-family="Liberation Sans, sans-serif" font-size="9.5" font-weight="bold" fill="#000" x="394.10" y="749.70" text-anchor="middle" stroke="#000" stroke-width="0.24">PhenoAge</text>
<g stroke="#f4f4f4" stroke-width="0.5">
<line x1="370.03" y1="759.3" x2="370.03" y2="828.7"/>
<line x1="395.50" y1="759.3" x2="395.50" y2="828.7"/>
<line x1="420.97" y1="759.3" x2="420.97" y2="828.7"/>
<line x1="357.30" y1="774.90" x2="433.70" y2="774.90"/>
<line x1="357.30" y1="794.10" x2="433.70" y2="794.10"/>
<line x1="357.30" y1="813.32" x2="433.70" y2="813.32"/>
</g><g stroke="#ebebeb" stroke-width="0.6">
<line x1="382.77" y1="759.3" x2="382.77" y2="828.7"/>
<line x1="408.23" y1="759.3" x2="408.23" y2="828.7"/>
<line x1="357.30" y1="765.30" x2="433.70" y2="765.30"/>
<line x1="357.30" y1="784.50" x2="433.70" y2="784.50"/>
<line x1="357.30" y1="803.70" x2="433.70" y2="803.70"/>
<line x1="357.30" y1="822.90" x2="433.70" y2="822.90"/>
</g>
<svg x="357.30" y="759.30" width="76.40" height="69.40" viewBox="357.30 759.30 76.40 69.40" overflow="hidden">
<polyline points="357.3,759.0 360.2,762.0 360.5,762.1 361.6,763.3 362.0,763.5 362.3,763.9 362.8,764.2 362.8,764.4 363.9,765.2 364.7,766.0 364.9,766.1 365.3,766.6 365.6,766.6 365.7,766.9 366.0,766.9 366.1,767.2 366.9,767.6 367.0,767.9 367.4,768.0 367.9,768.6 369.5,769.7 369.5,769.8 370.3,770.2 370.3,770.4 371.7,771.2 371.7,771.4 372.3,771.8 372.6,771.8 374.0,772.9 374.2,772.9 374.7,773.4 375.0,773.4 375.4,773.8 375.6,773.8 376.4,774.5 376.7,774.5 376.9,774.8 377.2,774.8 377.7,775.2 377.9,775.2 378.4,775.7 378.7,775.7 378.8,775.9 379.3,776.1 379.5,776.3 380.0,776.4 380.1,776.7 380.9,776.9 381.0,777.2 381.2,777.2 381.5,777.4 381.7,777.4 381.7,777.6 382.0,777.6 382.0,777.7 382.3,777.7 382.3,777.9 382.5,777.9 382.5,778.0 382.8,778.0 383.0,778.3 383.3,778.3 383.3,778.4 383.5,778.4 383.5,778.6 383.8,778.6 383.8,778.7 384.0,778.7 384.0,778.8 384.4,778.8 384.7,779.1 384.9,779.1 384.9,779.3 385.2,779.3 385.2,779.4 385.6,779.4 385.8,779.8 386.5,779.9 386.5,780.1 386.8,780.1 386.8,780.2 387.1,780.2 387.1,780.4 387.5,780.4 387.5,780.6 387.7,780.6 387.7,780.7 388.1,780.7 388.1,780.9 388.5,780.9 388.5,781.1 388.9,781.1 388.9,781.3 389.1,781.3 389.1,781.4 389.5,781.4 389.5,781.6 389.9,781.6 389.9,781.8 390.3,781.8 390.3,782.0 390.8,782.0 390.8,782.2 391.2,782.2 391.2,782.3 391.6,782.3 391.6,782.5 391.9,782.5 391.9,782.7 392.4,782.7 392.4,782.9 392.8,782.9 392.8,783.1 393.3,783.1 393.3,783.3 393.7,783.3 393.7,783.5 394.2,783.5 394.2,783.7 394.7,783.7 394.7,784.0 395.1,784.0 395.1,784.2 395.6,784.2 395.6,784.4 396.1,784.4 396.1,784.6 396.8,784.6 396.8,784.8 397.3,784.8 397.3,785.1 397.8,785.1 397.8,785.3 398.4,785.3 398.4,785.5 398.9,785.5 398.9,785.8 399.6,785.8 399.6,786.0 400.2,786.0 400.2,786.3 400.8,786.3 400.8,786.5 401.5,786.5 401.5,786.8 402.1,786.8 402.1,787.0 402.8,787.0 402.8,787.3 403.5,787.3 403.5,787.6 404.3,787.6 404.3,787.9 405.1,787.9 405.1,788.2 405.8,788.2 405.8,788.4 406.6,788.4 406.6,788.7 407.3,788.7 407.3,789.0 408.2,789.0 408.2,789.4 409.1,789.4 409.1,789.7 410.0,789.7 410.0,790.0 411.0,790.0 411.0,790.3 412.1,790.3 412.1,790.7 413.1,790.7 413.1,791.0 414.1,791.0 414.1,791.4 415.2,791.4 415.2,791.8 416.4,791.8 416.4,792.1 417.5,792.1 417.5,792.5 418.8,792.5 418.8,792.9 420.2,792.9 420.2,793.3 421.5,793.3 421.5,793.8 423.0,793.8 423.0,794.2 424.5,794.2 424.5,794.7 426.1,794.7 426.1,795.1 427.7,795.1 427.7,795.6 429.5,795.6 429.5,796.1 431.4,796.1 431.4,796.6 433.3,796.6 433.3,797.2 433.7,797.2" fill="none" stroke="#bebebe" stroke-width="1.9"/>
<polyline points="357.3,765.4 359.7,767.9 360.0,768.0 360.4,768.5 360.6,768.6 360.9,769.0 361.1,769.1 361.5,769.6 362.5,770.4 362.5,770.6 362.9,770.7 362.9,770.9 363.7,771.4 363.7,771.6 364.2,771.8 364.2,772.0 364.9,772.5 364.9,772.7 366.5,773.7 367.7,774.9 368.0,774.9 368.6,775.6 368.9,775.6 369.3,776.1 369.5,776.1 369.8,776.4 370.0,776.4 370.3,776.8 370.9,777.1 371.1,777.3 371.3,777.3 371.4,777.6 371.7,777.6 372.2,778.1 372.7,778.3 372.8,778.6 373.3,778.7 373.5,779.0 373.7,779.0 374.0,779.3 374.2,779.3 374.2,779.4 374.5,779.4 374.5,779.6 374.7,779.6 374.9,779.9 375.6,780.2 375.6,780.4 376.0,780.4 376.0,780.6 376.3,780.6 376.3,780.7 376.5,780.7 376.5,780.9 376.8,780.9 376.8,781.1 377.0,781.1 377.0,781.3 377.4,781.3 377.4,781.4 377.7,781.4 377.7,781.6 377.9,781.6 377.9,781.8 378.3,781.8 378.3,782.0 378.6,782.0 378.6,782.2 378.9,782.2 378.9,782.3 379.2,782.3 379.2,782.5 379.6,782.5 379.6,782.7 379.8,782.7 379.8,782.9 380.2,782.9 380.2,783.1 380.6,783.1 380.6,783.3 381.0,783.3 381.0,783.5 381.4,783.5 381.4,783.7 381.7,783.7 381.7,784.0 382.1,784.0 382.1,784.2 382.5,784.2 382.5,784.4 382.9,784.4 382.9,784.6 383.3,784.6 383.3,784.8 383.8,784.8 383.8,785.1 384.2,785.1 384.2,785.3 384.7,785.3 384.7,785.5 385.1,785.5 385.1,785.8 385.6,785.8 385.6,786.0 386.1,786.0 386.1,786.3 386.6,786.3 386.6,786.5 387.1,786.5 387.1,786.8 387.6,786.8 387.6,787.0 388.1,787.0 388.1,787.3 388.8,787.3 388.8,787.6 389.3,787.6 389.3,787.9 389.9,787.9 389.9,788.2 390.5,788.2 390.5,788.4 391.2,788.4 391.2,788.7 391.8,788.7 391.8,789.0 392.4,789.0 392.4,789.4 393.2,789.4 393.2,789.7 394.0,789.7 394.0,790.0 394.6,790.0 394.6,790.3 395.5,790.3 395.5,790.7 396.3,790.7 396.3,791.0 397.2,791.0 397.2,791.4 398.0,791.4 398.0,791.8 398.9,791.8 398.9,792.1 399.8,792.1 399.8,792.5 400.8,792.5 400.8,792.9 401.9,792.9 401.9,793.3 403.0,793.3 403.0,793.8 404.2,793.8 404.2,794.2 405.3,794.2 405.3,794.7 406.6,794.7 406.6,795.1 408.0,795.1 408.0,795.6 409.4,795.6 409.4,796.1 410.8,796.1 410.8,796.6 412.4,796.6 412.4,797.2 414.1,797.2 414.1,797.8 415.9,797.8 415.9,798.3 417.8,798.3 417.8,799.0 419.8,799.0 419.8,799.6 422.0,799.6 422.0,800.3 424.4,800.3 424.4,801.0 427.0,801.0 427.0,801.7 429.8,801.7 429.8,802.5 432.8,802.5 432.8,803.4 433.7,803.4" fill="none" stroke="#4682b4" stroke-width="1.9"/>
<polyline points="357.3,778.4 357.9,779.0 358.3,779.6 358.6,779.6 359.1,780.4 359.3,780.4 359.6,780.9 359.8,780.9 360.0,781.3 360.2,781.3 360.5,781.8 361.0,782.0 361.1,782.3 361.4,782.3 361.5,782.7 362.0,782.9 362.1,783.3 362.4,783.3 362.4,783.5 362.6,783.5 362.6,783.7 362.9,783.7 362.9,784.0 363.2,784.0 363.2,784.2 363.4,784.2 363.4,784.4 363.7,784.4 363.7,784.6 363.9,784.6 363.9,784.8 364.2,784.8 364.2,785.1 364.4,785.1 364.4,785.3 364.7,785.3 364.7,785.5 364.9,785.5 364.9,785.8 365.3,785.8 365.3,786.0 365.6,786.0 365.6,786.3 366.0,786.3 366.0,786.5 366.2,786.5 366.2,786.8 366.6,786.8 366.6,787.0 366.9,787.0 366.9,787.3 367.2,787.3 367.2,787.6 367.6,787.6 367.6,787.9 368.0,787.9 368.0,788.2 368.4,788.2 368.4,788.4 368.8,788.4 368.8,788.7 369.1,788.7 369.1,789.0 369.5,789.0 369.5,789.4 370.0,789.4 370.0,789.7 370.4,789.7 370.4,790.0 370.9,790.0 370.9,790.3 371.4,790.3 371.4,790.7 371.9,790.7 371.9,791.0 372.5,791.0 372.5,791.4 373.0,791.4 373.0,791.8 373.6,791.8 373.6,792.1 374.2,792.1 374.2,792.5 374.7,792.5 374.7,792.9 375.5,792.9 375.5,793.3 376.1,793.3 376.1,793.8 376.8,793.8 376.8,794.2 377.5,794.2 377.5,794.7 378.4,794.7 378.4,795.1 379.2,795.1 379.2,795.6 380.1,795.6 380.1,796.1 381.0,796.1 381.0,796.6 382.0,796.6 382.0,797.2 383.0,797.2 383.0,797.8 384.2,797.8 384.2,798.3 385.3,798.3 385.3,799.0 386.6,799.0 386.6,799.6 388.0,799.6 388.0,800.3 389.4,800.3 389.4,801.0 391.0,801.0 391.0,801.7 392.7,801.7 392.7,802.5 394.6,802.5 394.6,803.4 396.8,803.4 396.8,804.3 399.1,804.3 399.1,805.2 401.6,805.2 401.6,806.2 404.5,806.2 404.5,807.4 407.9,807.4 407.9,808.6 411.5,808.6 411.5,809.9 416.0,809.9 416.0,811.3 421.2,811.3 421.2,813.0 427.6,813.0 427.6,814.8 433.7,814.8" fill="none" stroke="#dd1c1c" stroke-width="1.9"/>
</svg>
<rect x="357.30" y="759.3" width="76.40" height="69.40" fill="none" stroke="#bdbdbd" stroke-width="0.6"/>
<g stroke="#9a9a9a" stroke-width="0.5">
<line x1="355.90" y1="765.30" x2="357.30" y2="765.30"/>
<line x1="355.90" y1="784.50" x2="357.30" y2="784.50"/>
<line x1="355.90" y1="803.70" x2="357.30" y2="803.70"/>
<line x1="355.90" y1="822.90" x2="357.30" y2="822.90"/>
<line x1="357.30" y1="828.70" x2="357.30" y2="830.10"/>
<line x1="382.77" y1="828.70" x2="382.77" y2="830.10"/>
<line x1="408.23" y1="828.70" x2="408.23" y2="830.10"/>
<line x1="433.70" y1="828.70" x2="433.70" y2="830.10"/>
</g>
<g font-family="Liberation Sans, sans-serif" font-size="7" fill="#4d4d4d" stroke="#4d4d4d" stroke-width="0.24">
<text x="355.40" y="767.80" text-anchor="end">500</text>
<text x="355.40" y="787.00" text-anchor="end">125</text>
<text x="355.40" y="806.20" text-anchor="end">32</text>
<text x="355.40" y="825.40" text-anchor="end">8</text>
<text x="357.30" y="836.00" text-anchor="middle">0.5</text>
<text x="382.77" y="836.00" text-anchor="middle">1.0</text>
<text x="408.23" y="836.00" text-anchor="middle">1.5</text>
<text x="433.70" y="836.00" text-anchor="middle">2.0</text>
</g>
<text font-family="Liberation Sans, sans-serif" font-size="9.2" fill="#000" x="395.50" y="845.20" text-anchor="middle" stroke="#000" stroke-width="0.24">Effect Size (Years)</text>
<text font-family="Liberation Sans, sans-serif" font-size="9.2" fill="#000" x="340.20" y="794.00" text-anchor="middle" transform="rotate(-90 340.20 794.00)" stroke="#000" stroke-width="0.24">Sample Size</text>
<text font-family="Liberation Sans, sans-serif" font-size="9.5" font-weight="bold" fill="#000" x="504.75" y="749.70" text-anchor="middle" stroke="#000" stroke-width="0.24">DNAmTL</text>
<g stroke="#f4f4f4" stroke-width="0.5">
<line x1="480.68" y1="759.3" x2="480.68" y2="828.7"/>
<line x1="506.15" y1="759.3" x2="506.15" y2="828.7"/>
<line x1="531.62" y1="759.3" x2="531.62" y2="828.7"/>
<line x1="467.95" y1="774.90" x2="544.35" y2="774.90"/>
<line x1="467.95" y1="794.10" x2="544.35" y2="794.10"/>
<line x1="467.95" y1="813.32" x2="544.35" y2="813.32"/>
</g><g stroke="#ebebeb" stroke-width="0.6">
<line x1="493.42" y1="759.3" x2="493.42" y2="828.7"/>
<line x1="518.88" y1="759.3" x2="518.88" y2="828.7"/>
<line x1="467.95" y1="765.30" x2="544.35" y2="765.30"/>
<line x1="467.95" y1="784.50" x2="544.35" y2="784.50"/>
<line x1="467.95" y1="803.70" x2="544.35" y2="803.70"/>
<line x1="467.95" y1="822.90" x2="544.35" y2="822.90"/>
</g>
<svg x="467.95" y="759.30" width="76.40" height="69.40" viewBox="467.95 759.30 76.40 69.40" overflow="hidden">
<polyline points="468.0,760.8 473.4,766.2 473.7,766.3 474.2,766.9 474.4,766.9 474.7,767.3 475.0,767.4 475.5,768.0 476.7,768.9 476.7,769.0 478.4,770.2 478.4,770.3 478.9,770.6 478.9,770.7 479.8,771.2 479.8,771.4 482.1,773.0 482.3,773.0 483.1,773.7 483.4,773.7 483.9,774.3 484.1,774.3 484.5,774.7 484.8,774.7 485.0,775.0 485.6,775.2 485.9,775.6 486.2,775.6 486.7,776.1 486.9,776.1 487.1,776.3 487.3,776.3 487.4,776.5 487.9,776.7 488.1,776.9 488.3,776.9 488.7,777.3 489.7,777.7 489.9,778.0 490.1,778.0 490.4,778.3 490.6,778.3 490.6,778.4 490.9,778.4 490.9,778.6 491.1,778.6 491.1,778.7 491.4,778.7 491.6,779.0 491.9,779.0 491.9,779.1 492.1,779.1 492.1,779.3 492.5,779.3 492.8,779.6 493.0,779.6 493.0,779.8 493.3,779.8 493.3,779.9 493.7,779.9 493.7,780.1 493.9,780.1 493.9,780.2 494.2,780.2 494.2,780.4 494.6,780.4 494.6,780.6 494.8,780.6 494.8,780.7 495.5,780.9 495.5,781.1 495.8,781.1 495.8,781.3 496.2,781.3 496.2,781.4 496.5,781.4 496.5,781.6 497.2,781.8 497.2,782.0 497.6,782.0 497.6,782.2 498.0,782.2 498.0,782.3 498.4,782.3 498.4,782.5 498.8,782.5 498.8,782.7 499.1,782.7 499.1,782.9 499.5,782.9 499.5,783.1 500.0,783.1 500.0,783.3 500.4,783.3 500.4,783.5 500.9,783.5 500.9,783.7 501.3,783.7 501.3,784.0 501.8,784.0 501.8,784.2 502.2,784.2 502.2,784.4 502.7,784.4 502.7,784.6 503.2,784.6 503.2,784.8 503.7,784.8 503.7,785.1 504.2,785.1 504.2,785.3 504.7,785.3 504.7,785.5 505.3,785.5 505.3,785.8 505.9,785.8 505.9,786.0 506.4,786.0 506.4,786.3 507.0,786.3 507.0,786.5 507.7,786.5 507.7,786.8 508.3,786.8 508.3,787.0 509.0,787.0 509.0,787.3 509.6,787.3 509.6,787.6 510.2,787.6 510.2,787.9 511.0,787.9 511.0,788.2 511.8,788.2 511.8,788.4 512.4,788.4 512.4,788.7 513.3,788.7 513.3,789.0 514.0,789.0 514.0,789.4 514.8,789.4 514.8,789.7 515.7,789.7 515.7,790.0 516.6,790.0 516.6,790.3 517.5,790.3 517.5,790.7 518.5,790.7 518.5,791.0 519.5,791.0 519.5,791.4 520.5,791.4 520.5,791.8 521.6,791.8 521.6,792.1 522.7,792.1 522.7,792.5 524.0,792.5 524.0,792.9 525.1,792.9 525.1,793.3 526.4,793.3 526.4,793.8 527.8,793.8 527.8,794.2 529.2,794.2 529.2,794.7 530.7,794.7 530.7,795.1 532.3,795.1 532.3,795.6 533.9,795.6 533.9,796.1 535.7,796.1 535.7,796.6 537.6,796.6 537.6,797.2 539.5,797.2 539.5,797.8 541.7,797.8 541.7,798.3 543.8,798.3 543.8,799.0 544.4,799.0" fill="none" stroke="#bebebe" stroke-width="1.9"/>
<polyline points="468.0,776.2 470.0,778.4 470.2,778.4 470.9,779.3 471.1,779.3 471.4,779.8 471.6,779.8 471.9,780.2 472.2,780.2 472.4,780.7 472.7,780.7 472.8,781.1 473.0,781.1 473.2,781.4 473.4,781.4 473.6,781.8 474.1,782.0 474.2,782.3 474.4,782.3 474.4,782.5 474.7,782.5 474.7,782.7 475.0,782.7 475.0,782.9 475.2,782.9 475.3,783.3 475.8,783.5 475.8,783.7 476.1,783.7 476.1,784.0 476.4,784.0 476.4,784.2 476.7,784.2 476.7,784.4 477.0,784.4 477.0,784.6 477.2,784.6 477.2,784.8 477.5,784.8 477.5,785.1 477.9,785.1 477.9,785.3 478.1,785.3 478.1,785.5 478.4,785.5 478.4,785.8 478.8,785.8 478.8,786.0 479.0,786.0 479.0,786.3 479.4,786.3 479.4,786.5 479.8,786.5 479.8,786.8 480.2,786.8 480.2,787.0 480.6,787.0 480.6,787.3 480.9,787.3 480.9,787.6 481.3,787.6 481.3,787.9 481.7,787.9 481.7,788.2 482.1,788.2 482.1,788.4 482.5,788.4 482.5,788.7 483.0,788.7 483.0,789.0 483.4,789.0 483.4,789.4 483.9,789.4 483.9,789.7 484.4,789.7 484.4,790.0 484.9,790.0 484.9,790.3 485.4,790.3 485.4,790.7 486.0,790.7 486.0,791.0 486.5,791.0 486.5,791.4 487.2,791.4 487.2,791.8 487.8,791.8 487.8,792.1 488.5,792.1 488.5,792.5 489.1,792.5 489.1,792.9 489.7,792.9 489.7,793.3 490.5,793.3 490.5,793.8 491.3,793.8 491.3,794.2 492.1,794.2 492.1,794.7 492.9,794.7 492.9,795.1 493.8,795.1 493.8,795.6 494.8,795.6 494.8,796.1 495.8,796.1 495.8,796.6 496.9,796.6 496.9,797.2 498.0,797.2 498.0,797.8 499.1,797.8 499.1,798.3 500.4,798.3 500.4,799.0 501.8,799.0 501.8,799.6 503.3,799.6 503.3,800.3 504.9,800.3 504.9,801.0 506.7,801.0 506.7,801.7 508.6,801.7 508.6,802.5 510.6,802.5 510.6,803.4 512.9,803.4 512.9,804.3 515.3,804.3 515.3,805.2 518.1,805.2 518.1,806.2 521.3,806.2 521.3,807.4 524.9,807.4 524.9,808.6 528.9,808.6 528.9,809.9 533.8,809.9 533.8,811.3 539.4,811.3 539.4,813.0 544.4,813.0" fill="none" stroke="#4682b4" stroke-width="1.9"/>
<polyline points="468.0,792.1 468.3,792.1 468.3,792.5 468.6,792.5 468.6,792.9 469.1,792.9 469.1,793.3 469.5,793.3 469.5,793.8 469.9,793.8 469.9,794.2 470.4,794.2 470.4,794.7 470.9,794.7 470.9,795.1 471.4,795.1 471.4,795.6 471.9,795.6 471.9,796.1 472.4,796.1 472.4,796.6 473.0,796.6 473.0,797.2 473.7,797.2 473.7,797.8 474.3,797.8 474.3,798.3 475.1,798.3 475.1,799.0 475.8,799.0 475.8,799.6 476.6,799.6 476.6,800.3 477.5,800.3 477.5,801.0 478.5,801.0 478.5,801.7 479.5,801.7 479.5,802.5 480.7,802.5 480.7,803.4 482.0,803.4 482.0,804.3 483.4,804.3 483.4,805.2 485.0,805.2 485.0,806.2 486.7,806.2 486.7,807.4 488.7,807.4 488.7,808.6 491.0,808.6 491.0,809.9 493.7,809.9 493.7,811.3 496.9,811.3 496.9,813.0 500.8,813.0 500.8,814.8 505.5,814.8 505.5,817.0 511.8,817.0 511.8,819.5 520.4,819.5 520.4,822.6 533.3,822.6 533.3,826.6 544.4,826.6" fill="none" stroke="#dd1c1c" stroke-width="1.9"/>
</svg>
<rect x="467.95" y="759.3" width="76.40" height="69.40" fill="none" stroke="#bdbdbd" stroke-width="0.6"/>
<g stroke="#9a9a9a" stroke-width="0.5">
<line x1="466.55" y1="765.30" x2="467.95" y2="765.30"/>
<line x1="466.55" y1="784.50" x2="467.95" y2="784.50"/>
<line x1="466.55" y1="803.70" x2="467.95" y2="803.70"/>
<line x1="466.55" y1="822.90" x2="467.95" y2="822.90"/>
<line x1="467.95" y1="828.70" x2="467.95" y2="830.10"/>
<line x1="493.42" y1="828.70" x2="493.42" y2="830.10"/>
<line x1="518.88" y1="828.70" x2="518.88" y2="830.10"/>
<line x1="544.35" y1="828.70" x2="544.35" y2="830.10"/>
</g>
<g font-family="Liberation Sans, sans-serif" font-size="7" fill="#4d4d4d" stroke="#4d4d4d" stroke-width="0.24">
<text x="466.05" y="767.80" text-anchor="end">500</text>
<text x="466.05" y="787.00" text-anchor="end">125</text>
<text x="466.05" y="806.20" text-anchor="end">32</text>
<text x="466.05" y="825.40" text-anchor="end">8</text>
<text x="467.95" y="836.00" text-anchor="middle">0.5</text>
<text x="493.42" y="836.00" text-anchor="middle">1.0</text>
<text x="518.88" y="836.00" text-anchor="middle">1.5</text>
<text x="544.35" y="836.00" text-anchor="middle">2.0</text>
</g>
<text font-family="Liberation Sans, sans-serif" font-size="9.2" fill="#000" x="506.15" y="845.20" text-anchor="middle" stroke="#000" stroke-width="0.24">Effect Size (Years)</text>
<text font-family="Liberation Sans, sans-serif" font-size="9.2" fill="#000" x="450.85" y="794.00" text-anchor="middle" transform="rotate(-90 450.85 794.00)" stroke="#000" stroke-width="0.24">Sample Size</text>
<text font-family="Liberation Sans, sans-serif" font-size="9.5" font-weight="bold" fill="#000" x="615.40" y="749.70" text-anchor="middle" stroke="#000" stroke-width="0.24">GrimAge</text>
<g stroke="#f4f4f4" stroke-width="0.5">
<line x1="591.33" y1="759.3" x2="591.33" y2="828.7"/>
<line x1="616.80" y1="759.3" x2="616.80" y2="828.7"/>
<line x1="642.27" y1="759.3" x2="642.27" y2="828.7"/>
<line x1="578.60" y1="774.90" x2="655.00" y2="774.90"/>
<line x1="578.60" y1="794.10" x2="655.00" y2="794.10"/>
<line x1="578.60" y1="813.32" x2="655.00" y2="813.32"/>
</g><g stroke="#ebebeb" stroke-width="0.6">
<line x1="604.07" y1="759.3" x2="604.07" y2="828.7"/>
<line x1="629.53" y1="759.3" x2="629.53" y2="828.7"/>
<line x1="578.60" y1="765.30" x2="655.00" y2="765.30"/>
<line x1="578.60" y1="784.50" x2="655.00" y2="784.50"/>
<line x1="578.60" y1="803.70" x2="655.00" y2="803.70"/>
<line x1="578.60" y1="822.90" x2="655.00" y2="822.90"/>
</g>
<svg x="578.60" y="759.30" width="76.40" height="69.40" viewBox="578.60 759.30 76.40 69.40" overflow="hidden">
<polyline points="578.6,783.7 578.7,783.7 578.7,784.0 579.0,784.0 579.0,784.2 579.2,784.2 579.4,784.6 579.6,784.6 579.6,784.8 579.9,784.8 580.0,785.3 580.3,785.3 580.3,785.5 580.5,785.5 580.5,785.8 580.8,785.8 580.8,786.0 581.0,786.0 581.0,786.3 581.3,786.3 581.3,786.5 581.5,786.5 581.5,786.8 581.8,786.8 581.8,787.0 582.0,787.0 582.0,787.3 582.4,787.3 582.4,787.6 582.7,787.6 582.7,787.9 582.9,787.9 582.9,788.2 583.3,788.2 583.3,788.4 583.6,788.4 583.6,788.7 583.9,788.7 583.9,789.0 584.3,789.0 584.3,789.4 584.7,789.4 584.7,789.7 585.1,789.7 585.1,790.0 585.5,790.0 585.5,790.3 585.9,790.3 585.9,790.7 586.2,790.7 586.2,791.0 586.6,791.0 586.6,791.4 587.1,791.4 587.1,791.8 587.6,791.8 587.6,792.1 588.1,792.1 588.1,792.5 588.7,792.5 588.7,792.9 589.2,792.9 589.2,793.3 589.7,793.3 589.7,793.8 590.3,793.8 590.3,794.2 591.0,794.2 591.0,794.7 591.6,794.7 591.6,795.1 592.2,795.1 592.2,795.6 593.0,795.6 593.0,796.1 593.8,796.1 593.8,796.6 594.5,796.6 594.5,797.2 595.4,797.2 595.4,797.8 596.3,797.8 596.3,798.3 597.3,798.3 597.3,799.0 598.3,799.0 598.3,799.6 599.5,799.6 599.5,800.3 600.6,800.3 600.6,801.0 602.0,801.0 602.0,801.7 603.4,801.7 603.4,802.5 605.0,802.5 605.0,803.4 606.7,803.4 606.7,804.3 608.7,804.3 608.7,805.2 610.7,805.2 610.7,806.2 613.1,806.2 613.1,807.4 615.9,807.4 615.9,808.6 619.0,808.6 619.0,809.9 622.7,809.9 622.7,811.3 626.9,811.3 626.9,813.0 632.2,813.0 632.2,814.8 638.7,814.8 638.7,817.0 647.2,817.0 647.2,819.5 655.0,819.5" fill="none" stroke="#bebebe" stroke-width="1.9"/>
<polyline points="578.6,781.3 579.0,781.6 579.0,781.8 579.2,781.8 579.5,782.3 579.7,782.3 579.9,782.7 580.1,782.7 580.3,783.1 580.5,783.1 580.6,783.5 581.1,783.7 581.3,784.2 581.5,784.2 581.5,784.4 581.8,784.4 581.8,784.6 582.0,784.6 582.0,784.8 582.3,784.8 582.3,785.1 582.5,785.1 582.5,785.3 582.8,785.3 582.8,785.5 583.1,785.5 583.1,785.8 583.3,785.8 583.3,786.0 583.6,786.0 583.6,786.3 583.8,786.3 583.8,786.5 584.1,786.5 584.1,786.8 584.5,786.8 584.5,787.0 584.7,787.0 584.7,787.3 585.1,787.3 585.1,787.6 585.3,787.6 585.3,787.9 585.7,787.9 585.7,788.2 586.0,788.2 586.0,788.4 586.4,788.4 586.4,788.7 586.7,788.7 586.7,789.0 587.1,789.0 587.1,789.4 587.5,789.4 587.5,789.7 587.9,789.7 587.9,790.0 588.4,790.0 588.4,790.3 588.8,790.3 588.8,790.7 589.3,790.7 589.3,791.0 589.7,791.0 589.7,791.4 590.2,791.4 590.2,791.8 590.7,791.8 590.7,792.1 591.3,792.1 591.3,792.5 591.8,792.5 591.8,792.9 592.5,792.9 592.5,793.3 593.0,793.3 593.0,793.8 593.6,793.8 593.6,794.2 594.4,794.2 594.4,794.7 595.0,794.7 595.0,795.1 595.8,795.1 595.8,795.6 596.6,795.6 596.6,796.1 597.4,796.1 597.4,796.6 598.3,796.6 598.3,797.2 599.2,797.2 599.2,797.8 600.2,797.8 600.2,798.3 601.3,798.3 601.3,799.0 602.4,799.0 602.4,799.6 603.7,799.6 603.7,800.3 605.0,800.3 605.0,801.0 606.5,801.0 606.5,801.7 608.0,801.7 608.0,802.5 609.7,802.5 609.7,803.4 611.6,803.4 611.6,804.3 613.6,804.3 613.6,805.2 616.0,805.2 616.0,806.2 618.6,806.2 618.6,807.4 621.5,807.4 621.5,808.6 624.9,808.6 624.9,809.9 628.9,809.9 628.9,811.3 633.6,811.3 633.6,813.0 639.3,813.0 639.3,814.8 646.5,814.8 646.5,817.0 655.0,817.0" fill="none" stroke="#4682b4" stroke-width="1.9"/>
<polyline points="578.6,793.8 579.0,793.8 579.0,794.2 579.5,794.2 579.5,794.7 579.9,794.7 579.9,795.1 580.4,795.1 580.4,795.6 580.9,795.6 580.9,796.1 581.4,796.1 581.4,796.6 581.9,796.6 581.9,797.2 582.5,797.2 582.5,797.8 583.2,797.8 583.2,798.3 583.8,798.3 583.8,799.0 584.6,799.0 584.6,799.6 585.3,799.6 585.3,800.3 586.2,800.3 586.2,801.0 587.1,801.0 587.1,801.7 588.1,801.7 588.1,802.5 589.3,802.5 589.3,803.4 590.4,803.4 590.4,804.3 591.7,804.3 591.7,805.2 593.2,805.2 593.2,806.2 594.9,806.2 594.9,807.4 596.8,807.4 596.8,808.6 599.0,808.6 599.0,809.9 601.5,809.9 601.5,811.3 604.4,811.3 604.4,813.0 608.1,813.0 608.1,814.8 612.7,814.8 612.7,817.0 618.6,817.0 618.6,819.5 626.7,819.5 626.7,822.6 638.8,822.6 638.8,826.6 655.0,826.6" fill="none" stroke="#dd1c1c" stroke-width="1.9"/>
</svg>
<rect x="578.60" y="759.3" width="76.40" height="69.40" fill="none" stroke="#bdbdbd" stroke-width="0.6"/>
<g stroke="#9a9a9a" stroke-width="0.5">
<line x1="577.20" y1="765.30" x2="578.60" y2="765.30"/>
<line x1="577.20" y1="784.50" x2="578.60" y2="784.50"/>
<line x1="577.20" y1="803.70" x2="578.60" y2="803.70"/>
<line x1="577.20" y1="822.90" x2="578.60" y2="822.90"/>
<line x1="578.60" y1="828.70" x2="578.60" y2="830.10"/>
<line x1="604.07" y1="828.70" x2="604.07" y2="830.10"/>
<line x1="629.53" y1="828.70" x2="629.53" y2="830.10"/>
<line x1="655.00" y1="828.70" x2="655.00" y2="830.10"/>
</g>
<g font-family="Liberation Sans, sans-serif" font-size="7" fill="#4d4d4d" stroke="#4d4d4d" stroke-width="0.24">
<text x="576.70" y="767.80" text-anchor="end">500</text>
<text x="576.70" y="787.00" text-anchor="end">125</text>
<text x="576.70" y="806.20" text-anchor="end">32</text>
<text x="576.70" y="825.40" text-anchor="end">8</text>
<text x="578.60" y="836.00" text-anchor="middle">0.5</text>
<text x="604.07" y="836.00" text-anchor="middle">1.0</text>
<text x="629.53" y="836.00" text-anchor="middle">1.5</text>
<text x="655.00" y="836.00" text-anchor="middle">2.0</text>
</g>
<text font-family="Liberation Sans, sans-serif" font-size="9.2" fill="#000" x="616.80" y="845.20" text-anchor="middle" stroke="#000" stroke-width="0.24">Effect Size (Years)</text>
<text font-family="Liberation Sans, sans-serif" font-size="9.2" fill="#000" x="561.50" y="794.00" text-anchor="middle" transform="rotate(-90 561.50 794.00)" stroke="#000" stroke-width="0.24">Sample Size</text>
<g font-family="Liberation Sans, sans-serif" font-size="9.3" fill="#000" stroke="#000" stroke-width="0.24">
<circle cx="241.7" cy="858.3" r="1" fill="#bebebe"/><text x="246.3" y="862">Original</text>
<circle cx="283" cy="858.3" r="1" fill="#4682b4"/><text x="287.6" y="862">PC Clock</text>
<circle cx="331.4" cy="858.3" r="1" fill="#dd1c1c"/><text x="336.7" y="862">PC Clock Adjust Cell</text>
</g>
</svg></body></html>
